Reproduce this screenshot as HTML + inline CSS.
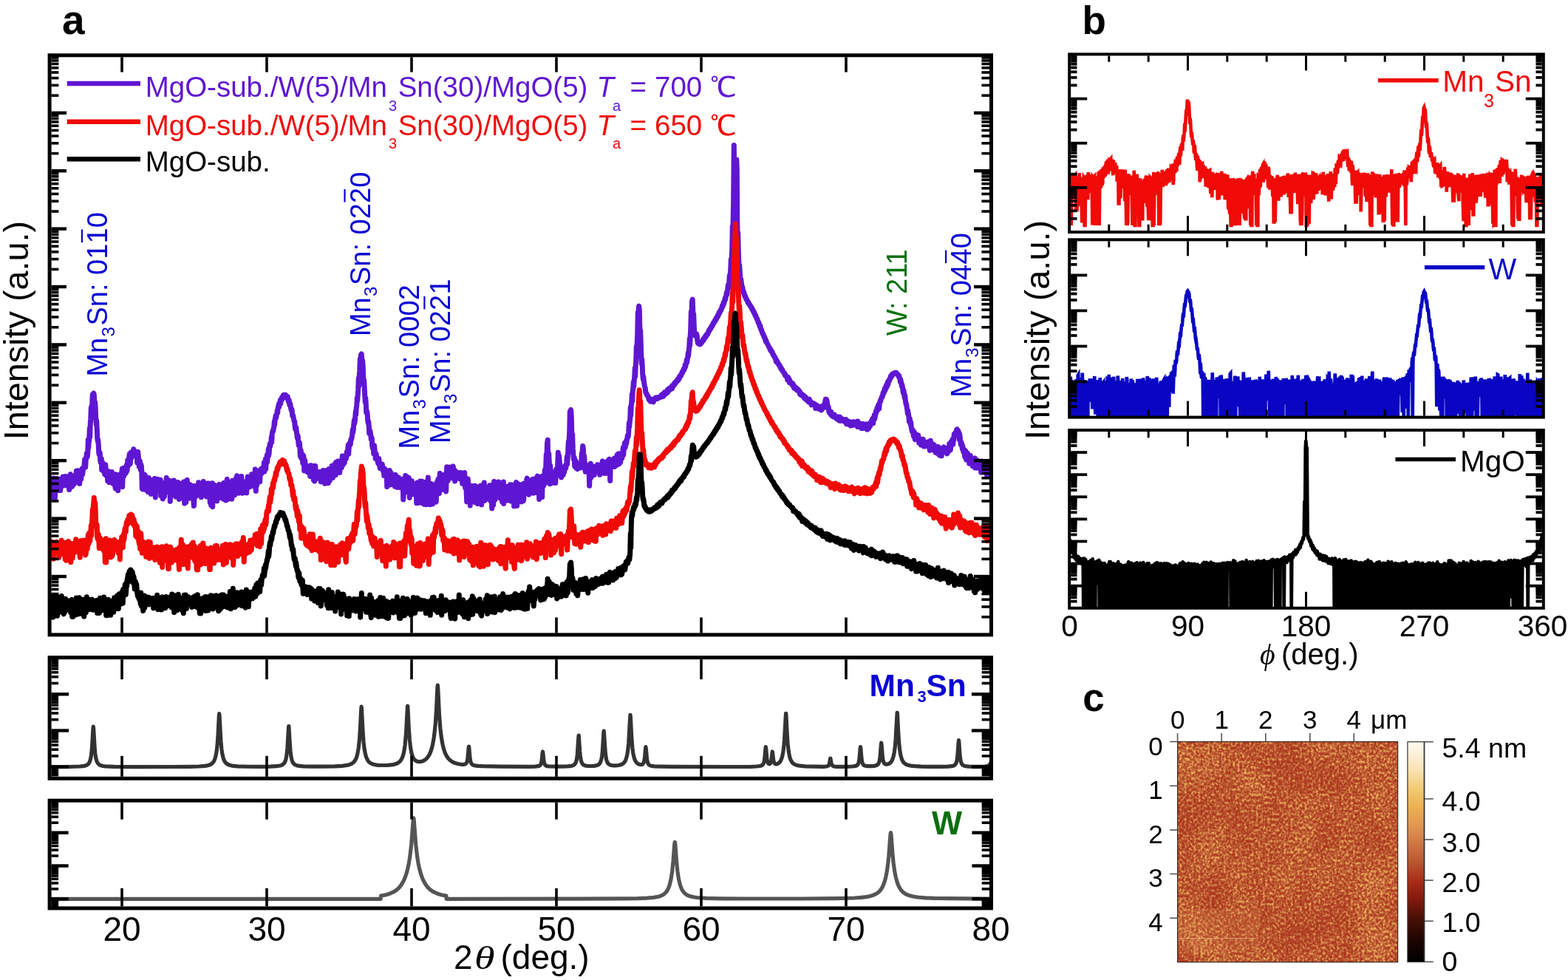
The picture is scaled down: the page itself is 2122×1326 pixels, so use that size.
<!DOCTYPE html><html><head><meta charset="utf-8"><title>XRD figure</title><style>html,body{margin:0;padding:0;background:#fff;overflow:hidden}svg{display:block}</style></head><body><svg xmlns="http://www.w3.org/2000/svg" width="2122" height="1326" viewBox="0 0 2122 1326"><defs><clipPath id="clipA"><rect x="67.1" y="74.8" width="1274.4" height="784.1"/></clipPath><clipPath id="clipMn"><rect x="67.1" y="889.7" width="1274.4" height="163.6"/></clipPath><clipPath id="clipW"><rect x="67.1" y="1083.2" width="1274.4" height="145.7"/></clipPath><clipPath id="clipB1"><rect x="1447.2" y="73.4" width="641.6" height="240.6"/></clipPath><clipPath id="clipB2"><rect x="1447.2" y="324.3" width="641.6" height="240.3"/></clipPath><clipPath id="clipB3"><rect x="1447.2" y="582" width="641.6" height="240.8"/></clipPath><filter id="afm" x="0" y="0" width="1" height="1" color-interpolation-filters="sRGB"><feTurbulence type="fractalNoise" baseFrequency="0.32 0.27" numOctaves="2" seed="11" result="hi0"/><feColorMatrix in="hi0" type="matrix" values="1 0 0 0 0 1 0 0 0 0 1 0 0 0 0 0 0 0 0 1" result="hi"/><feTurbulence type="fractalNoise" baseFrequency="0.018 0.014" numOctaves="2" seed="5" result="lo0"/><feColorMatrix in="lo0" type="matrix" values="1 0 0 0 0 1 0 0 0 0 1 0 0 0 0 0 0 0 0 1" result="lo"/><feComposite in="hi" in2="lo" operator="arithmetic" k1="0" k2="1" k3="0.3" k4="-0.150" result="mix"/><feColorMatrix in="mix" type="matrix" values="1.7 0 0 0 -0.350 1.7 0 0 0 -0.350 1.7 0 0 0 -0.350 0 0 0 0 1"/><feComponentTransfer><feFuncR type="gamma" amplitude="0.32" exponent="2.2" offset="0.39"/><feFuncG type="gamma" amplitude="0.32" exponent="2.2" offset="0.39"/><feFuncB type="gamma" amplitude="0.32" exponent="2.2" offset="0.39"/></feComponentTransfer><feComponentTransfer><feFuncR type="table" tableValues="0.000 0.037 0.074 0.110 0.161 0.215 0.269 0.337 0.416 0.494 0.564 0.620 0.670 0.692 0.713 0.740 0.772 0.802 0.830 0.857 0.878 0.898 0.918 0.931 0.940 0.949 0.957 0.964 0.971 0.979 0.986 0.993 1.000"/><feFuncG type="table" tableValues="0.000 0.006 0.012 0.018 0.030 0.044 0.057 0.072 0.086 0.101 0.121 0.149 0.183 0.245 0.308 0.362 0.409 0.457 0.506 0.555 0.596 0.635 0.675 0.712 0.749 0.786 0.820 0.854 0.889 0.913 0.935 0.958 0.980"/><feFuncB type="table" tableValues="0.000 0.000 0.000 0.000 0.006 0.013 0.021 0.029 0.039 0.049 0.062 0.079 0.100 0.137 0.174 0.205 0.233 0.260 0.284 0.309 0.314 0.314 0.314 0.343 0.392 0.443 0.531 0.619 0.707 0.771 0.831 0.890 0.949"/></feComponentTransfer></filter><linearGradient id="cbg" x1="0" y1="0" x2="0" y2="1"><stop offset="0.000" stop-color="#FFFAF2"/><stop offset="0.120" stop-color="#F8E4B8"/><stop offset="0.220" stop-color="#F2C870"/><stop offset="0.300" stop-color="#ECB050"/><stop offset="0.400" stop-color="#DC9050"/><stop offset="0.480" stop-color="#CA7040"/><stop offset="0.550" stop-color="#B85530"/><stop offset="0.630" stop-color="#AA2C18"/><stop offset="0.700" stop-color="#8A1C0E"/><stop offset="0.800" stop-color="#4A1006"/><stop offset="0.900" stop-color="#1E0500"/><stop offset="1.000" stop-color="#000000"/></linearGradient></defs><rect width="2122" height="1326" fill="#fff"/><polyline points="63.3,649 63.7,666 64.3,655.6 64.7,654.7 65.3,649 65.7,660.9 66.3,658.6 66.7,645.9 67.3,651.8 67.7,673.9 68.3,662.5 68.7,653.2 69.3,649.1 69.7,661.5 70.3,666 70.7,659.7 71.3,653.6 71.7,665.4 72.3,654.2 72.7,647 73.3,648.2 73.7,658.4 74.3,674.7 74.7,667.9 75.3,649.8 75.7,660.9 76.3,648.5 76.7,647.5 77.3,651 77.7,660 78.3,656 78.7,648.1 79.3,653.3 79.7,663.5 80.5,653.4 81.3,648.3 81.7,663.7 82.5,654 83.3,655.3 83.7,657.2 84.3,657.7 84.7,657.1 85.3,645.1 85.7,655.1 86.3,654.7 86.7,646.6 87.3,650.4 87.7,656 88.3,653 88.7,644.4 89.3,646.4 89.7,657 90.3,656.5 90.7,645.1 91.3,646.3 91.7,651.4 92.3,655.1 92.7,646.1 93.3,649.3 93.7,662.6 94.3,653.2 94.7,646.8 95.3,641.7 95.7,649.3 96.3,655.7 96.7,647.1 97.3,644.5 97.7,658.4 98.3,655.7 98.7,654.3 99.3,648.2 99.7,654.4 100.3,655.1 100.7,650 101.3,643.8 101.7,647.3 102.3,649 102.7,642.6 103.3,637.3 103.7,645.2 104.3,652.4 104.7,643.8 105.3,636.8 105.7,649 106.3,644.8 106.7,641.3 107.3,641.3 107.7,654.5 108.3,646.3 108.7,643.1 109.3,643.9 109.7,648.4 110.3,638.8 110.7,635.1 111.3,633.8 111.7,642 112.3,636.2 112.7,633.9 113.3,631.8 113.7,634.1 114.3,625.6 114.7,621.6 115.3,621.9 115.7,632.1 116.3,622.2 116.7,620.3 117.3,613.5 117.7,618.6 118.3,617.6 118.7,613.8 119.3,595.1 119.7,606.1 120.3,597.3 120.7,596 121.3,579.5 121.7,591.4 122.3,572.4 122.7,567.5 123.3,551.6 123.7,564.7 124.3,550.2 124.7,545.5 125.3,534.1 125.7,541.8 126.3,533.2 126.7,532.1 127.3,533.8 127.7,541 128.3,549.3 128.7,544.5 129.3,553.2 129.7,566.5 130.3,574.4 130.7,569.3 131.3,581.9 131.7,592.7 132.3,597.3 132.7,594.6 133.3,602.1 133.7,612.9 134.3,615.4 134.7,611.5 135.3,613 135.7,623.2 136.3,626 136.7,622.6 137.3,620.3 137.7,636 138.3,627.4 138.7,625.4 139.3,630.1 139.7,634.8 140.3,637.8 140.7,634.3 141.3,632.6 141.7,641.7 142.3,634.8 142.7,628.7 143.3,635.4 143.7,643.2 144.3,639.4 144.7,639 145.3,643 145.7,650.7 146.3,644.5 146.7,639.7 147.3,637.9 147.7,652.7 148.3,641.9 148.7,640.9 149.3,641.9 149.7,651.3 150.3,647.5 150.7,645.3 151.3,638.6 151.7,653 152.3,654 152.7,640.7 153.3,641.7 153.7,648.4 154.3,647.9 154.7,642.7 155.3,645.3 155.7,658.3 156.3,660.9 156.7,645 157.3,641.9 157.7,647.6 158.3,659.1 158.7,653 159.3,651.3 159.7,663.8 160.3,652.3 160.7,650.4 161.3,642.5 161.7,647.6 162.3,653.4 162.7,652.9 163.3,641.6 163.7,648.9 164.3,647.6 164.7,639.9 165.3,634.3 165.7,658.7 166.3,641.8 166.7,638.1 167.3,633.3 167.7,644.2 168.3,637.8 168.7,634.7 169.3,634.8 169.7,636.4 170.3,640.2 170.7,637 171.3,629.3 171.7,637.7 172.3,635.6 172.7,622.8 173.3,629.5 173.7,630.3 174.3,626.3 174.7,618.6 175.3,614.3 175.7,620.7 176.3,627.5 176.7,620.5 177.3,612.2 177.7,620.2 178.3,614.2 178.7,611.3 179.3,610.9 179.7,617 180.4,610.7 180.8,607.8 181.3,608.7 181.7,611.8 182.3,613.6 182.7,612.9 183.3,611.5 183.7,616.3 184.3,617 184.7,615.1 185.3,617.2 185.7,626.1 186.3,617.6 186.7,611.6 187.3,617.9 187.7,623.3 188.3,631.6 188.7,625.3 189.3,623.5 189.7,630.6 190.3,635.8 190.7,628.2 191.3,630.2 191.7,636.7 192.3,661.1 192.7,660.1 193.3,641.5 193.7,662.1 194.3,648.2 194.7,643.6 195.3,641.8 195.7,649.9 196.5,643.2 197.3,652.8 197.7,662.8 198.3,647 198.7,646.5 199.3,653.2 199.7,660.6 200.3,665.5 200.7,654.6 201.3,646.4 201.7,649 202.3,655.8 202.7,651.3 203.3,656.5 203.7,665.1 204.3,668.4 204.7,649.8 205.3,649.8 205.7,663.2 206.3,657.2 206.7,655.1 207.3,654 207.7,660.7 208.3,657.1 208.7,654.9 209.3,647.5 209.7,651.9 210.3,673 210.7,655.7 211.3,651.6 211.7,661.7 212.3,663.8 212.7,653.8 213.3,648.2 213.7,651.2 214.3,661.9 214.7,651.4 215.3,649.2 215.7,657.3 216.5,651.1 217.3,649.3 217.7,670.9 218.3,664.2 218.7,661.8 219.3,655.4 219.7,661.8 220.3,674.9 220.7,659.3 221.3,656.5 221.7,662.9 222.3,672 222.7,665.8 223.3,653.2 223.7,655.4 224.3,661.2 224.7,654.6 225.3,646.4 225.7,665 226.3,663.9 226.7,652.6 227.3,654.4 227.7,665.8 228.3,661.8 228.7,653.6 229.3,650.2 229.7,655.2 230.3,678.4 230.7,668.8 231.3,652.5 231.7,659.6 232.3,662.9 232.7,654.5 233.3,653.3 233.7,659.2 234.3,663.6 234.7,659 235.3,649.9 235.7,669.8 236.3,667.2 236.7,658.1 237.3,654.5 237.7,672.1 238.3,660.4 238.7,656.1 239.3,658 239.7,671.1 240.3,672 240.7,652.6 241.3,654.4 241.7,669.5 242.3,675.4 242.7,670.5 243.3,654.1 243.7,663.8 244.3,669.8 244.7,664.1 245.3,656.3 245.7,661.6 246.3,673.7 246.7,654.5 247.3,655.6 247.7,670.3 248.3,659.2 248.7,652.1 249.3,660.5 249.7,681.1 250.3,674.4 250.7,655.7 251.3,651.3 251.7,679.6 252.3,663.3 252.7,653.3 253.3,649.5 253.7,666.1 254.3,667.8 254.7,660.3 255.3,659.7 255.7,669.5 256.3,674.3 256.7,655.5 257.3,663.8 257.7,672.8 258.3,661.7 258.7,656.8 259.3,657.1 259.7,664.6 260.3,673.7 260.7,665.3 261.3,657.9 261.7,674.2 262.3,684.6 262.7,680.9 263.3,657.6 263.7,662 264.3,672.4 264.7,665.1 265.3,661.5 265.7,671 266.3,664.3 266.7,661.2 267.3,662.4 267.7,667.5 268.3,661.2 268.7,652.7 269.3,656.9 269.7,662.2 270.3,659.6 270.7,657.4 271.3,660.1 271.7,661.9 272.3,672.7 272.7,665.1 273.3,659.7 273.7,666.1 274.3,670.6 274.7,658.6 275.3,651.4 275.7,661.5 276.3,665.4 276.7,659.5 277.3,660.6 277.7,663.2 278.3,662.7 278.7,656.8 279.3,663.5 279.7,672 280.3,656.3 280.7,654.1 281.3,656.3 281.7,671 282.3,666.4 282.7,654 283.3,661.2 283.7,670.6 284.3,679.9 284.7,660.1 285.3,656.7 285.7,683.7 286.3,668.6 286.7,661.9 287.3,653.8 287.7,685.7 288.3,666.1 288.7,661.3 289.3,659 289.7,661.9 290.3,676.9 290.7,656.6 291.3,657.4 291.7,661.2 292.3,664.2 292.7,661.2 293.3,659.3 293.7,678 294.3,672.3 294.7,661.7 295.3,659 295.7,671 296.3,656.9 296.7,655.3 297.3,658.4 297.7,673.6 298.3,667.7 298.7,664.3 299.3,666 299.7,669.3 300.3,664.2 300.7,657.7 301.3,658.3 301.7,674.6 302.3,667.3 302.7,653.4 303.3,661.9 303.7,675.8 304.3,662.4 304.7,660.1 305.3,656.1 305.7,677.1 306.3,664.4 306.7,660.9 307.3,648.4 307.7,672.6 308.3,675.6 308.7,659.6 309.3,661.1 309.7,671.8 310.3,654.7 310.7,653.8 311.3,653.2 311.7,660.7 312.3,660.9 312.7,657.9 313.3,662.1 313.7,675.2 314.3,671.6 314.7,650.2 315.3,657.4 315.7,669.5 316.3,662.2 316.7,658.9 317.3,655.8 317.7,669.8 318.3,660.8 318.7,660.5 319.3,647.3 319.7,661.5 320.3,650.6 320.7,643.7 321.3,656 321.7,665 322.3,664.6 322.7,662.6 323.3,655.9 323.7,667.3 324.3,666.3 324.7,645.8 325.3,652.2 325.7,656.8 326.3,662.9 326.7,644.5 327.3,653.5 327.7,664.1 328.3,667.3 328.7,653 329.3,655.2 329.7,662.7 330.3,654.9 330.7,654.4 331.3,663.3 331.7,665.6 332.3,661.2 332.7,659.2 333.3,651.4 333.7,667 334.3,653.5 334.7,650.3 335.3,644.9 335.7,652.3 336.3,649.4 336.7,647.5 337.3,650.7 337.7,657 338.3,658.8 338.7,648.2 339.3,645.5 339.7,653.4 340.3,654.5 340.7,641.7 341.3,645.2 341.7,648.2 342.3,655.3 342.7,648 343.3,646.1 343.7,653.6 344.3,658.4 344.7,655.9 345.3,635 345.7,646.8 346.3,664.4 346.7,645.4 347.3,640.9 347.7,656.2 348.3,648.8 348.7,647.4 349.3,637.3 349.7,650.2 350.3,645.9 350.7,640.8 351.3,641.2 351.7,651.8 352.3,638.2 352.7,635.5 353.3,634.4 353.7,641.2 354.3,635.7 354.7,635.3 355.3,633.2 355.7,638.7 356.3,637.6 356.7,636.3 357.3,626 357.7,638.2 358.3,630.4 358.7,629.8 359.3,621.3 359.7,634.8 360.3,625.1 360.7,624.2 361.3,615.8 361.7,625.2 362.3,617.4 362.7,616.7 363.3,607.4 363.7,616.3 364.3,612 364.7,604.1 365.3,600.5 365.7,604.3 366.3,600.6 366.7,599.2 367.3,591.4 367.7,598.4 368.3,586.5 368.7,584.6 369.3,582.1 369.7,583.6 370.3,579.3 370.7,578.8 371.3,570.4 371.7,574.4 372.3,566.4 372.7,565.6 373.3,562.2 373.7,565.3 374.3,560.7 374.7,560.4 375.3,555.3 375.7,558.5 376.3,551.1 376.7,550.6 377.3,546.8 377.7,550.7 378.3,545.2 378.7,544.6 379.3,541.6 379.7,546.3 380.3,540.5 380.7,539.9 381.3,538.1 381.7,540.9 382.3,538.7 382.7,536.7 383.3,534.7 383.7,535.9 384.3,534.9 384.7,534.5 385.2,534.3 385.6,535.4 386.3,535 386.7,534.5 387.3,535.8 387.7,536.6 388.3,538.7 388.7,536.8 389.3,536.8 389.7,540.3 390.3,543.1 390.7,542.1 391.3,542.1 391.7,547.6 392.3,547.2 392.7,546.2 393.3,549.9 393.7,552.7 394.3,555.5 394.7,553.3 395.3,556 395.7,562.7 396.3,563 396.7,562.3 397.3,565.8 397.7,567.9 398.3,570.7 398.7,570.1 399.3,577.8 399.7,580.7 400.3,579.1 400.7,578.3 401.3,584 401.7,586.8 402.3,592.4 402.7,588.4 403.3,590.8 403.7,598.6 404.3,602.7 404.7,599.1 405.3,598.8 405.7,602.5 406.3,617 406.7,608.4 407.3,609.7 407.7,619.9 408.3,618.5 408.7,614.2 409.3,619.6 409.7,626.6 410.3,618.9 410.7,616.1 411.3,621.1 411.7,637 412.3,626.2 412.7,622.9 413.3,630.3 413.7,634.6 414.3,636.9 414.7,631.7 415.3,630 415.7,636.4 416.3,638.8 416.7,636 417.3,634.5 417.7,639.5 418.3,639.8 418.7,635.3 419.3,634.5 419.7,644.4 420.3,637.5 420.7,629.7 421.3,635.2 421.7,639.5 422.3,642.5 422.7,638.2 423.3,636.6 423.7,641.8 424.3,649.1 424.7,638.5 425.3,630.4 425.7,651.1 426.3,648.1 426.7,630.4 427.3,639.3 427.7,646.5 428.3,647.8 428.7,638 429.3,639.1 429.7,645 430.3,644.8 430.7,641.5 431.3,640.9 431.7,642.8 432.3,642.1 432.7,638.4 433.3,640.1 433.7,641.8 434.3,651.9 434.7,639.9 435.3,645.1 435.7,651.2 436.3,649 436.7,642.6 437.3,636.6 437.7,640.8 438.3,642 438.7,641.5 439.3,642.1 439.7,654.3 440.3,643.8 440.7,638.4 441.3,636.5 441.7,650.7 442.3,645.2 442.7,639.7 443.3,636.3 443.7,650.3 444.3,653.6 444.7,641.6 445.3,634.5 445.7,637.7 446.3,650.4 446.7,637.9 447.3,637.2 447.7,643.7 448.3,642.7 448.7,637.5 449.3,630.3 449.7,633.7 450.3,646.4 450.7,643.9 451.3,636.7 451.7,641.6 452.3,641.1 452.7,640.2 453.3,627.8 453.7,642 454.3,642.8 454.7,625.5 455.3,625.6 455.7,638.6 456.3,631.7 456.7,630.9 457.3,623.9 457.7,637.2 458.3,637.5 458.7,636.5 459.3,631.7 459.7,639.5 460.3,630.8 460.7,627 461.3,623.6 461.7,631.4 462.3,633 462.7,629.9 463.3,617 463.7,623.7 464.3,628.9 464.7,619.5 465.3,623.2 465.7,625.2 466.3,626.2 466.7,618.4 467.3,618.7 467.7,621.2 468.3,620.9 468.7,618.1 469.3,611.5 469.7,616.1 470.3,610.8 470.7,607.7 471.3,602 471.7,614.3 472.3,604.6 472.7,602.3 473.3,599.4 473.7,602.1 474.3,601.3 474.7,595.6 475.3,593.6 475.7,594.6 476.5,589.2 477.3,581.2 477.7,585.2 478.3,580.7 478.7,575.2 479.3,569.1 479.7,573.5 480.3,569.7 480.7,564.4 481.3,557.1 481.7,561.1 482.3,551 482.7,549.9 483.3,538.5 483.7,542.3 484.3,534.1 484.7,527.7 485.3,511.9 485.7,522.3 486.3,508 486.7,502 487.3,486.1 487.7,496.1 488.3,481.7 488.7,479.5 489.2,478.9 489.6,484 490.3,495.2 490.7,488.3 491.3,498.1 491.7,509.1 492.3,519.3 492.7,514.8 493.3,526.5 493.7,534.6 494.3,544.1 494.7,538.5 495.3,546 495.7,558.1 496.3,559.3 496.7,556.8 497.3,561.8 497.7,569 498.3,572.6 498.7,570.3 499.3,576.4 499.7,586.4 500.3,584.7 500.7,582.7 501.3,585.5 501.7,588 502.3,594.3 502.7,591.9 503.3,593.4 503.7,603.3 504.3,606.3 504.7,605.2 505.3,603 505.7,613.9 506.5,602.8 507.3,610.1 507.7,614.7 508.3,620.7 508.7,613.6 509.3,614.5 509.7,619.8 510.3,621.2 510.7,620 511.3,625.5 511.7,627 512.3,627.4 512.7,620.5 513.3,625.6 513.7,629.9 514.3,633.7 514.7,630.8 515.3,628.7 515.7,631.5 516.3,630.7 516.7,628.7 517.3,628.1 517.7,632 518.5,637.4 519.3,634.5 519.7,643.6 520.3,641.1 520.7,634.2 521.3,634.6 521.7,639.5 522.3,643 522.7,639.2 523.3,641.1 523.7,658.6 524.3,645.7 524.7,641.5 525.3,638.9 525.7,645.1 526.3,642.9 526.7,639.2 527.3,636.5 527.7,644.5 528.3,656 528.7,644.2 529.3,640 529.7,648.7 530.3,646.2 530.7,644.8 531.3,642.7 531.7,651 532.3,652.6 532.7,649.8 533.3,648.1 533.7,654.4 534.3,658.3 534.7,645.1 535.3,642.3 535.7,657.3 536.3,656.2 536.7,646.7 537.3,653.7 537.7,659.6 538.3,650 538.7,649.5 539.3,645.9 539.7,656.1 540.3,657.1 540.7,647.6 541.3,649.7 541.7,659.8 542.3,659.3 542.7,648.2 543.3,652.3 543.7,658.5 544.3,651.7 544.7,650 545.3,653.3 545.7,675.9 546.3,667.9 546.7,651.7 547.3,647.3 547.7,658 548.3,652.6 548.7,643.4 549.3,656.8 549.7,665.5 550.3,659.6 550.7,647.3 551.3,645.3 551.7,661.6 552.3,661.4 552.7,652.1 553.3,646.5 553.7,657.1 554.3,673.4 554.7,657.1 555.3,652.5 555.7,659.3 556.3,662.1 556.7,660.1 557.3,650.7 557.7,669.1 558.5,658.3 559.3,654.4 559.7,665.9 560.3,666.6 560.7,664.6 561.3,657.5 561.7,666.3 562.3,660.3 562.7,658.1 563.3,661.1 563.7,680.7 564.3,658 564.7,653.1 565.3,656.3 565.7,662.2 566.3,680.4 566.7,665.8 567.3,656 567.7,675 568.3,676.9 568.7,651 569.3,651.8 569.7,672.9 570.3,658.6 570.7,652.6 571.3,651.3 571.7,681 572.3,674.3 572.7,659.6 573.3,652.8 573.7,662.6 574.3,682.5 574.7,662.4 575.3,652.4 575.7,657 576.3,665.7 576.7,663.5 577.3,665.7 577.7,682.7 578.3,670.2 578.7,657.8 579.3,646.1 579.7,662.2 580.3,664.7 580.7,661 581.3,660 581.7,682.7 582.3,682.7 582.7,662.7 583.3,654.6 583.7,669.1 584.3,674.8 584.7,657.3 585.5,681.9 586.3,657 586.7,656 587.3,656.5 587.7,661.6 588.3,668.7 588.7,658.2 589.3,655.4 589.7,676.9 590.3,679.3 590.7,660.1 591.3,652.7 591.7,657.5 592.3,654.7 592.7,649 593.3,647.8 593.7,661 594.3,667.7 594.7,650.8 595.3,640.6 595.7,651.8 596.3,655.4 596.7,644.1 597.3,646.1 597.7,662.7 598.3,653.9 598.7,646.6 599.3,643.1 599.7,648.9 600.3,649.7 600.7,645 601.3,649.2 601.7,660 602.3,652.3 602.7,641.3 603.3,664.1 603.7,665 604.3,643.3 604.7,631.8 605.3,636.2 605.7,639.5 606.3,650.5 606.7,633.4 607.3,638.3 607.7,641.9 608.3,644.5 608.7,631.9 609.3,635 609.7,641.7 610.3,643 610.7,635.7 611.3,633.3 611.7,639.3 612.3,646.9 612.7,634.4 613.3,630.9 613.7,634.4 614.3,647.6 614.7,637.9 615.3,636.3 615.7,651.1 616.3,647.1 616.7,640.1 617.3,637.9 617.7,645.4 618.3,644.5 618.7,642.2 619.3,640.2 619.7,647.2 620.3,644.1 620.7,640.1 621.3,640.6 621.7,647.1 622.5,647.9 623.3,639.4 623.7,648.1 624.3,647.6 624.7,645.6 625.3,648.1 625.7,654.4 626.3,652.5 626.7,645.7 627.3,645.1 627.7,649.8 628.3,655.7 628.7,639.4 629.3,653.3 629.7,660.1 630.3,657.7 630.7,647.5 631.3,668.6 631.7,678.8 632.3,667.7 632.7,659 633.3,648.1 633.7,655.5 634.3,670.5 634.7,667.9 635.3,660.2 635.7,669.6 636.3,684 636.7,660.6 637.3,661.9 637.7,677.6 638.3,674.8 638.7,657.4 639.3,660.8 639.7,666.8 640.3,663.4 640.7,661.9 641.3,661.5 641.7,677.9 642.3,679.6 642.7,657.2 643.3,664.4 643.7,665.1 644.3,672.9 644.7,671.6 645.3,658.5 645.7,666.2 646.3,681.6 646.7,661.2 647.3,661 647.7,667.3 648.3,672.5 648.7,664.1 649.3,664.3 649.7,677.2 650.3,668.3 650.7,656.9 651.3,669.2 651.7,682.8 652.3,663.6 652.7,663 653.3,658.6 653.7,665.4 654.3,677.2 654.7,672.5 655.3,653.1 655.7,677.5 656.3,673.5 656.7,666.9 657.3,667 657.7,668.1 658.3,675.4 658.7,660.7 659.3,668.3 659.7,669.8 660.3,666 660.7,664.7 661.3,659 661.7,668.8 662.3,665 662.7,656.8 663.3,665.3 663.7,677.7 664.3,664.5 664.7,662.9 665.3,663.9 665.7,688 666.3,683.8 666.7,676.3 667.3,655.6 667.7,683.2 668.3,658.5 668.7,651.5 669.3,666.9 669.7,676.5 670.5,669.2 671.3,660.2 671.7,672.1 672.3,664.9 672.7,663.3 673.3,656.3 673.7,669.4 674.3,668.6 674.7,651.9 675.3,668.6 675.7,673.4 676.3,670.5 676.7,665 677.3,658.2 677.7,664.1 678.3,675.3 678.7,662.4 679.3,662.6 679.7,679.1 680.3,671.8 680.7,669 681.3,652 681.7,681.4 682.3,665.4 682.7,663 683.3,660.3 683.7,665.9 684.3,677.4 684.7,662.6 685.3,665.9 685.7,668 686.3,674.8 686.7,658.2 687.3,662.9 687.7,676.9 688.3,676.3 688.7,668.4 689.3,661.5 689.7,667 690.3,662 690.7,655.8 691.3,659.9 691.7,678.2 692.3,660.7 692.7,659.6 693.3,656.3 693.7,670.4 694.3,678.7 694.7,656.2 695.3,659.2 695.7,685 696.3,661.1 696.7,658.8 697.3,663 697.7,673 698.3,659.9 698.7,652.4 699.3,654.4 699.7,684.5 700.3,667 700.7,658.3 701.3,654.8 701.7,669.5 702.3,661.9 702.7,659 703.3,659.3 703.7,660.1 704.3,662 704.7,661.2 705.3,656.2 705.7,678.9 706.3,660.5 706.7,655.4 707.3,669.5 707.7,677.6 708.3,677.7 708.7,675.6 709.3,654 709.7,665.8 710.3,659.4 710.7,658.8 711.3,655.9 711.7,661.4 712.3,667.3 712.7,648.8 713.3,647.1 713.7,667.4 714.3,664.9 714.7,660.1 715.3,657.3 715.7,669.2 716.3,661.2 716.7,657.8 717.3,650.3 717.7,664.4 718.3,658.9 718.7,657.6 719.3,652.5 719.7,662.3 720.3,654.7 720.7,648.5 721.3,651.3 721.7,667.3 722.3,660.2 722.7,659.9 723.3,647.9 723.7,664.1 724.3,659.8 724.7,658.2 725.3,656.1 725.7,666.4 726.3,651.1 726.7,645.9 727.3,644 727.7,665.6 728.3,658.4 728.7,650.5 729.3,648.6 729.7,675.5 730.3,653.8 730.7,651.5 731.3,650.3 731.7,658.7 732.3,661.1 732.7,650.7 733.3,644.5 733.7,672.6 734.3,647.9 734.7,645.1 735.3,646.6 735.7,657.1 736.5,647.3 737.3,636.2 737.7,653.8 738.3,634.5 738.7,632.1 739.3,615 739.7,626.7 740.5,599.8 741.2,595.2 741.6,616 742.3,621.7 742.7,613.7 743.3,625.7 743.7,633.2 744.3,654.8 744.7,630.1 745.3,638.6 745.7,645.2 746.3,653.2 746.7,649.5 747.3,651.4 747.7,653.4 748.3,652.1 748.7,646.2 749.3,639 749.7,651.8 750.3,647.5 750.7,639.5 751.3,641.5 751.7,653.6 752.3,641.2 752.7,635.3 753.3,634.1 753.7,638 754.3,643.4 754.7,629.3 755.3,612.2 755.7,628.9 756.1,622.7 756.5,616.2 757.3,624.4 757.7,628.3 758.3,635.5 758.7,631.8 759.3,638.4 759.7,646 760.3,642.8 760.7,642.4 761.3,637.3 761.7,641.3 762.3,642.6 762.7,637.9 763.3,637.8 763.7,639.1 764.3,633.4 764.7,630.1 765.3,629.5 765.7,633.8 766.3,629.4 766.7,625.6 767.3,617.9 767.7,628.1 768.3,618.9 768.7,610.9 769.3,597.5 769.7,611.8 770.3,593 770.7,584.8 771.3,557.1 771.7,574.1 772.2,555.7 772.6,554.4 773.3,565.5 773.7,583 774.3,595.3 774.7,587.7 775.3,607.2 775.7,612.4 776.3,620.9 776.7,620.5 777.3,619.1 777.7,631 778.3,630 778.7,627 779.3,623.8 779.7,633.2 780.3,631.4 780.7,630.2 781.3,629.2 781.7,634.7 782.5,632.8 783.3,631 783.7,632.4 784.3,632.9 784.7,627.2 785.3,627.3 785.7,630 786.3,632.9 786.7,626.8 787.3,613.5 787.7,623.2 788.3,608.5 788.7,603.5 789.3,606.5 789.7,614.7 790.3,621.7 790.7,616.9 791.3,627.2 791.7,635.3 792.3,638.3 792.7,636.6 793.3,632.5 793.7,638.1 794.3,637.3 794.7,634.1 795.3,631.5 795.7,637.7 796.3,637.5 796.7,629.6 797.3,642.1 797.7,657.3 798.3,633.3 798.7,630.6 799.3,627.2 799.7,646.5 800.3,644.8 800.7,631.8 801.3,630.4 801.7,634.3 802.3,634.4 802.7,634 803.3,635.6 803.7,638.9 804.3,642.6 804.7,634.5 805.3,633.9 805.7,637 806.3,633.9 806.7,630.7 807.3,630.2 807.7,638.2 808.3,638.4 808.7,628.7 809.3,632.6 809.7,637 810.3,633.2 810.7,632.4 811.3,630.2 811.7,642.3 812.3,638.7 812.7,634.8 813.3,631.9 813.7,637.8 814.5,629.5 815.3,624 815.7,638.3 816.3,632.8 816.7,627.1 817.3,633.4 817.7,640.5 818.3,638.2 818.7,629.3 819.3,636.1 819.7,636.8 820.3,633.1 820.7,625.3 821.3,626.5 821.7,640.3 822.3,629.9 822.7,623.5 823.3,629.3 823.7,634.5 824.3,629.2 824.7,621.3 825.3,628.3 825.7,650.5 826.3,628.2 826.7,626.7 827.3,626 827.7,629.3 828.3,624.7 828.7,623.3 829.3,625.8 829.7,627.8 830.3,623.8 830.7,621.7 831.3,620.1 831.7,631.6 832.3,627.6 832.7,625 833.3,620.1 833.7,627.3 834.3,629.9 834.7,620.7 835.3,615.5 835.7,623.5 836.3,626 836.7,620.5 837.3,613.8 837.7,627.9 838.3,624.4 838.7,618.7 839.3,624.9 839.7,625.9 840.3,616.4 840.7,614.1 841.3,614.8 841.7,620.2 842.3,612.9 842.7,612 843.3,605.7 843.7,615.8 844.3,608.3 844.7,607.3 845.3,599.6 845.7,606 846.3,605.1 846.7,600.8 847.3,596.8 847.7,600.2 848.3,595.3 848.7,593.7 849.3,589.6 849.7,591.8 850.3,590.3 850.7,584.9 851.3,572.6 851.7,577.5 852.3,569.7 852.7,567.6 853.3,551 853.7,562.1 854.3,548.3 854.7,544.9 855.3,533.5 855.7,542.8 856.3,529 856.7,526.5 857.3,517.1 857.7,523.2 858.3,514.4 858.7,511 859.3,498 859.7,509 860.3,494.2 860.7,488.1 861.3,468.8 861.7,482.7 862.3,461.3 862.7,452.2 863.3,422.7 863.7,442.3 864.3,415.7 864.7,414.1 865.3,418.6 865.7,437.7 866.3,456.2 866.7,447.3 867.3,465.3 867.7,479.7 868.3,492.2 868.7,486.1 869.3,496.3 869.7,506.3 870.3,512.9 870.7,509.3 871.3,514.6 871.7,518.8 872.5,522.8 873.3,525.4 873.7,530.8 874.3,532 874.7,531.7 875.3,533.6 875.7,534.9 876.3,535.8 876.7,535.4 877.3,537.6 877.7,538.6 878.3,541 878.7,540.3 879.3,539.1 879.7,541 880.3,543.3 880.7,540.5 881.3,540.4 881.7,541.2 882.3,542.4 882.7,542.1 883.3,540.4 883.7,543.8 884.3,544 884.7,541.3 885.3,539.9 885.7,541.2 886.5,540.5 887.3,538.1 887.7,539.7 888.3,539.6 888.7,539.2 889.3,538 889.7,538.8 890.3,539.2 890.7,537.6 891.5,538.1 892.5,537.2 893.5,537.5 894.3,536.8 894.7,535.9 895.3,534 895.7,537 896.5,534.6 897.3,533.3 897.7,536.4 898.3,533.1 898.7,531.7 899.3,530.6 899.7,534 900.3,532.4 900.7,530.8 901.3,530.6 901.7,532.6 902.5,530.5 903.3,527.3 903.7,530.9 904.3,527.4 904.7,527 905.3,525.5 905.7,528.4 906.3,527.8 906.7,525.8 907.3,524.7 907.7,526.7 908.3,526.3 908.7,523.8 909.3,522 909.7,525.8 910.5,522.1 911.3,520.4 911.7,522 912.3,520.7 912.7,520.2 913.3,517.6 913.7,519.4 914.3,517.8 914.7,517.1 915.3,515.7 915.7,516.9 916.3,516 916.7,514.7 917.3,513.1 917.7,514.7 918.3,513.8 918.7,511.8 919.3,509.6 919.7,511.7 920.3,509.9 920.7,509.1 921.3,507.1 921.7,508.3 922.5,505.7 923.3,502.8 923.7,504.4 924.3,501.9 924.7,501.3 925.3,499 925.7,500.9 926.5,498.4 927.3,493.4 927.7,496.5 928.3,492.5 928.7,490.6 929.3,486.8 929.7,490.2 930.3,485.3 930.7,483.7 931.3,477.4 931.7,481.5 932.3,473.8 932.7,470.8 933.3,458.3 933.7,467 934.3,452.6 934.7,446.1 935.3,421.8 935.7,439 936.3,413 936.7,406.6 937.2,405 937.6,416.8 938.3,432.8 938.7,425.1 939.3,440.4 939.7,449.2 940.3,453.9 940.7,452.4 941.3,453 941.7,454.9 942.3,452.4 942.7,452 943.3,454.4 943.7,460.5 944.3,463.9 944.7,462.1 945.3,464.8 945.7,465.5 946.5,465.6 947.3,465.2 947.7,465.7 948.3,464.6 948.7,464.1 949.3,462.9 949.7,463.6 950.3,462.2 950.7,461.8 951.3,459.4 951.7,461.1 952.3,459.6 952.7,458.5 953.3,456.6 953.7,458.1 954.3,455.9 954.7,455.5 955.3,453.5 955.7,455.5 956.3,453.1 956.7,452.3 957.3,451.3 957.7,452.3 958.5,450 959.3,446.9 959.7,448.3 960.3,446.4 960.7,445.7 961.3,443.7 961.7,445.3 962.3,442.8 962.7,442.4 963.3,440.7 963.7,441.7 964.3,440.1 964.7,438.9 965.3,436.8 965.7,438.2 966.3,436.5 966.7,435.4 967.3,433.7 967.7,435.2 968.3,433 968.7,432.1 969.3,430.1 969.7,431.7 970.3,429.2 970.7,428.9 971.3,426.6 971.7,428.2 972.5,425.6 973.3,422.4 973.7,424.1 974.3,422.1 974.7,420.9 975.3,418.9 975.7,420.4 976.3,418.1 976.7,417.1 977.3,413.7 977.7,415.7 978.3,413.7 978.7,412 979.3,409 979.7,411 980.3,407.7 980.7,406.6 981.3,403.2 981.7,405.4 982.3,401.9 982.7,400.2 983.3,396 983.7,398.7 984.3,393.9 984.7,392.3 985.3,386 985.7,390.3 986.3,383.7 986.7,381.6 987.3,372.9 987.7,378.9 988.3,369.5 988.7,365.7 989.3,351.1 989.7,361.4 990.3,345 990.7,337.6 991.3,306.1 991.7,329.1 992.3,289.9 992.7,268 993.3,196.5 993.7,236.7 994.3,277 994.7,253.1 995.3,288.3 995.7,295.1 996.4,266.8 996.8,216 997.3,228.3 997.7,296.4 998.3,328.2 998.7,314.8 999.3,338.3 999.7,353 1000.3,363.5 1000.7,358.7 1001.3,367.6 1001.7,374.3 1002.3,380.1 1002.7,377.4 1003.3,382.2 1003.7,386.2 1004.3,389.8 1004.7,388.2 1005.3,391.4 1005.7,394.2 1006.3,396.4 1006.7,395.3 1007.3,397.6 1007.7,399.8 1008.3,401.6 1008.7,400.6 1009.3,402.6 1009.7,404.4 1010.3,405.6 1010.7,405.3 1011.3,406.6 1011.7,408.1 1012.3,409.6 1012.7,408.6 1013.3,410.5 1013.7,411.3 1014.3,412.7 1014.7,412.2 1015.3,413.3 1015.7,414.5 1016.3,415.7 1016.7,415.2 1017.3,416.2 1017.7,418 1018.3,419.7 1018.7,418.7 1019.3,420.2 1019.7,422 1020.3,423.2 1020.7,422.5 1021.3,424.3 1021.7,426.2 1022.3,427.7 1022.7,426.5 1023.3,428.7 1023.7,430.5 1024.3,431.9 1024.7,431.5 1025.3,433.2 1025.7,434.9 1026.3,437.1 1026.7,436.2 1027.3,437.9 1027.7,440.2 1028.3,442.1 1028.7,440.5 1029.3,442.8 1029.7,445.8 1030.3,447 1030.7,446.4 1031.3,448.6 1031.7,450.4 1032.3,452.1 1032.7,451.7 1033.3,453.2 1033.7,454.8 1034.3,456.5 1034.7,455.8 1035.3,457.6 1035.7,459.8 1036.3,462.1 1036.7,460.3 1037.3,462.7 1037.7,463.6 1038.5,465.5 1039.3,466.4 1039.7,467.5 1040.5,469.1 1041.3,470.3 1041.7,471.8 1042.3,473.4 1042.7,472.2 1043.3,474.1 1043.7,475.4 1044.3,476.1 1044.7,475.5 1045.3,477.2 1045.7,478.7 1046.3,480.5 1046.7,479.6 1047.3,481.4 1047.7,482.3 1048.3,483.6 1048.7,483.1 1049.3,485.1 1049.7,486 1050.3,489.2 1050.7,486.7 1051.3,488.1 1051.7,490.5 1052.5,490.1 1053.3,492.4 1053.7,493.1 1054.3,494.4 1054.7,493.2 1055.3,494.7 1055.7,495.9 1056.5,498.6 1057.3,497.9 1057.7,499.8 1058.3,501 1058.7,500.2 1059.3,502 1059.7,503.1 1060.5,503.8 1061.3,504.5 1061.7,505.4 1062.3,507.7 1062.7,506.8 1063.3,507.9 1063.7,509 1064.5,509.9 1065.3,511.4 1065.7,514 1066.3,512.2 1066.7,510.5 1067.3,513.4 1067.7,514.4 1068.3,517.5 1068.7,514 1069.3,516.3 1069.7,517 1070.3,518.6 1070.7,517.9 1071.3,519.2 1071.7,520.6 1072.3,519.8 1072.7,518.5 1073.3,519.8 1073.7,521.6 1074.3,524.5 1074.7,522.1 1075.3,522.9 1075.7,525.7 1076.3,525.4 1076.7,524 1077.3,524.6 1077.7,526.4 1078.3,527.8 1078.7,525.6 1079.3,526.1 1079.7,527.7 1080.5,529.2 1081.3,528.3 1081.7,529.8 1082.3,532.8 1082.7,530.3 1083.3,531.9 1083.7,534.4 1084.3,534.9 1084.7,532.9 1085.5,534.1 1086.5,534.2 1087.3,534.7 1087.7,536.8 1088.3,538.7 1088.7,535.9 1089.3,536.8 1089.7,537.4 1090.3,540 1090.7,537.7 1091.3,538.9 1091.7,541.6 1092.3,540.6 1092.7,540.1 1093.3,541.2 1093.7,542.4 1094.3,544 1094.7,540.8 1095.3,540.2 1095.7,542.2 1096.3,545 1096.7,542.9 1097.3,543.7 1097.7,544.6 1098.3,547.9 1098.7,547.3 1099.3,545.2 1099.7,545.8 1100.3,546.9 1100.7,546.4 1101.3,546 1101.7,546.8 1102.3,548.3 1102.7,546.6 1103.3,547.3 1103.7,552.6 1104.3,550.9 1104.7,550 1105.3,548.4 1105.7,549.7 1106.5,551.3 1107.3,552.7 1107.7,553.3 1108.3,553.1 1108.7,551.8 1109.3,551.3 1109.7,552.9 1110.3,553.5 1110.7,550.1 1111.3,551.4 1111.7,555.1 1112.3,553.1 1112.7,552 1113.3,550.4 1113.7,551.8 1114.3,551.9 1114.7,549.1 1115.3,546.9 1115.7,548.9 1116.5,544.9 1117.3,540.2 1117.7,541.7 1118.1,543 1118.5,540.4 1119.3,543.7 1119.7,546.6 1120.3,552.1 1120.7,549.6 1121.3,551.4 1121.7,556.9 1122.3,558.3 1122.7,556.7 1123.3,556.1 1123.7,558.3 1124.3,561 1124.7,557 1125.3,559.1 1125.7,559.7 1126.3,562.9 1126.7,560.5 1127.3,560.7 1127.7,562.1 1128.3,564.1 1128.7,560.9 1129.3,561.2 1129.7,563.8 1130.3,563.4 1130.7,563 1131.3,564 1131.7,565.2 1132.3,567 1132.7,566.3 1133.3,564.6 1133.7,566.7 1134.3,566.3 1134.7,564 1135.3,566.3 1135.7,569.1 1136.3,567.4 1136.7,564.2 1137.3,566.6 1137.7,569.5 1138.5,566.8 1139.3,566.6 1139.7,567.1 1140.3,568.6 1140.7,567.3 1141.5,567.9 1142.3,570.2 1142.7,568.4 1143.3,569.1 1143.7,571 1144.3,569.1 1144.7,567.5 1145.3,569.2 1145.7,573.8 1146.3,570.7 1146.7,570.2 1147.3,569.7 1147.7,573.7 1148.3,571.9 1148.7,571 1149.3,570.9 1149.7,574.8 1150.3,572.8 1150.7,570.8 1151.3,572.4 1151.7,576 1152.3,573.9 1152.7,572.7 1153.3,572.9 1153.7,575.5 1154.3,573 1154.7,571.7 1155.3,570.8 1155.7,575.1 1156.3,574.4 1156.7,571.1 1157.3,571.6 1157.7,573.3 1158.3,574.3 1158.7,573.9 1159.3,573 1159.7,575.2 1160.3,577.3 1160.7,570.1 1161.3,574.7 1161.7,576.3 1162.3,576 1162.7,573.5 1163.3,573 1163.7,577.6 1164.3,574.7 1164.7,573.1 1165.3,574.3 1165.7,579.6 1166.3,578.2 1166.7,575.8 1167.3,573.7 1167.7,576 1168.3,579.6 1168.7,573.8 1169.3,576.9 1169.7,577.9 1170.3,577.2 1170.7,575.8 1171.3,574.1 1171.7,577.9 1172.3,580.1 1172.7,574.5 1173.3,574 1173.7,581.3 1174.3,576.3 1174.7,574.1 1175.3,573.6 1175.7,579.6 1176.3,574.6 1176.7,573.8 1177.3,573.8 1177.7,576.7 1178.3,571.7 1178.7,571.1 1179.3,569.5 1179.7,572.2 1180.3,569.7 1180.7,566.6 1181.3,565.8 1181.7,572.8 1182.3,566.2 1182.7,564.7 1183.3,561.6 1183.7,567 1184.3,563.9 1184.7,561.7 1185.3,556.7 1185.7,559.1 1186.3,556.3 1186.7,553.6 1187.3,551.2 1187.7,555.1 1188.3,550 1188.7,547.7 1189.3,547.4 1189.7,553 1190.3,545.9 1190.7,544 1191.3,541.9 1191.7,543.1 1192.3,539.6 1192.7,539 1193.3,537.2 1193.7,537.8 1194.3,536.4 1194.7,533.6 1195.3,530.9 1195.7,532.9 1196.5,530 1197.3,525.6 1197.7,528.9 1198.3,526.8 1198.7,524.3 1199.2,521.5 1199.6,524.7 1200.3,522.9 1200.7,519.5 1201.3,516.8 1201.7,520.5 1202.5,517 1203.3,513.6 1203.7,515 1204.3,513.2 1204.7,512.6 1205.3,509.1 1205.7,511.3 1206.3,509.4 1206.7,509 1207.3,506.2 1207.7,507.7 1208.3,507 1208.7,505.9 1209.3,505.2 1209.7,505.8 1210.3,505.9 1210.7,505 1211.5,504.4 1212.3,505.7 1212.7,504.5 1213.2,504.4 1213.6,505.9 1214.5,506.2 1215.3,506.8 1215.7,507.4 1216.3,510.1 1216.7,508.2 1217.3,511.2 1217.7,512.1 1218.3,516.4 1218.7,513.3 1219.3,516 1219.7,518 1220.3,522.6 1220.7,520.3 1221.3,522.9 1221.7,527.3 1222.3,531.3 1222.7,527.4 1223.3,530.1 1223.7,534.9 1224.3,538.5 1224.7,534.9 1225.3,541.2 1225.7,545 1226.3,547.4 1226.7,546.6 1227.3,551.5 1227.7,554 1228.3,559.6 1228.7,555.5 1229.3,559.7 1229.7,561.6 1230.3,569.9 1230.7,565.6 1231.3,566.5 1231.7,572.6 1232.3,575 1232.7,571.6 1233.3,578.3 1233.7,580.5 1234.3,583.6 1234.7,581.3 1235.3,581.6 1235.7,585.1 1236.3,590 1236.7,589.4 1237.3,584.7 1237.7,589.5 1238.3,594.7 1238.7,587 1239.3,587.1 1239.7,589.3 1240.3,591.9 1240.7,590.1 1241.3,591 1241.7,592.8 1242.3,590.3 1242.7,588.8 1243.3,593.5 1243.7,599.2 1244.3,598.4 1244.7,597.5 1245.3,593.8 1245.7,599.4 1246.3,602.1 1246.7,597.1 1247.3,594.7 1247.7,597.4 1248.3,595.5 1248.7,595.2 1249.3,594.5 1249.7,597.7 1250.3,603.9 1250.7,601.1 1251.3,597.6 1251.7,600.2 1252.3,604 1252.7,599.1 1253.3,599.8 1253.7,602.2 1254.3,602.3 1254.7,598.2 1255.3,598 1255.7,601.7 1256.5,604.2 1257.3,600.7 1257.7,604.2 1258.3,609.4 1258.7,605.9 1259.3,596.3 1259.7,607 1260.3,603 1260.7,601.6 1261.3,601 1261.7,605.1 1262.3,604 1262.7,602 1263.3,601.2 1263.7,609.4 1264.3,607.4 1264.7,602.6 1265.3,604 1265.7,606.7 1266.3,612.4 1266.7,609.7 1267.3,608 1267.7,611.6 1268.3,611.5 1268.7,610.2 1269.3,604.6 1269.7,614.1 1270.3,606.5 1270.7,605.1 1271.3,606.4 1271.7,616.2 1272.3,610.4 1272.7,608.7 1273.3,608 1273.7,613.3 1274.3,616.9 1274.7,608 1275.3,609 1275.7,611.2 1276.3,611.5 1276.7,607.6 1277.3,604.9 1277.7,609.3 1278.3,610.4 1278.7,608.8 1279.3,608.7 1279.7,611.6 1280.3,609.5 1280.7,606.7 1281.3,608.5 1281.7,614 1282.3,612.8 1282.7,609.8 1283.3,606.1 1283.7,610.8 1284.3,609 1284.7,600.6 1285.3,604.6 1285.7,608.6 1286.3,608.7 1286.7,604.7 1287.3,597.6 1287.7,601.6 1288.3,598.8 1288.7,598.5 1289.3,594.4 1289.7,601.3 1290.3,596.4 1290.7,595.6 1291.3,587.4 1291.7,590.3 1292.3,587.2 1292.7,585.1 1293.3,585 1293.7,588.5 1294.3,585.2 1294.7,581 1295.2,580.8 1295.6,586.2 1296.3,586.2 1296.7,582.7 1297.3,584.1 1297.7,587.8 1298.3,594.8 1298.7,587.5 1299.3,591.9 1299.7,597.2 1300.3,601.4 1300.7,597.9 1301.3,600 1301.7,600.5 1302.3,607.3 1302.7,603.2 1303.3,608.2 1303.7,611.2 1304.3,609.7 1304.7,608.2 1305.3,614.4 1305.7,618 1306.3,610.4 1306.7,610 1307.3,618.8 1307.7,622.1 1308.3,618.7 1308.7,616.5 1309.3,613 1309.7,616.7 1310.3,622.7 1310.7,621.5 1311.3,615.8 1311.7,627.2 1312.3,624.7 1312.7,623.7 1313.3,616.4 1313.7,623.5 1314.3,625.4 1314.7,622.2 1315.3,622.5 1315.7,626.3 1316.3,630.7 1316.7,624.6 1317.3,620.8 1317.7,624.9 1318.3,628.5 1318.7,625.4 1319.3,620.1 1319.7,633.1 1320.5,630.5 1321.3,628.4 1321.7,633.2 1322.3,626.9 1322.7,622.8 1323.5,628.3 1324.3,633.2 1324.7,626.4 1325.3,627.2 1325.7,630.7 1326.3,633.3 1326.7,628 1327.3,629.6 1327.7,639.2 1328.3,631.8 1328.7,623.9 1329.3,628.3 1329.7,638.2 1330.3,635.5 1330.7,629.3 1331.3,630.7 1331.7,638.5 1332.3,631.6 1332.7,631 1333.3,630.6 1333.7,639 1334.5,629.5 1335.3,632.2 1335.7,644.2 1336.3,638 1336.7,632.9 1337.3,629.1 1337.7,639.6 1338.3,631.7 1338.7,629.9 1339.3,634.1 1339.7,636.8 1340.3,638.2 1340.7,636.4 1341.3,632.3 1341.7,643.9 1342.3,635.3 1342.7,633.6 1343.3,632.9 1343.7,646.1 1344.3,644.7 1344.7,643.3 1345.1,651.9" fill="none" stroke="#5F16D2" stroke-width="7.0" stroke-linejoin="round" stroke-linecap="butt" clip-path="url(#clipA)"/>
<polyline points="63.3,739.4 63.7,748.6 64.3,737.4 64.7,736.6 65.3,735 65.7,747.8 66.3,752.1 66.7,732.6 67.3,735.5 67.7,742.8 68.3,744.1 68.7,735.5 69.3,733.9 69.7,741.8 70.3,738.4 70.7,735.7 71.3,733.4 71.7,745.3 72.3,756.3 72.7,741 73.3,735.4 73.7,739.9 74.3,737.4 74.7,734.9 75.3,736.5 75.7,742.3 76.3,747.2 76.7,733.3 77.3,735.9 77.7,747.2 78.3,740.3 78.7,739.1 79.3,739.3 79.7,754.4 80.3,748.7 80.7,748.2 81.3,734.6 81.7,749.2 82.3,744.8 82.7,740.5 83.3,731.2 83.7,748.2 84.3,736.3 84.7,733.8 85.3,733.8 85.7,749 86.3,750.5 86.7,739 87.3,740.7 87.7,745.5 88.3,756.9 88.7,734.8 89.3,740.3 89.7,758.3 90.3,750.8 90.7,739.5 91.3,733.6 91.7,745.5 92.3,741.5 92.7,732.6 93.3,734.8 93.7,740 94.3,751.3 94.7,739.6 95.3,739.3 95.7,760.8 96.3,746.1 96.7,738.8 97.3,735.6 97.7,740.5 98.3,755.2 98.7,738 99.3,737.9 99.7,746.4 100.3,741.7 100.7,735.1 101.3,741.5 101.7,747.3 102.3,740.4 102.7,729.8 103.3,734.9 103.7,741.5 104.3,745.7 104.7,738.6 105.3,735 105.7,744.6 106.3,745.2 106.7,739.3 107.3,737.3 107.7,746.9 108.3,754.2 108.7,738.2 109.3,731.8 109.7,740.8 110.3,740 110.7,732.1 111.3,737.5 111.7,744.4 112.3,739 112.7,736.6 113.3,731.1 113.7,748.1 114.3,743.6 114.7,736.4 115.3,733.6 115.7,751.1 116.3,749.1 116.7,733.5 117.3,733 117.7,743.4 118.3,742.4 118.7,737 119.3,723.8 119.7,736.3 120.3,734 120.7,721.3 121.3,723.6 121.7,732.2 122.3,723 122.7,722 123.3,711.1 123.7,724.7 124.3,712 124.7,704.6 125.3,689.6 125.7,701 126.3,685.3 126.7,680.6 127.3,673.6 127.7,678.3 128.3,688.2 128.7,680.5 129.3,692.7 129.7,707.3 130.3,712.7 130.7,711.4 131.3,710 131.7,727.5 132.3,729.5 132.7,727.3 133.3,723.3 133.7,730 134.3,741.9 134.7,741.6 135.3,727.9 135.7,731.4 136.3,733 136.7,731.1 137.3,730.2 137.7,740.9 138.3,742.2 138.7,735.3 139.3,731.9 139.7,738.4 140.3,744.8 140.7,732.9 141.3,732.5 141.7,742.5 142.3,760.8 142.7,733.9 143.3,728.7 143.7,761.1 144.3,746.8 144.7,740.9 145.3,742.8 145.7,748.4 146.3,747.4 146.7,739.6 147.3,734 147.7,745.8 148.3,741.3 148.7,731.1 149.3,731.4 149.7,754 150.3,746.8 150.7,738.1 151.3,746.1 151.7,752.7 152.3,750.8 152.7,748.4 153.3,735.3 153.7,743.6 154.3,740.4 154.7,730.5 155.3,736.3 155.7,741.3 156.3,742.2 156.7,732.6 157.3,734.1 157.7,740.5 158.3,738.8 158.7,734.7 159.3,735.2 159.7,744.7 160.3,748.4 160.7,735.1 161.3,735.6 161.7,736.5 162.3,756.9 162.7,739.6 163.3,732.3 163.7,740.6 164.3,740.1 164.7,726.7 165.3,733.8 165.7,740.5 166.3,740.9 166.7,729.5 167.3,723 167.7,730.7 168.3,726.2 168.7,718 169.3,714.7 169.7,716 170.3,719.5 170.7,711 171.3,706.9 171.7,710.7 172.3,708.1 172.7,703.5 173.3,703.8 173.7,708.2 174.3,705.1 174.7,697.6 175.3,697.4 175.7,704.2 176.3,697.6 176.7,696.2 177.2,696 177.6,697.2 178.3,699 178.7,697 179.3,699.5 179.7,700.2 180.3,709 180.7,707.4 181.3,703.1 181.7,710 182.3,712.7 182.7,707.9 183.3,712.4 183.7,725.2 184.3,722.9 184.7,712.2 185.3,711.8 185.7,727.4 186.3,721 186.7,719.2 187.3,719.1 187.7,732.1 188.5,736.2 189.3,731.6 189.7,742.7 190.3,733.6 190.7,721.8 191.3,732.4 191.7,738.9 192.3,748.3 192.7,736.2 193.3,732.7 193.7,741.5 194.3,744.9 194.7,739.9 195.3,734.8 195.7,740.7 196.3,737.8 196.7,736.6 197.3,741 197.7,753.3 198.3,742 198.7,738.2 199.3,744.4 199.7,753.6 200.3,741.4 200.7,733.1 201.3,739.9 201.7,746.8 202.3,755.4 202.7,742.5 203.3,733.7 203.7,754.2 204.3,744.3 204.7,740.5 205.3,742.2 205.7,749.7 206.3,752 206.7,745.9 207.3,741 207.7,745.5 208.5,752.2 209.3,740.7 209.7,757.5 210.3,752.5 210.7,745.9 211.3,740.9 211.7,751.8 212.3,744.8 212.7,739.9 213.3,744.7 213.7,750.3 214.3,751.7 214.7,743.6 215.3,744.2 215.7,748.7 216.3,761.3 216.7,759 217.3,740.8 217.7,756.7 218.3,750.5 218.7,749.4 219.3,739.7 219.7,767.4 220.5,747.5 221.3,743.7 221.7,751.8 222.3,747.1 222.7,741.6 223.3,743.9 223.7,744.7 224.3,752.5 224.7,745.6 225.3,738.7 225.7,759.3 226.3,759.4 226.7,744.3 227.3,749.5 227.7,769.8 228.3,769.8 228.7,745.6 229.3,745.6 229.7,751.5 230.3,754.6 230.7,740.1 231.3,742 231.7,752.1 232.3,761.3 232.7,756.7 233.3,750.1 233.7,754.2 234.3,749.3 234.7,747.5 235.3,745.1 235.7,749 236.3,754.8 236.7,752.3 237.3,745.7 237.7,757.8 238.3,751.8 238.7,743.6 239.3,743.4 239.7,753.5 240.3,755.5 240.7,749 241.3,742.6 241.7,758.3 242.5,770.5 243.3,740.2 243.7,746.1 244.3,758.5 244.7,743.3 245.3,730.2 245.7,750.5 246.3,754.8 246.7,741.3 247.3,737 247.7,757.4 248.3,763.6 248.7,739 249.3,747.5 249.7,761.2 250.3,757.4 250.7,744.1 251.3,741.7 251.7,763 252.3,753.2 252.7,741.8 253.3,740.4 253.7,759.3 254.3,769 254.7,739.8 255.3,741.1 255.7,754.3 256.3,747.4 256.7,743.1 257.3,747.8 257.7,754.1 258.3,743.8 258.7,740 259.3,736.3 259.7,748.2 260.3,753.8 260.7,753.3 261.3,734.1 261.7,752.6 262.3,755.5 262.7,748.6 263.3,739.1 263.7,758.9 264.3,747.1 264.7,745.6 265.3,749 265.7,761.4 266.3,770.9 266.7,752.9 267.3,747.8 267.7,770.9 268.3,746.5 268.7,746 269.3,741.2 269.7,750 270.3,761 270.7,754.7 271.3,738.6 271.7,763.9 272.3,745.3 272.7,743.6 273.3,747 273.7,752.7 274.3,744.9 274.7,734.9 275.3,739.3 275.7,757.1 276.3,743.7 276.7,742.7 277.3,742.1 277.7,762.7 278.3,752.1 278.7,746.5 279.3,741.9 279.7,752.6 280.5,744.4 281.3,743.8 281.7,760 282.3,744.2 282.7,743.3 283.3,744.7 283.7,770.6 284.3,770.6 284.7,741.6 285.3,741.2 285.7,760.2 286.3,759.9 286.7,745.5 287.3,743.2 287.7,752.6 288.3,748.8 288.7,742 289.3,745.2 289.7,762.1 290.3,752.6 290.7,748.2 291.3,738.7 291.7,752.9 292.3,742.4 292.7,742 293.3,738.4 293.7,751.3 294.3,757.4 294.7,744.7 295.3,745.2 295.7,750.5 296.3,750.4 296.7,745.6 297.3,744.6 297.7,757.2 298.3,757.4 298.7,746 299.3,744.8 299.7,753.8 300.3,748.9 300.7,740.8 301.3,738.2 301.7,746.6 302.3,763.9 302.7,740.7 303.3,742.7 303.7,750.4 304.3,750.6 304.7,744.4 305.3,736.4 305.7,747.8 306.3,761.5 306.7,755.3 307.3,740.4 307.7,754.4 308.3,752.9 308.7,748.1 309.3,744.3 309.7,753.2 310.3,750.6 310.7,743.3 311.3,736.8 311.7,745.1 312.3,749.8 312.7,743.1 313.3,740.9 313.7,755.2 314.3,743.5 314.7,740.9 315.3,743.8 315.7,764.5 316.3,746.7 316.7,737.4 317.3,743.7 317.7,750.5 318.3,742.2 318.7,740.7 319.3,735.9 319.7,742.4 320.3,742.4 320.7,739.5 321.3,735.9 321.7,752.5 322.3,749.3 322.7,737.7 323.3,736.6 323.7,747.5 324.3,746.3 324.7,742.9 325.3,747.6 325.7,749.6 326.3,743.1 326.7,735.2 327.3,733 327.7,749.3 328.3,748.9 328.7,742 329.3,727.6 329.7,741.7 330.3,760.3 330.7,740.3 331.3,739.7 331.7,750.3 332.3,743.4 332.7,737.5 333.3,737.4 333.7,742.1 334.3,748.2 334.7,742.6 335.3,738 335.7,745 336.3,743.6 336.7,735.9 337.3,735.2 337.7,746.9 338.3,743.1 338.7,731.3 339.3,736.1 339.7,744.5 340.3,744.1 340.7,735.5 341.3,731.2 341.7,736.7 342.3,733.9 342.7,730.1 343.3,732.2 343.7,735.8 344.3,733.3 344.7,729.6 345.3,723.5 345.7,736 346.3,736.4 346.7,728.8 347.3,722.6 347.7,733.6 348.3,738.3 348.7,734.5 349.3,727.8 349.7,733.3 350.3,726.6 350.7,722.6 351.3,721.2 351.7,739.7 352.3,726.9 352.7,715.7 353.3,719.9 353.7,735.3 354.3,718.6 354.7,715.8 355.3,710.7 355.7,718.5 356.3,719.7 356.7,712.3 357.3,708.8 357.7,715.3 358.3,706.4 358.7,704.8 359.3,702.4 359.7,709.9 360.3,705.8 360.7,695.4 361.3,691.8 361.7,693 362.3,692.8 362.7,691.4 363.3,684.3 363.7,691.1 364.3,679.6 364.7,677.7 365.3,672.5 365.7,679.8 366.3,675.8 366.7,671.7 367.3,661.8 367.7,668.4 368.3,661.7 368.7,661.3 369.3,654.1 369.7,659.8 370.3,653 370.7,650.8 371.3,648.1 371.7,650.1 372.3,645 372.7,644.5 373.3,639.5 373.7,643.7 374.3,638.2 374.7,637.8 375.3,633 375.7,635.5 376.3,633.1 376.7,631.3 377.3,629.1 377.7,630.1 378.5,626.7 379.3,624.8 379.7,626.4 380.3,628.1 380.7,624.9 381.3,625 381.7,626.1 382.1,624.6 382.5,622.4 383.3,624.2 383.7,624.8 384.3,626.5 384.7,623.8 385.3,626.8 385.7,628.8 386.3,629.6 386.7,628.3 387.3,630.1 387.7,632.9 388.3,636.4 388.7,634.1 389.3,636.2 389.7,639.5 390.5,640.1 391.3,642.8 391.7,647.2 392.3,649.4 392.7,647 393.3,650 393.7,656.3 394.3,656.3 394.7,656 395.3,659.9 395.7,663.8 396.3,670.5 396.7,664.3 397.3,673 397.7,676.1 398.3,675 398.7,673.1 399.3,678.1 399.7,684 400.3,688.6 400.7,684.2 401.3,688.2 401.7,693.5 402.3,698.6 402.7,690.7 403.3,693.3 403.7,699.4 404.3,705.5 404.7,701 405.3,697.9 405.7,716.1 406.3,715.2 406.7,710.5 407.3,717.2 407.7,728.1 408.3,728.2 408.7,712.8 409.3,714.6 409.7,720.2 410.3,720.5 410.7,714.9 411.3,719 411.7,723.4 412.3,726.5 412.7,726 413.3,725.7 413.7,735.1 414.3,736.6 414.7,731.5 415.3,728.5 415.7,734 416.3,738.6 416.7,729 417.3,728.2 417.7,731 418.3,732.4 418.7,730.6 419.3,722.8 419.7,741 420.3,738.8 420.7,731.6 421.3,729 421.7,738.4 422.3,744.8 422.7,734.5 423.3,722.9 423.7,733.4 424.3,733.8 424.7,733.3 425.3,733.6 425.7,743.5 426.5,735.3 427.3,732.6 427.7,740.3 428.3,736.3 428.7,735.9 429.3,738.8 429.7,744.2 430.3,744.1 430.7,732.9 431.3,735.4 431.7,746.2 432.3,744.1 432.7,735.5 433.3,728.3 433.7,736.8 434.3,757.6 434.7,738.1 435.3,745.8 435.7,747.6 436.3,741.5 436.7,733.2 437.3,737.9 437.7,755.9 438.3,742.2 438.7,734.4 439.3,740.7 439.7,743.7 440.3,743.2 440.7,738.9 441.3,739.2 441.7,759.7 442.3,746.3 442.7,737.5 443.3,734.1 443.7,749.6 444.3,753 444.7,751.1 445.3,739.4 445.7,758.1 446.3,760 446.7,744.1 447.3,749.2 447.7,764.7 448.3,764.7 448.7,742.7 449.3,736.4 449.7,762.2 450.3,746.8 450.7,740.7 451.3,743.2 451.7,753.5 452.5,764.8 453.3,740.8 453.7,749.8 454.3,743 454.7,739.8 455.3,746.7 455.7,753.6 456.3,750.7 456.7,742.7 457.3,740.3 457.7,760.6 458.3,745.8 458.7,742.9 459.3,739.7 459.7,746.2 460.3,740.4 460.7,736.7 461.3,743.4 461.7,750.9 462.3,740.4 462.7,739.1 463.3,734.9 463.7,747.6 464.3,747.5 464.7,746.6 465.3,739.6 465.7,745.8 466.3,737.5 466.7,736 467.3,737.8 467.7,756.7 468.3,760.4 468.7,741.5 469.3,737 469.7,739.9 470.3,736.7 470.7,728.7 471.3,728.6 471.7,743 472.3,738.3 472.7,733.7 473.3,729.6 473.7,733.5 474.3,734.3 474.7,730.5 475.3,724.9 475.7,728.2 476.3,729.7 476.7,721.7 477.3,726.4 477.7,731.5 478.3,721.1 478.7,718.8 479.3,709.2 479.7,720.7 480.3,722.6 480.7,715.9 481.3,708.5 481.7,713.6 482.3,710.9 482.7,705.8 483.3,692.6 483.7,704.3 484.3,690.2 484.7,687.7 485.3,677.1 485.7,685.5 486.3,669.4 486.7,665.7 487.3,650.3 487.7,664.8 488.3,641.5 488.7,637.7 489.4,631 489.8,634 490.5,634.3 491.3,640.9 491.7,652.5 492.3,663.2 492.7,660.3 493.3,668 493.7,681.1 494.3,685.9 494.7,680.2 495.3,690.4 495.7,696.4 496.3,705.3 496.7,697.7 497.3,702.2 497.7,705.7 498.3,714.5 498.7,712.8 499.3,709.9 499.7,721.7 500.3,718 500.7,715.6 501.3,718.1 501.7,727.5 502.3,731.2 502.7,727 503.3,724.9 503.7,735.5 504.3,736.2 504.7,732.5 505.3,732.4 505.7,739 506.3,732 506.7,730 507.3,728.1 507.7,735.8 508.3,735.9 508.7,735.5 509.3,735.2 509.7,739.4 510.3,753.6 510.7,743.5 511.3,734.9 511.7,743.4 512.3,747.4 512.7,736.4 513.3,734.9 513.7,737.1 514.3,748.8 514.7,731.6 515.3,731.3 515.7,747.3 516.3,747.2 516.7,745 517.3,742.4 517.7,758.7 518.3,751.4 518.7,747.7 519.3,739.8 519.7,752.4 520.3,755.6 520.7,751.7 521.3,745.1 521.7,749.4 522.3,766.1 522.7,746.9 523.3,738.3 523.7,740.9 524.3,745.4 524.7,744.1 525.3,748 525.7,753.7 526.3,747.4 526.7,741.1 527.3,745.6 527.7,757.2 528.3,752.2 528.7,742.9 529.3,746.5 529.7,753.5 530.3,747.3 530.7,738.8 531.3,749.5 531.7,753.9 532.3,741.8 532.7,733.5 533.3,734.1 533.7,744.1 534.3,754.9 534.7,748.4 535.3,736.1 535.7,746.5 536.3,753.8 536.7,751.4 537.3,740.6 537.7,747.7 538.3,753.6 538.7,743.3 539.3,742.2 539.7,750.2 540.5,766.8 541.3,734.9 541.7,766.6 542.3,740.9 542.7,736.8 543.3,742.5 543.7,747.6 544.3,750.6 544.7,739.6 545.3,733.8 545.7,749.2 546.3,746.8 546.7,738.3 547.3,731.2 547.7,752.2 548.3,738.6 548.7,735.7 549.3,721.6 549.7,733 550.3,729.3 550.7,722.9 551.3,711.5 551.7,724.9 552.3,711.6 552.7,706.4 553.2,703.3 553.6,710.7 554.3,728.5 554.7,718.1 555.3,724.8 555.7,729.6 556.3,737.1 556.7,727 557.3,730.1 557.7,748.3 558.3,742 558.7,737.9 559.3,740.5 559.7,762.5 560.3,748.2 560.7,740.7 561.3,746.2 561.7,753.3 562.3,746.9 562.7,742.1 563.3,751.7 563.7,765.3 564.3,749 564.7,743.8 565.3,736 565.7,739.4 566.3,740 566.7,738.9 567.3,748.2 567.7,766.1 568.3,765.6 568.7,734.5 569.3,741.6 569.7,758.8 570.3,745.6 570.7,743.6 571.3,741.8 571.7,749.2 572.3,758.6 572.7,753.7 573.3,743.6 573.7,754.2 574.3,743.4 574.7,741.4 575.3,735.9 575.7,747.9 576.3,747.4 576.7,737.9 577.3,737.6 577.7,746.2 578.3,745.6 578.7,742.5 579.3,729.1 579.7,738.8 580.3,763.4 580.7,734.2 581.3,732.7 581.7,751.1 582.3,746 582.7,745.6 583.3,733.5 583.7,745.9 584.3,745.8 584.7,735.5 585.3,724.5 585.7,733.2 586.3,747.2 586.7,724.1 587.3,721.3 587.7,726.8 588.3,720.7 588.7,720 589.3,714.1 589.7,720.9 590.3,713.2 590.7,708.2 591.3,708 591.7,711.1 592.3,708.1 592.7,706.3 593.3,700.9 593.7,708.1 594.5,703.2 595.3,704.9 595.7,711.2 596.3,710.2 596.7,709 597.3,712.7 597.7,723.9 598.3,719.4 598.7,716.8 599.3,718.9 599.7,731.7 600.3,729.7 600.7,728.1 601.3,727.7 601.7,743.8 602.3,739 602.7,737.3 603.3,738.6 603.7,742.7 604.3,732.5 604.7,731.3 605.3,731.2 605.7,745.3 606.3,736.8 606.7,732.1 607.3,737.1 607.7,742.8 608.3,739.9 608.7,733.7 609.3,735.6 609.7,737 610.3,745.9 610.7,741.5 611.3,733.4 611.7,742.4 612.3,735.7 612.7,730 613.3,738.6 613.7,741.4 614.3,748.9 614.7,729.2 615.3,731.2 615.7,744.7 616.3,742 616.7,736.4 617.3,731.2 617.7,738.9 618.3,746.7 618.7,746.2 619.3,730.9 619.7,749.1 620.5,737.6 621.3,733.2 621.7,758 622.3,743.6 622.7,734.3 623.3,740.1 623.7,740.8 624.3,745 624.7,737.1 625.3,738.3 625.7,752.7 626.3,740.7 626.7,732.3 627.3,743.4 627.7,745.8 628.3,753.4 628.7,732 629.3,734.1 629.7,748.7 630.3,748.9 630.7,732.6 631.3,740.8 631.7,743.4 632.3,740.5 632.7,732.8 633.3,741 633.7,745.1 634.3,745.7 634.7,736.3 635.3,743.2 635.7,757.5 636.3,745.8 636.7,742.4 637.3,740.1 637.7,759.2 638.5,746.6 639.3,740.2 639.7,750.5 640.3,764.8 640.7,746 641.3,748.1 641.7,762.6 642.3,756.6 642.7,748.8 643.3,743.3 643.7,761.2 644.5,752.3 645.3,739.3 645.7,746.5 646.3,751.3 646.7,745 647.3,742.5 647.7,765.3 648.3,752.8 648.7,743.4 649.3,751.9 649.7,766.9 650.3,761.7 650.7,734.3 651.3,750.5 651.7,763.9 652.3,765.3 652.7,742.4 653.3,737 653.7,756.5 654.3,766.3 654.7,752.3 655.3,743.1 655.7,754.9 656.3,762.4 656.7,754.5 657.3,737.7 657.7,746.3 658.3,751.8 658.7,744.1 659.3,748.7 659.7,760.3 660.3,763.9 660.7,749.9 661.3,740.8 661.7,749.4 662.3,749 662.7,748.6 663.3,737.2 663.7,753.7 664.3,753.3 664.7,751.8 665.3,739.8 665.7,756.4 666.3,753.6 666.7,748.4 667.3,746.5 667.7,757.1 668.3,747.9 668.7,744 669.3,743.1 669.7,751.5 670.3,748.8 670.7,746.5 671.3,749 671.7,754.6 672.3,750.1 672.7,749 673.3,744.4 673.7,754.8 674.3,758.5 674.7,742.3 675.3,741.6 675.7,749.1 676.3,754.4 676.7,750.5 677.3,739.5 677.7,762.7 678.3,751.2 678.7,746.7 679.3,740.3 679.7,749.4 680.3,748.2 680.7,746.9 681.3,742.8 681.7,754.3 682.3,757.2 682.7,746 683.3,740.8 683.7,765.5 684.3,769.1 684.7,751.6 685.3,739.6 685.7,751.6 686.3,748.3 686.7,745.8 687.3,730.7 687.7,753.9 688.3,748 688.7,746.4 689.3,741.3 689.7,753.6 690.3,754.4 690.7,746.1 691.3,743.9 691.7,749.5 692.3,760.3 692.7,742.4 693.3,737.6 693.7,755.2 694.3,749.4 694.7,745.9 695.3,749.1 695.7,765.6 696.3,769.4 696.7,744.3 697.3,741.9 697.7,752.6 698.3,754 698.7,746.6 699.3,745.9 699.7,755.7 700.3,741.9 700.7,740.6 701.3,737.1 701.7,757.2 702.3,745.7 702.7,744.6 703.3,739.3 703.7,749.8 704.3,745.2 704.7,737.3 705.3,746 705.7,758.7 706.3,756.6 706.7,745.7 707.3,737.4 707.7,751.6 708.3,752.7 708.7,742.5 709.3,739.9 709.7,750.7 710.3,751.7 710.7,741.6 711.3,745.4 711.7,749.6 712.3,743.5 712.7,733.8 713.3,740.1 713.7,756.2 714.3,750.6 714.7,743.2 715.3,738.6 715.7,743.8 716.3,742.8 716.7,739.4 717.3,735.7 717.7,742.9 718.3,742.4 718.7,737.8 719.3,740.2 719.7,751.4 720.3,747.6 720.7,743.3 721.3,748.1 721.7,754.1 722.3,749 722.7,739.8 723.3,741.8 723.7,751.5 724.3,744.7 724.7,744.4 725.3,733.1 725.7,753.9 726.3,756.8 726.7,742.3 727.3,737.7 727.7,747.8 728.3,748.1 728.7,739.2 729.3,737.7 729.7,739 730.3,744.1 730.7,734.7 731.3,735.9 731.7,748.6 732.3,739.2 732.7,736.5 733.3,738.2 733.7,744.8 734.3,746 734.7,736.3 735.3,733.4 735.7,744.1 736.3,734.1 736.7,729.3 737.3,729.1 737.7,738.3 738.3,754.6 738.7,731.4 739.3,725.3 739.7,735.4 740.3,728.2 740.7,724.9 741.3,720.6 741.7,731.4 742.3,723.6 742.7,722.6 743.3,726.8 743.7,738.7 744.3,739.4 744.7,733.4 745.3,735.6 745.7,751.1 746.3,740.5 746.7,733.6 747.3,735.5 747.7,744.5 748.3,740.4 748.7,730.3 749.3,731.4 749.7,748 750.3,742.4 750.7,732.9 751.3,728.6 751.7,744.3 752.3,733.9 752.7,729.7 753.3,732.3 753.7,737.2 754.3,736.3 754.7,730.3 755.3,725.9 755.7,738.4 756.3,728.5 756.7,722.9 757.3,726.4 757.7,727.8 758.3,726 758.7,722.4 759.3,727.6 759.7,749.7 760.3,730.7 760.7,728.5 761.3,727.1 761.7,731.5 762.3,736.8 762.7,726.3 763.3,730.3 763.7,735.2 764.3,726.6 764.7,726.1 765.3,729.4 765.7,733.9 766.3,730.5 766.7,726.3 767.3,724 767.7,744.1 768.3,729.8 768.7,723 769.3,718.4 769.7,720.2 770.3,719.1 770.7,708.6 771.3,690.7 771.7,708.5 772.2,690.9 772.6,689 773.3,701.5 773.7,712.7 774.3,726.8 774.7,714.7 775.3,718.1 775.7,725.9 776.3,727.2 776.7,711.7 777.3,722.4 777.7,735.4 778.3,734.9 778.7,726.2 779.3,723 779.7,731.6 780.3,736.4 780.7,732.3 781.3,723.9 781.7,735.2 782.3,728.2 782.7,725.5 783.3,728.5 783.7,733.1 784.3,726.2 784.7,724.9 785.3,722.7 785.7,740.3 786.3,735.5 786.7,733.8 787.3,725.3 787.7,729.9 788.3,726.2 788.7,720.3 789.3,724.9 789.7,731.7 790.3,731.9 790.7,731.6 791.3,727.2 791.7,730.9 792.3,731.8 792.7,724.6 793.3,720.6 793.7,730.9 794.3,732.1 794.7,722.8 795.3,718.8 795.7,724.4 796.3,733.8 796.7,721.1 797.3,718.1 797.7,726.3 798.3,727.5 798.7,723.6 799.3,725.5 799.7,730.5 800.3,726.2 800.7,716.1 801.3,720.9 801.7,730.6 802.3,719.1 802.7,716.9 803.3,717.6 803.7,729.2 804.3,731.6 804.7,720.4 805.3,721.2 805.7,728.8 806.3,732.4 806.7,714.9 807.3,718.7 807.7,721 808.3,724.2 808.7,714.6 809.3,713.5 809.7,718.5 810.3,716.4 810.7,711.3 811.3,715.4 811.7,718.4 812.3,721 812.7,717.1 813.3,714.8 813.7,718 814.3,714 814.7,713.3 815.3,715.1 815.7,724.3 816.3,720.7 816.7,711.6 817.3,713.4 817.7,722.3 818.3,721.7 818.7,712.7 819.3,713.8 819.7,723.1 820.3,713.7 820.7,708.8 821.3,710.6 821.7,715.6 822.3,715.6 822.7,711.5 823.3,713.2 823.7,716.7 824.3,717.3 824.7,714.6 825.3,708.6 825.7,714.4 826.3,718.7 826.7,710.1 827.3,704.9 827.7,716 828.3,711.8 828.7,711.3 829.3,705.1 829.7,713.5 830.3,708.8 830.7,707.2 831.3,706.3 831.7,712 832.3,706.9 832.7,706.3 833.3,710.7 833.7,714.5 834.3,707.8 834.7,701.3 835.3,701.5 835.7,703.2 836.3,709.1 836.7,701.8 837.3,702 837.7,709.1 838.3,701.4 838.7,697.7 839.3,700.1 839.7,704.4 840.3,702.3 840.7,700.6 841.3,699.7 841.7,707.7 842.3,698.1 842.7,692.6 843.3,691.1 843.7,696.2 844.3,698.5 844.7,694 845.3,689.7 845.7,695 846.3,691.7 846.7,691.1 847.3,686.9 847.7,689.7 848.3,690.6 848.7,686.1 849.3,679.8 849.7,682 850.3,682.5 850.7,678.7 851.3,677 851.7,678.6 852.3,671.6 852.7,667.1 853.3,658.5 853.7,664.9 854.3,655.4 854.7,650.7 855.3,637.9 855.7,646.8 856.3,635.7 856.7,634 857.3,627.1 857.7,631 858.5,621.8 859.3,610.5 859.7,616.2 860.3,609.6 860.7,605.2 861.3,591.5 861.7,601.8 862.3,585.5 862.7,578.7 863.3,552.4 863.7,570.8 864.3,542.8 864.7,534 865.2,527.8 865.6,534.2 866.3,552.9 866.7,543.1 867.3,562.3 867.7,579 868.3,592.7 868.7,585.5 869.3,597 869.7,604.2 870.3,612.4 870.7,608.7 871.3,616.4 871.7,619.9 872.3,624.5 872.7,621.5 873.3,624.7 873.7,625.3 874.3,629.3 874.7,627.9 875.5,627.7 876.5,630.3 877.3,630.4 877.7,632.6 878.3,631.5 878.7,630.6 879.3,629 879.7,630.3 880.3,632.6 880.7,630.4 881.3,630.8 881.7,633.4 882.3,632.4 882.7,629.4 883.3,629.3 883.7,631.2 884.3,630.3 884.7,629.1 885.3,628.2 885.7,632 886.3,627.9 886.7,625.8 887.3,626.7 887.7,628.3 888.3,626 888.7,624.6 889.3,623.3 889.7,625.3 890.3,624.1 890.7,622.4 891.3,621 891.7,621.5 892.3,622.3 892.7,620.7 893.3,619.5 893.7,620.6 894.3,619.7 894.7,618.9 895.3,618.4 895.7,619.9 896.3,617 896.7,616.2 897.3,616.7 897.7,617.5 898.3,614.8 898.7,613.8 899.3,613 899.7,613.4 900.3,612.9 900.7,612.5 901.3,610.3 901.7,612.3 902.3,611.1 902.7,610.5 903.3,608 903.7,610.1 904.3,609.4 904.7,608.1 905.3,607.2 905.7,607.9 906.3,607.1 906.7,606.7 907.3,604.6 907.7,605.7 908.3,606.1 908.7,603.9 909.3,602.5 909.7,603.2 910.3,602.3 910.7,601.1 911.3,599.9 911.7,602.6 912.3,599.8 912.7,598.4 913.3,597.3 913.7,599.1 914.5,597.7 915.3,595.8 915.7,596.1 916.3,595.5 916.7,594.2 917.3,594 917.7,595 918.3,593.6 918.7,591.7 919.3,589.6 919.7,591.6 920.3,589.6 920.7,588.8 921.3,587.8 921.7,589.2 922.3,587.2 922.7,586.5 923.3,584.7 923.7,586.5 924.3,583.9 924.7,583.2 925.5,582.5 926.3,581.9 926.7,581.1 927.3,578.8 927.7,580.8 928.3,578 928.7,576.5 929.3,574.3 929.7,577.1 930.3,574.8 930.7,573.1 931.3,570.3 931.7,572.3 932.3,569.4 932.7,567.6 933.3,562.6 933.7,566.3 934.3,559.8 934.7,556.7 935.3,542.6 935.7,553.2 936.3,537.1 936.7,532.9 937.2,530.7 937.6,538.6 938.3,547.5 938.7,543.9 939.3,550.2 939.7,554.4 940.3,555.3 940.7,554.7 941.3,555.7 941.7,556.2 942.3,555.5 942.7,555.1 943.3,554.1 943.7,555.6 944.3,555 944.7,553.4 945.3,551.4 945.7,553.1 946.3,551.6 946.7,550.6 947.3,548.6 947.7,550.2 948.3,549.1 948.7,547.7 949.3,545.3 949.7,546.8 950.3,545.5 950.7,545.1 951.3,542.1 951.7,543.5 952.5,541.8 953.3,539.7 953.7,540.3 954.3,538.7 954.7,538.3 955.3,535.7 955.7,537.6 956.5,535 957.3,532.6 957.7,533.8 958.3,532 958.7,531.4 959.3,529 959.7,530.4 960.3,528.5 960.7,527.8 961.3,525.7 961.7,526.8 962.3,525.2 962.7,524.7 963.3,522 963.7,524 964.3,521 964.7,520 965.3,518 965.7,519.7 966.3,517.2 966.7,516.6 967.3,514.4 967.7,515.7 968.3,513.3 968.7,512.7 969.3,510.3 969.7,512.2 970.3,509.4 970.7,508.7 971.3,506.4 971.7,507.8 972.3,505.6 972.7,504.4 973.3,502 973.7,503.9 974.3,501.2 974.7,500.6 975.3,497.6 975.7,499.4 976.3,496.5 976.7,495.6 977.3,492.1 977.7,494.5 978.3,491 978.7,490 979.3,486.1 979.7,488.8 980.3,484.6 980.7,483 981.3,478.5 981.7,481.4 982.3,476.4 982.7,475 983.3,469.1 983.7,473 984.3,467.2 984.7,464.9 985.3,457.7 985.7,462.6 986.3,455.2 986.7,452.2 987.3,443.1 987.7,449.4 988.3,439.8 988.7,436.1 989.3,423.8 989.7,432.3 990.3,419 990.7,413.9 991.3,395.6 991.7,408.3 992.3,388.2 992.7,380 993.3,348.7 993.7,370.9 994.3,335.4 994.7,321.2 995.3,303 995.7,308.6 996.3,335.4 996.7,321.2 997.3,348.7 997.7,370.9 998.3,388.3 998.7,380.1 999.3,395.6 999.7,408.3 1000.3,419.2 1000.7,414 1001.3,423.9 1001.7,432.5 1002.3,440.1 1002.7,436.7 1003.3,443.7 1003.7,450.5 1004.3,456.1 1004.7,453.2 1005.3,458.9 1005.7,464.1 1006.3,469 1006.7,466.5 1007.3,471.3 1007.7,475.5 1008.3,479.2 1008.7,477.3 1009.3,481.2 1009.7,484.9 1010.3,488.6 1010.7,486.8 1011.3,490.4 1011.7,493.3 1012.3,496.4 1012.7,495 1013.3,498 1013.7,500.6 1014.3,503.8 1014.7,502.3 1015.3,505.1 1015.7,507.3 1016.3,509.9 1016.7,509 1017.3,511.3 1017.7,513.9 1018.3,515.8 1018.7,514.8 1019.3,517 1019.7,519.3 1020.3,521 1020.7,520 1021.3,522.7 1021.7,524.6 1022.3,526.7 1022.7,525.4 1023.3,527.4 1023.7,530.1 1024.3,531.5 1024.7,530.6 1025.3,533.1 1025.7,534.8 1026.3,536.3 1026.7,535.3 1027.3,537.4 1027.7,539.4 1028.3,540.8 1028.7,540.1 1029.3,541.6 1029.7,543.4 1030.3,545.3 1030.7,544.5 1031.3,546 1031.7,547.9 1032.5,549.2 1033.3,550 1033.7,551.5 1034.3,553.7 1034.7,553.2 1035.3,554.9 1035.7,555.9 1036.5,556.8 1037.3,557.8 1037.7,559.4 1038.3,561.3 1038.7,560 1039.3,562.5 1039.7,563.2 1040.3,564.9 1040.7,564 1041.3,564.8 1041.7,567 1042.3,568.8 1042.7,568.1 1043.3,569.3 1043.7,570.8 1044.3,572.7 1044.7,570.9 1045.3,572.4 1045.7,573.4 1046.5,574.5 1047.3,576.4 1047.7,577.9 1048.3,578.2 1048.7,577.2 1049.3,578.7 1049.7,580.6 1050.3,582.1 1050.7,581.5 1051.3,581.7 1051.7,583.6 1052.3,585.2 1052.7,584.2 1053.3,584.5 1053.7,586.5 1054.3,587.3 1054.7,586.9 1055.3,589.3 1055.7,591.1 1056.5,589.9 1057.5,592 1058.5,593.9 1059.3,593.6 1059.7,595.2 1060.3,596.7 1060.7,596.1 1061.3,596.5 1061.7,599.4 1062.5,599 1063.3,600.8 1063.7,601.5 1064.5,601.6 1065.3,602.7 1065.7,604.9 1066.3,605.1 1066.7,604.5 1067.5,606.4 1068.3,609.1 1068.7,607.8 1069.3,608.1 1069.7,608.5 1070.5,610.1 1071.3,609.5 1071.7,613.4 1072.3,613.4 1072.7,612.1 1073.3,612.3 1073.7,614.2 1074.5,615.8 1075.3,613.9 1075.7,616.5 1076.3,617.6 1076.7,616.6 1077.3,617.8 1077.7,619.4 1078.3,619.7 1078.7,618.5 1079.3,619.8 1079.7,621 1080.3,621.9 1080.7,620.4 1081.3,622.2 1081.7,625 1082.3,624.7 1082.7,623 1083.3,623.2 1083.7,627.8 1084.3,625.9 1084.7,624.5 1085.3,623.9 1085.7,630.6 1086.3,628.9 1086.7,627.2 1087.3,628.6 1087.7,630.8 1088.3,630.1 1088.7,629.4 1089.3,631 1089.7,632.6 1090.5,632.4 1091.3,634.1 1091.7,634.6 1092.3,634.3 1092.7,632.3 1093.3,633.8 1093.7,638 1094.3,638.3 1094.7,635.5 1095.3,635.1 1095.7,638.4 1096.3,639.3 1096.7,637 1097.3,638.4 1097.7,640.8 1098.3,638.4 1098.7,637.1 1099.3,639.1 1099.7,640 1100.3,643.1 1100.7,640.6 1101.3,641.2 1101.7,643.1 1102.3,645 1102.7,643.9 1103.3,641.9 1103.7,645.1 1104.5,644.9 1105.3,645.5 1105.7,649.6 1106.5,646 1107.3,645.8 1107.7,647.5 1108.3,647.1 1108.7,645.1 1109.3,648.9 1109.7,651.5 1110.3,652.3 1110.7,647.9 1111.3,647.9 1111.7,649.6 1112.3,652.8 1112.7,650.1 1113.3,647.1 1113.7,648.7 1114.3,651.6 1114.7,649 1115.3,649.5 1115.7,649.9 1116.3,652.8 1116.7,650.4 1117.3,650.9 1117.7,652 1118.5,653.8 1119.3,651.1 1119.7,652.9 1120.3,654.6 1120.7,652.5 1121.3,652.3 1121.7,655.4 1122.3,655.7 1122.7,654.3 1123.3,653.7 1123.7,656 1124.3,659.7 1124.7,656.3 1125.3,655.5 1125.7,656.8 1126.3,658.9 1126.7,654.8 1127.3,655 1127.7,659.3 1128.3,657.6 1128.7,654.7 1129.3,658.9 1129.7,661.8 1130.3,657 1130.7,654 1131.3,656.5 1131.7,658.4 1132.3,658.6 1132.7,657.9 1133.3,657 1133.7,658.9 1134.5,657.3 1135.3,656 1135.7,660.6 1136.3,662.3 1136.7,658.9 1137.3,658.6 1137.7,660.1 1138.3,663.2 1138.7,659.4 1139.3,658.7 1139.7,661.6 1140.3,662 1140.7,659 1141.3,659 1141.7,663.5 1142.3,663.5 1142.7,660.9 1143.3,658 1143.7,659.7 1144.3,660.7 1144.7,658.1 1145.3,660.3 1145.7,661.6 1146.3,661.4 1146.7,661 1147.3,659.6 1147.7,661.1 1148.3,664.7 1148.7,661 1149.3,660.8 1149.7,661.9 1150.3,662.5 1150.7,661.8 1151.3,660.5 1151.7,664.7 1152.3,659.4 1152.7,658.9 1153.3,659.9 1153.7,660.6 1154.3,663.3 1154.7,661 1155.3,663.2 1155.7,665.5 1156.3,668 1156.7,665.5 1157.3,662.7 1157.7,665.6 1158.3,664 1158.7,661.4 1159.3,662.3 1159.7,665.9 1160.3,664.6 1160.7,663.1 1161.3,660.2 1161.7,664.6 1162.3,666.2 1162.7,662.4 1163.3,662.5 1163.7,663.7 1164.3,667.8 1164.7,666.9 1165.3,661.8 1165.7,667.1 1166.3,665.3 1166.7,662.9 1167.3,663.1 1167.7,665.3 1168.3,663.2 1168.7,661.1 1169.3,660.4 1169.7,667.3 1170.3,661.9 1170.7,659.8 1171.3,663.3 1171.7,667.1 1172.3,665 1172.7,661.1 1173.3,661.1 1173.7,667.9 1174.3,665.7 1174.7,664.5 1175.3,662.7 1175.7,667.3 1176.3,663.4 1176.7,662.5 1177.3,663.2 1177.7,667.5 1178.3,664.3 1178.7,662.8 1179.3,663.9 1179.7,666.4 1180.3,660.9 1180.7,659.6 1181.3,660.4 1181.7,660.8 1182.3,661.7 1182.7,658.2 1183.3,657.5 1183.7,659.1 1184.3,657.6 1184.7,655.3 1185.3,652.9 1185.7,658.3 1186.3,652.3 1186.7,649.9 1187.3,646.1 1187.7,652.8 1188.3,646.3 1188.7,643.1 1189.3,639.8 1189.7,643.1 1190.3,641.2 1190.7,637.3 1191.3,632.9 1191.7,636 1192.3,630.4 1192.7,629.5 1193.3,624.1 1193.7,626.6 1194.3,623.4 1194.7,622.4 1195.3,620.9 1195.7,621.5 1196.3,617.5 1196.7,615.1 1197.3,612.2 1197.7,615.6 1198.5,609.6 1199.3,606.1 1199.7,610.3 1200.3,605.7 1200.7,605.3 1201.3,602.5 1201.7,603.7 1202.3,602.8 1202.7,600.8 1203.3,598.1 1203.7,601 1204.3,597.6 1204.7,597 1205.3,595.5 1205.7,597 1206.3,596.1 1206.7,595.7 1207.3,594.9 1207.7,596.4 1208.4,595.4 1208.8,594.6 1209.3,594.3 1209.7,595.6 1210.3,595.6 1210.7,594.7 1211.3,596 1211.7,596.5 1212.3,597.5 1212.7,596.5 1213.3,597.2 1213.7,600 1214.3,599.9 1214.7,598.5 1215.3,601.2 1215.7,602.1 1216.3,605.4 1216.7,602.8 1217.3,604 1217.7,607.4 1218.3,609.2 1218.7,608.6 1219.3,611 1219.7,612.7 1220.3,617.6 1220.7,617.1 1221.3,616.4 1221.7,620.6 1222.3,623.4 1222.7,622.8 1223.3,625.4 1223.7,629.2 1224.3,629.9 1224.7,628.6 1225.3,632.7 1225.7,635.5 1226.3,639.8 1226.7,639.1 1227.3,640.5 1227.7,644.7 1228.3,646.7 1228.7,645.9 1229.3,648.2 1229.7,651.6 1230.3,652.5 1230.7,651.9 1231.3,655.7 1231.7,658 1232.5,662.1 1233.3,663 1233.7,667.9 1234.3,668.5 1234.7,664.4 1235.3,665.2 1235.7,669.2 1236.3,673 1236.7,667.9 1237.3,672.5 1237.7,674.1 1238.5,674.9 1239.3,675.1 1239.7,683.3 1240.3,675.3 1240.7,674.8 1241.3,676.4 1241.7,680.8 1242.3,683.6 1242.7,683 1243.3,680 1243.7,687.1 1244.3,686.2 1244.7,683.7 1245.3,680.4 1245.7,685.7 1246.3,683.9 1246.7,680.9 1247.3,682.5 1247.7,687.6 1248.3,688.1 1248.7,686.2 1249.3,685.2 1249.7,687.2 1250.3,689.9 1250.7,683.4 1251.3,685.1 1251.7,687.7 1252.3,686.9 1252.7,684.3 1253.3,683.8 1253.7,688.5 1254.3,688.3 1254.7,685.6 1255.3,686.6 1255.7,692.9 1256.3,687.3 1256.7,683.4 1257.3,687.2 1257.7,690.4 1258.3,695.4 1258.7,690 1259.3,687.3 1259.7,693.3 1260.3,693.8 1260.7,689 1261.3,687.1 1261.7,694.6 1262.3,692.6 1262.7,690.8 1263.3,693.1 1263.7,700.9 1264.3,699.4 1264.7,690.5 1265.3,689.3 1265.7,695.6 1266.3,693.7 1266.7,692.7 1267.3,695 1267.7,697.7 1268.3,699.1 1268.7,695.2 1269.3,697.5 1269.7,697.9 1270.3,701.6 1270.7,697.4 1271.3,699.5 1271.7,701.9 1272.3,704.9 1272.7,702.6 1273.3,697.9 1273.7,707.4 1274.3,708 1274.7,706.7 1275.3,698.9 1275.7,707.4 1276.3,707.8 1276.7,704.2 1277.3,701.9 1277.7,707.1 1278.3,705 1278.7,699.5 1279.3,702.5 1279.7,711.9 1280.3,715.2 1280.7,708.9 1281.3,703.3 1281.7,705.3 1282.3,710.3 1282.7,703.8 1283.3,704 1283.7,709.9 1284.3,707 1284.7,703.3 1285.3,705.3 1285.7,712.2 1286.3,712.6 1286.7,706.9 1287.3,703.5 1287.7,706.8 1288.3,714.1 1288.7,703.7 1289.3,704.5 1289.7,707.1 1290.3,710.2 1290.7,696.1 1291.3,698 1291.7,703.8 1292.3,707.5 1292.7,702.6 1293.3,702.4 1293.7,703.2 1294.3,698.6 1294.7,698.3 1295.3,696.6 1295.7,700.4 1296.1,702.9 1296.5,693.9 1297.3,699.8 1297.7,708.6 1298.3,710.4 1298.7,697.9 1299.3,702.8 1299.7,713.9 1300.3,706.1 1300.7,704.7 1301.3,703.7 1301.7,708 1302.3,710.9 1302.7,706.9 1303.3,704.4 1303.7,707.8 1304.3,713.8 1304.7,710.9 1305.3,705.5 1305.7,709.5 1306.3,717.8 1306.7,707.6 1307.3,713.9 1307.7,719.3 1308.3,708.6 1308.7,708 1309.3,710.8 1309.7,719.1 1310.3,720.1 1310.7,713.5 1311.3,709.3 1311.7,720.9 1312.3,716.5 1312.7,707.6 1313.3,711.5 1313.7,714.2 1314.3,716.2 1314.7,712.5 1315.3,707.3 1315.7,710 1316.3,717.5 1316.7,710.1 1317.3,716.2 1317.7,721.8 1318.3,713.9 1318.7,711.6 1319.3,716.4 1319.7,724.6 1320.3,718.1 1320.7,715.9 1321.3,710.2 1321.7,719.5 1322.3,719.7 1322.7,715.8 1323.3,713.5 1323.7,721.8 1324.3,723.1 1324.7,719 1325.3,715.9 1325.7,722.1 1326.3,723.3 1326.7,718.5 1327.3,718.3 1327.7,720.2 1328.3,721.2 1328.7,718.6 1329.3,714.2 1329.7,718.8 1330.3,719 1330.7,718 1331.3,718.1 1331.7,719.7 1332.3,726.4 1332.7,714.1 1333.3,712.3 1333.7,720.7 1334.3,722 1334.7,718.7 1335.3,715.1 1335.7,729 1336.3,731.6 1336.7,713.1 1337.3,713.6 1337.7,718.3 1338.3,721.7 1338.7,717.6 1339.3,713.7 1339.7,718 1340.3,725.6 1340.7,718.3 1341.3,716.7 1341.7,724.2 1342.3,721.3 1342.7,717 1343.3,720.2 1343.7,721.7 1344.3,723.2 1344.7,718.5 1345.1,715.7" fill="none" stroke="#F00A08" stroke-width="7.0" stroke-linejoin="round" stroke-linecap="butt" clip-path="url(#clipA)"/>
<polyline points="63.3,810.9 63.7,823.1 64.3,818.6 64.7,815.4 65.3,817.6 65.7,821.3 66.3,822.5 66.7,820.2 67.3,819.4 67.7,823.6 68.3,814.2 68.7,811.3 69.3,807 69.7,826.1 70.5,826.5 71.3,809.4 71.7,835.2 72.3,815.4 72.7,812.4 73.3,806 73.7,825.3 74.3,826 74.7,819 75.3,806.2 75.7,820.6 76.3,823.8 76.7,815.7 77.3,826.2 77.7,832.9 78.3,814.9 78.7,808.1 79.3,815.9 79.7,826.7 80.3,822.2 80.7,815.5 81.3,820.1 81.7,828.1 82.3,821.3 82.7,817.6 83.3,806.4 83.7,822.5 84.3,821.5 84.7,814.1 85.3,826.3 85.7,829.6 86.3,830.9 86.7,823.3 87.3,820.3 87.7,828 88.3,814.1 88.7,810.3 89.3,812.4 89.7,821.8 90.3,823.8 90.7,815 91.3,814.1 91.7,825.1 92.3,823.8 92.7,822.8 93.3,812.9 93.7,822.3 94.3,820.8 94.7,819.5 95.3,813.4 95.7,829 96.3,815.4 96.7,812.9 97.3,811.3 97.7,834.5 98.5,834.5 99.3,813.7 99.7,821 100.3,825.4 100.7,821.3 101.3,815.3 101.7,823.6 102.3,832.1 102.7,825.1 103.3,809 103.7,815.3 104.3,820.3 104.7,813.5 105.3,822.9 105.7,831.1 106.3,822.1 106.7,819.4 107.3,808.8 107.7,821.6 108.3,817.3 108.7,815.9 109.3,819 109.7,830.3 110.3,816.4 110.7,811.3 111.3,817.2 111.7,825 112.3,822.5 112.7,813.7 113.3,811.3 113.7,834.1 114.3,819 114.7,813.2 115.3,819.2 115.7,825.5 116.3,829 116.7,812.8 117.3,807.8 117.7,824 118.3,825 118.7,816.1 119.3,810.7 119.7,820.7 120.3,824.8 120.7,814.7 121.3,813.1 121.7,814.6 122.3,822.5 122.7,819 123.3,818.3 123.7,820.2 124.3,812.2 124.7,811 125.3,820 125.7,825.2 126.3,817.2 126.7,813.1 127.3,816.3 127.7,821.3 128.3,821.2 128.7,816.7 129.3,821.4 129.7,821.8 130.3,825.8 130.7,812.6 131.3,823.7 131.7,829.5 132.3,821.1 132.7,815.2 133.3,817.3 133.7,822 134.3,829.5 134.7,813.5 135.3,809.3 135.7,826.2 136.3,823.4 136.7,819.1 137.3,819.9 137.7,826 138.3,821 138.7,816.8 139.3,815.4 139.7,821.7 140.3,821.3 140.7,808 141.3,817.7 141.7,823.4 142.3,817 142.7,812.6 143.3,819.6 143.7,832.7 144.3,822.5 144.7,815.2 145.3,816.5 145.7,832.6 146.3,819.1 146.7,811.2 147.3,812.6 147.7,815.7 148.3,824.4 148.7,814.8 149.3,813.4 149.7,832.2 150.3,821.9 150.7,818.4 151.3,815.5 151.7,820 152.3,816.1 152.7,812.8 153.3,814.3 153.7,828.3 154.3,812.8 154.7,808.7 155.3,814.1 155.7,823.5 156.3,822.2 156.7,813.2 157.3,814.8 157.7,819.7 158.3,813.4 158.7,806.1 159.3,814.7 159.7,823.7 160.3,823.6 160.7,810.7 161.3,803.8 161.7,814.6 162.3,812.1 162.7,810.6 163.3,810.1 163.7,815.9 164.3,816.9 164.7,809.3 165.3,800.5 165.7,808.5 166.3,816.3 166.7,797.4 167.3,797.6 167.7,805.6 168.3,805.6 168.7,798.5 169.3,791 169.7,798.4 170.3,804.5 170.7,799.3 171.3,788.3 171.7,793.1 172.3,783 172.7,782.3 173.3,777.6 173.7,787.4 174.3,777.3 174.7,774.5 175.3,772.7 175.7,777.5 176.4,779 176.8,770.9 177.3,775.3 177.7,776.5 178.3,776.4 178.7,773.2 179.3,774.4 179.7,785.4 180.3,788.5 180.7,779.2 181.3,781.8 181.7,788.8 182.3,797.1 182.7,788.1 183.3,786.8 183.7,794.2 184.3,792.5 184.7,790.3 185.3,797.9 185.7,801.9 186.3,806.4 186.7,805.8 187.3,804.7 187.7,809.1 188.3,810.7 188.7,805.4 189.3,803.7 189.7,812.4 190.3,817.4 190.7,802.1 191.3,809.3 191.7,820.4 192.3,813.1 192.7,808 193.3,814.7 193.7,826.6 194.3,823.6 194.7,817 195.3,806.1 195.7,822.5 196.3,819.6 196.7,814.6 197.3,807.5 197.7,811.7 198.3,811.2 198.7,808.2 199.3,811 199.7,813.2 200.3,814.2 200.7,811.8 201.3,808.1 201.7,817.9 202.3,817.7 202.7,812.3 203.3,812.9 203.7,814.9 204.5,812.4 205.3,810.6 205.7,812.2 206.3,810.3 206.7,809.5 207.3,810.9 207.7,822.8 208.3,815.1 208.7,809.5 209.3,810.7 209.7,821.9 210.3,819.7 210.7,813.8 211.3,813 211.7,813.7 212.3,820.5 212.7,805.3 213.3,810.3 213.7,824.7 214.3,823.5 214.7,814.4 215.3,811.8 215.7,822.8 216.3,818 216.7,815.9 217.3,811.6 217.7,815.5 218.3,825.1 218.7,810 219.3,807.7 219.7,818.3 220.3,823.2 220.7,821.5 221.3,817.7 221.7,820.5 222.3,814.8 222.7,813.4 223.3,812.1 223.7,822.8 224.3,815.8 224.7,807.6 225.3,814.5 225.7,816.1 226.3,810.8 226.7,809.4 227.3,812.9 227.7,818.1 228.3,819.5 228.7,816.2 229.3,810.2 229.7,814.1 230.3,811.3 230.7,807.6 231.3,809.9 231.7,818.3 232.3,822 232.7,804 233.3,813.7 233.7,818 234.3,817.2 234.7,812.5 235.3,812.3 235.7,828.6 236.3,816.6 236.7,805.7 237.3,808.1 237.7,823 238.3,813.8 238.7,812.1 239.3,806.5 239.7,825.8 240.3,811 240.7,807.8 241.3,804.2 241.7,812.3 242.5,821.3 243.3,809 243.7,818.5 244.3,821.7 244.7,810.4 245.3,813 245.7,815.2 246.3,825.5 246.7,813 247.3,813.2 247.7,821.8 248.3,829.7 248.7,823.7 249.3,805.2 249.7,818.6 250.3,823 250.7,813 251.3,804.9 251.7,812.7 252.3,823.5 252.7,815.1 253.3,811.3 253.7,817.5 254.3,812.3 254.7,807.5 255.3,810.3 255.7,813.7 256.3,813 256.7,811.9 257.3,811 257.7,815.5 258.3,810.6 258.7,809.8 259.3,809.1 259.7,821.5 260.3,820.1 260.7,815.9 261.3,808.2 261.7,818.4 262.3,815.1 262.7,811.6 263.3,807.1 263.7,819 264.3,820.7 264.7,813.5 265.3,806.1 265.7,816.6 266.3,813.9 266.7,812.5 267.3,804.7 267.7,822.3 268.3,818.8 268.7,812.2 269.3,810.8 269.7,817.6 270.3,829.9 270.7,816.7 271.3,812.8 271.7,829.9 272.3,813.7 272.7,810.6 273.3,809.9 273.7,818.4 274.3,818.1 274.7,810.2 275.3,809.6 275.7,812.8 276.3,818.1 276.7,812.1 277.3,807.7 277.7,816.1 278.3,826.5 278.7,816.7 279.3,807.4 279.7,814.4 280.3,814.3 280.7,812.7 281.3,808.8 281.7,826 282.3,813.6 282.7,813.2 283.3,813.3 283.7,818.5 284.3,820 284.7,814.5 285.3,805.7 285.7,815.7 286.3,817.3 286.7,811.6 287.3,809 287.7,810.4 288.3,824 288.7,806.6 289.3,813.5 289.7,822.2 290.3,817.5 290.7,811.8 291.3,811.6 291.7,821.3 292.3,807.8 292.7,805.7 293.3,808.6 293.7,813.9 294.3,820.2 294.7,814.3 295.3,807.6 295.7,826.7 296.3,819.1 296.7,814.2 297.3,806.8 297.7,823.2 298.3,824.2 298.7,814.2 299.3,805.3 299.7,816.3 300.3,806.1 300.7,804.9 301.3,814.4 301.7,821.1 302.3,808.7 302.7,804.9 303.3,805.5 303.7,817.7 304.3,818.6 304.7,817 305.3,808.7 305.7,815.4 306.3,808.3 306.7,807.8 307.3,807.5 307.7,822 308.3,816.8 308.7,815.4 309.3,808 309.7,812.9 310.3,815.8 310.7,811 311.3,800.5 311.7,813.5 312.3,823.8 312.7,810.7 313.3,802 313.7,813.3 314.3,817.1 314.7,806 315.3,796.3 315.7,814.3 316.3,813.2 316.7,809.1 317.3,802.3 317.7,821.7 318.5,810.5 319.3,809.1 319.7,813.1 320.3,808.2 320.7,801.8 321.3,814.1 321.7,818.9 322.3,817 322.7,812.4 323.3,803.1 323.7,814.5 324.3,816.4 324.7,809.1 325.3,804.6 325.7,808.4 326.3,806.8 326.7,801 327.3,805.8 327.7,819.8 328.3,817.5 328.7,809.4 329.3,801.8 329.7,806 330.3,817.4 330.7,804.8 331.3,803.5 331.7,807.2 332.3,822.2 332.7,813.8 333.3,798 333.7,819.3 334.3,805.6 334.7,801.5 335.3,806.7 335.7,815.4 336.3,820.8 336.7,803.4 337.3,801.4 337.7,812.1 338.3,804.3 338.7,802.1 339.3,801.5 339.7,809.6 340.3,804.6 340.7,801.1 341.3,800.8 341.7,809.8 342.3,807 342.7,803.1 343.3,801.7 343.7,808.3 344.3,807.8 344.7,796 345.3,796.4 345.7,807 346.3,797 346.7,791.6 347.3,795.9 347.7,799.5 348.3,803 348.7,788.9 349.3,791.2 349.7,795.5 350.3,799 350.7,794 351.3,789.5 351.7,800.6 352.3,790 352.7,785.1 353.3,786.3 353.7,791.4 354.3,782.9 354.7,782.1 355.3,778.3 355.7,780.9 356.3,779.9 356.7,779.6 357.3,769.1 357.7,779.3 358.3,772.7 358.7,772 359.3,764.6 359.7,768.4 360.3,762.5 360.7,762 361.3,757.4 361.7,758.2 362.3,753.6 362.7,751.6 363.3,745.3 363.7,752.9 364.3,746.6 364.7,738.9 365.3,734.5 365.7,738.2 366.3,732.9 366.7,730.9 367.3,725.7 367.7,730.1 368.3,725.1 368.7,722.8 369.3,719.4 369.7,721.7 370.3,716.7 370.7,714.9 371.3,711.3 371.7,713.4 372.5,709.9 373.3,705.5 373.7,707.6 374.3,703.4 374.7,702.6 375.3,699.2 375.7,702.2 376.3,699.9 376.7,698.8 377.3,696.8 377.7,697.6 378.3,697.2 378.7,694.8 379.3,693.4 379.7,694.3 380.2,695.4 380.6,695 381.3,694.2 381.7,696.7 382.3,696.7 382.7,694.3 383.3,695.4 383.7,698.9 384.3,699 384.7,698.7 385.3,700.1 385.7,702.9 386.3,704.5 386.7,703.2 387.3,706.5 387.7,707.4 388.3,711.6 388.7,710.9 389.3,713.3 389.7,715.9 390.3,718.3 390.7,717.6 391.3,720.2 391.7,723.2 392.3,727.4 392.7,723.5 393.3,728.4 393.7,731.1 394.3,737.8 394.7,737.1 395.3,740.8 395.7,744 396.3,743.5 396.7,743.2 397.3,750.3 397.7,753.7 398.3,757 398.7,755.1 399.3,755.5 399.7,760.4 400.3,766 400.7,761.2 401.3,766 401.7,770 402.3,772.6 402.7,771.4 403.3,774.7 403.7,780.2 404.3,782.1 404.7,775.2 405.3,782.8 405.7,786 406.3,787.2 406.7,782.8 407.3,788.8 407.7,790.5 408.3,792.1 408.7,791.5 409.3,785.3 409.7,792.2 410.3,803.2 410.7,798.8 411.3,793.7 411.7,794.2 412.3,798.5 412.7,795.1 413.3,793.9 413.7,796.8 414.3,795.2 414.7,794.2 415.3,797.1 415.7,804.6 416.3,804.6 416.7,797.8 417.3,797.9 417.7,801.2 418.3,800 418.7,794.8 419.3,796.8 419.7,804 420.3,799.3 420.7,796 421.3,797.6 421.7,810.1 422.3,801.4 422.7,797.9 423.3,802.5 423.7,803.9 424.3,807.2 424.7,801 425.3,805.2 425.7,813.2 426.3,811.7 426.7,805.1 427.3,800.1 427.7,803 428.3,808.2 428.7,807 429.3,810.5 429.7,814.1 430.3,815.7 430.7,806.4 431.3,796.5 431.7,805.8 432.3,809.6 432.7,808.9 433.3,796.4 433.7,811.1 434.3,819.9 434.7,810.2 435.3,799.5 435.7,812.1 436.3,803.4 436.7,799.5 437.3,807.5 437.7,811.1 438.3,810.6 438.7,804.4 439.3,808.7 439.7,811 440.3,811.3 440.7,802.4 441.3,803.6 441.7,811.7 442.3,818.9 442.7,807.1 443.3,810.6 443.7,814.3 444.3,822.7 444.7,797.8 445.3,810.5 445.7,817.2 446.5,810.7 447.3,807.3 447.7,814.4 448.3,822.7 448.7,811.4 449.3,801.5 449.7,815.1 450.3,817.7 450.7,807.6 451.3,807.1 451.7,815.4 452.3,817.6 452.7,809.8 453.3,809.9 453.7,827 454.3,813.3 454.7,809.3 455.3,812.5 455.7,816.6 456.3,817.9 456.7,808 457.3,801 457.7,814.8 458.3,821.4 458.7,815.1 459.3,811.8 459.7,821.5 460.3,818 460.7,803.9 461.3,817.2 461.7,830.9 462.3,808.2 462.7,807.5 463.3,808.8 463.7,822.9 464.3,822 464.7,804 465.3,806.1 465.7,815.8 466.3,816.2 466.7,813 467.3,814.3 467.7,824.5 468.5,813.5 469.3,825.1 469.7,833 470.3,821.2 470.7,819.2 471.3,810.2 471.7,827.4 472.3,833.7 472.7,809.8 473.3,812.7 473.7,817.2 474.3,825.5 474.7,812.6 475.3,811.9 475.7,820.9 476.3,826 476.7,818.8 477.3,819.1 477.7,822 478.3,818.2 478.7,816.4 479.3,810.5 479.7,824.5 480.3,824.3 480.7,812.7 481.3,814.6 481.7,827.1 482.3,823 482.7,810.8 483.3,820 483.7,821.7 484.3,815 484.7,813.6 485.3,810.7 485.7,818.3 486.3,817.8 486.7,812.5 487.3,820.4 487.7,835.2 488.3,820.7 488.7,817.2 489.3,802.6 489.7,819.2 490.3,820 490.7,815.8 491.3,814 491.7,818.6 492.3,819.9 492.7,812.3 493.3,815.5 493.7,824.5 494.3,824.8 494.7,810.3 495.3,822.2 495.7,828.3 496.3,822.1 496.7,820.3 497.3,817.1 497.7,828.5 498.3,823.2 498.7,812.3 499.3,814.6 499.7,825.8 500.3,823.9 500.7,805.1 501.3,810.6 501.7,831.4 502.3,835.8 502.7,809.2 503.3,816 503.7,821.9 504.5,818.7 505.3,814.4 505.7,821.8 506.3,821.7 506.7,821.1 507.3,814.8 507.7,826.4 508.3,832.3 508.7,814.7 509.3,816.2 509.7,829.5 510.3,820.8 510.7,817.5 511.3,812.8 511.7,818.9 512.3,834.3 512.7,823.6 513.3,819.8 513.7,832.2 514.3,834 514.7,808.4 515.3,817.3 515.7,819.8 516.3,826.1 516.7,814.3 517.3,821.6 517.7,833.8 518.3,816.3 518.7,809.2 519.3,816.7 519.7,822.8 520.3,822.6 520.7,818.1 521.3,813.2 521.7,830.2 522.3,835.1 522.7,825.1 523.3,813.8 523.7,826.4 524.3,836.4 524.7,827 525.3,814.7 525.7,836.4 526.3,822.6 526.7,819.2 527.3,815.4 527.7,827.4 528.3,818.7 528.7,815.3 529.3,816.7 529.7,818.1 530.3,822.9 530.7,815.2 531.3,813.1 531.7,820.8 532.3,829 532.7,813.9 533.3,817.6 533.7,827.5 534.3,817.6 534.7,816.3 535.3,816.3 535.7,825.1 536.5,818.4 537.3,807.7 537.7,826.8 538.3,828.7 538.7,812 539.3,813.7 539.7,826 540.5,836.6 541.3,814.9 541.7,836.6 542.3,821.4 542.7,820.6 543.3,818.1 543.7,827.8 544.3,827.9 544.7,817.1 545.3,809.2 545.7,828.1 546.3,833.1 546.7,810.5 547.3,811 547.7,832.6 548.3,827.1 548.7,818.3 549.3,818.5 549.7,826.9 550.3,830.1 550.7,817.1 551.3,810.5 551.7,823.1 552.3,826.8 552.7,822.4 553.3,814.1 553.7,816.3 554.3,817.7 554.7,816.9 555.3,815.6 555.7,818.4 556.3,832.3 556.7,816.9 557.3,813.7 557.7,821.7 558.3,820.8 558.7,818.7 559.3,808.4 559.7,824.8 560.3,825.6 560.7,816.8 561.3,815.2 561.7,829.4 562.3,819.6 562.7,811.6 563.3,812.5 563.7,817.9 564.3,822.3 564.7,808.9 565.3,809.9 565.7,824.1 566.3,820.8 566.7,813.9 567.3,814.5 567.7,823.8 568.3,822.7 568.7,820.5 569.3,812 569.7,824.2 570.3,820.2 570.7,818.9 571.3,812.4 571.7,819.2 572.3,816 572.7,815.2 573.3,815 573.7,821 574.3,817.7 574.7,812.7 575.3,814.2 575.7,821.7 576.3,829.8 576.7,816.6 577.3,815 577.7,819.8 578.3,818.3 578.7,814 579.3,820.5 579.7,827.2 580.3,821.3 580.7,815.9 581.3,813.8 581.7,826.3 582.3,832.3 582.7,816.1 583.3,812.5 583.7,820.5 584.3,822.6 584.7,814.2 585.3,808.5 585.7,822.9 586.3,821.7 586.7,810.3 587.3,808.1 587.7,816.7 588.3,824.3 588.7,817.7 589.3,816.4 589.7,826 590.5,818.6 591.3,815.3 591.7,825.3 592.3,828.5 592.7,825.5 593.3,812.6 593.7,821.5 594.3,826.8 594.7,819 595.3,816.5 595.7,825 596.3,822.2 596.7,819.7 597.3,806.2 597.7,832.3 598.3,825.2 598.7,816.1 599.3,818.5 599.7,821.7 600.3,819.7 600.7,818.2 601.3,815.8 601.7,824.9 602.3,826.7 602.7,823.5 603.3,811.7 603.7,818.6 604.3,819.1 604.7,815.5 605.3,816.8 605.7,820.8 606.3,821.4 606.7,820.6 607.3,815 607.7,825.3 608.3,823.6 608.7,820.1 609.3,821.2 609.7,832.3 610.3,836.6 610.7,819.3 611.3,815 611.7,826.8 612.3,824.7 612.7,819.6 613.3,814.1 613.7,831.5 614.3,831.9 614.7,822.6 615.3,818.1 615.7,837.2 616.3,816.7 616.7,816 617.3,814 617.7,827 618.5,822.3 619.3,818 619.7,824 620.3,828.4 620.7,820.3 621.3,804.9 621.7,822.9 622.3,821.5 622.7,818.3 623.3,816.7 623.7,826.9 624.3,819.5 624.7,816.2 625.3,820.8 625.7,830.5 626.3,814.8 626.7,811.7 627.3,819.4 627.7,823.5 628.3,834.8 628.7,819.3 629.3,819.7 629.7,826.6 630.3,822.8 630.7,819.1 631.3,818.6 631.7,821.3 632.3,825.6 632.7,822.2 633.3,815.1 633.7,836.8 634.3,818.3 634.7,814.6 635.3,817.5 635.7,831.9 636.3,823.9 636.7,817.5 637.3,811.8 637.7,825.7 638.3,823.5 638.7,821 639.3,806.8 639.7,831.2 640.3,815.7 640.7,809 641.3,811.6 641.7,821.7 642.3,825.3 642.7,821.4 643.3,815 643.7,818.4 644.3,818.7 644.7,813.3 645.3,818.6 645.7,826.7 646.3,820.2 646.7,813 647.3,814.7 647.7,820.5 648.3,824.4 648.7,819.8 649.3,810.8 649.7,818.9 650.3,830 650.7,820.9 651.3,820.3 651.7,833.2 652.3,825.7 652.7,822.6 653.3,820.1 653.7,822.1 654.3,826.3 654.7,816.3 655.3,818 655.7,820.8 656.3,824.1 656.7,815.5 657.3,810.7 657.7,823.3 658.3,823.6 658.7,811.2 659.3,805.8 659.7,830.6 660.3,826.1 660.7,817 661.3,814.2 661.7,816.5 662.3,826.7 662.7,824.5 663.3,817.6 663.7,827.6 664.3,813.8 664.7,807.8 665.3,809.5 665.7,827.9 666.3,820.3 666.7,809 667.3,815.1 667.7,819.5 668.3,816.4 668.7,815.8 669.3,807 669.7,828.7 670.3,815.2 670.7,812.4 671.3,812.7 671.7,814.9 672.3,820.1 672.7,816.2 673.3,813.2 673.7,819.5 674.3,819.6 674.7,811.6 675.3,819.7 675.7,824.9 676.3,820.8 676.7,807.8 677.3,813 677.7,825 678.3,825.5 678.7,813.4 679.3,811.7 679.7,823.3 680.3,813.1 680.7,803.6 681.3,806 681.7,813 682.3,815.5 682.7,810 683.3,810.2 683.7,813.4 684.3,819.9 684.7,817.9 685.3,812.6 685.7,817.9 686.3,822.3 686.7,818 687.3,807.9 687.7,815.9 688.3,818 688.7,811.5 689.3,811.3 689.7,821.5 690.3,823.9 690.7,815.9 691.3,807.8 691.7,818.3 692.3,819.7 692.7,812.5 693.3,806.9 693.7,809.8 694.3,809.4 694.7,807.5 695.3,805.6 695.7,815.8 696.3,822.4 696.7,813.8 697.3,803.5 697.7,812.3 698.3,820.5 698.7,810.2 699.3,816.1 699.7,822 700.3,809.8 700.7,805.3 701.3,808.2 701.7,819.6 702.3,808.9 702.7,806.4 703.3,807.9 703.7,817.8 704.3,822.3 704.7,811.8 705.3,805.1 705.7,812.6 706.3,814.4 706.7,811.6 707.3,802.6 707.7,811 708.3,823.6 708.7,804.8 709.3,805.4 709.7,814.3 710.3,824.3 710.7,807.8 711.3,806.9 711.7,812.6 712.3,814.9 712.7,808.1 713.3,804.4 713.7,823.5 714.3,811.7 714.7,802.2 715.3,799.4 715.7,804.7 716.3,808.4 716.7,794.1 717.3,800.6 717.7,807.5 718.3,811.8 718.7,805.1 719.3,801.1 719.7,812.6 720.3,809.3 720.7,801.9 721.3,803.4 721.7,813.3 722.3,820 722.7,811.6 723.3,802.3 723.7,811.5 724.3,804.8 724.7,800.4 725.3,801 725.7,804.2 726.3,804.4 726.7,800.2 727.3,798.1 727.7,803.5 728.3,803.8 728.7,800.9 729.3,796.6 729.7,804.8 730.5,807.9 731.3,800.3 731.7,811.9 732.3,808.4 732.7,798.6 733.3,797.5 733.7,811.4 734.3,806.8 734.7,805.2 735.3,797.9 735.7,805.6 736.3,810.7 736.7,798.2 737.3,795.9 737.7,808.5 738.3,806.1 738.7,802.2 739.3,794.6 739.7,804.3 740.3,794.6 740.7,791.5 741.2,783.3 741.6,797.5 742.3,799 742.7,796 743.3,786.9 743.7,804.4 744.3,799.8 744.7,794.9 745.3,802.3 745.7,805 746.3,805.4 746.7,795.1 747.3,790.6 747.7,800.8 748.3,804.6 748.7,792.6 749.3,796.2 749.7,799.9 750.3,799.6 750.7,796.3 751.3,793.1 751.7,800.6 752.3,800.8 752.7,794.7 753.3,793.6 753.7,809.9 754.3,804.4 754.7,796.9 755.3,797.7 755.7,808 756.3,801.1 756.7,798.1 757.3,797.3 757.7,802.8 758.5,797.6 759.3,801.2 759.7,804.2 760.3,807.1 760.7,796.5 761.3,790.7 761.7,796.2 762.3,801.3 762.7,797.6 763.3,790.9 763.7,795 764.3,794.5 764.7,790.3 765.3,793.7 765.7,798.4 766.3,805.9 766.7,797.5 767.3,787.4 767.7,792.2 768.3,802 768.7,789.8 769.3,785 769.7,791.3 770.3,781.4 770.7,779.9 771.3,763.5 771.7,779.7 772.2,766.3 772.6,761.1 773.3,769.7 773.7,781.5 774.3,788.1 774.7,781.4 775.3,784.8 775.7,798.3 776.3,793.6 776.7,789.6 777.3,788.2 777.7,790.7 778.3,798.6 778.7,788.4 779.3,795.7 779.7,803.4 780.3,792.7 780.7,791 781.3,796.5 781.7,805.8 782.3,798.5 782.7,795 783.3,789.8 783.7,793.7 784.3,791.9 784.7,791.4 785.3,784.5 785.7,796.6 786.3,797.3 786.7,796.5 787.3,790.1 787.7,792.2 788.3,793.8 788.7,790.5 789.3,783.8 789.7,797.4 790.3,796.2 790.7,795.2 791.3,791.1 791.7,797.3 792.3,793.4 792.7,782.6 793.3,787.2 793.7,794.5 794.3,795.1 794.7,790 795.3,788.8 795.7,802.2 796.3,792.6 796.7,786.9 797.3,789.4 797.7,796.2 798.3,790.7 798.7,788.9 799.3,787.3 799.7,791.9 800.3,787.9 800.7,785.9 801.3,784.6 801.7,790.3 802.3,795.6 802.7,786.4 803.3,789 803.7,793.2 804.3,792.4 804.7,786.3 805.3,784.6 805.7,793.6 806.3,790.8 806.7,782.6 807.3,783.4 807.7,790.4 808.3,790.7 808.7,788.9 809.3,785.1 809.7,790.6 810.3,789.3 810.7,783.6 811.3,787.5 811.7,789.1 812.3,785.6 812.7,785.1 813.3,786 813.7,787.9 814.3,789.2 814.7,781 815.3,780.1 815.7,789.3 816.3,785.4 816.7,782.5 817.3,781 817.7,785.9 818.3,787.9 818.7,786.3 819.3,779.4 819.7,781.1 820.3,782.4 820.7,777.3 821.3,779.3 821.7,785.1 822.3,788.1 822.7,779.4 823.3,781.2 823.7,788.3 824.3,780.6 824.7,779.6 825.3,774.3 825.7,780 826.3,782.5 826.7,777.8 827.3,775.1 827.7,783.6 828.3,784.5 828.7,780 829.3,776.5 829.7,785 830.3,783.7 830.7,775.7 831.3,774.8 831.7,782.7 832.3,782.9 832.7,773.6 833.3,775.1 833.7,778.3 834.3,781.5 834.7,778.6 835.3,776.2 835.7,776.7 836.3,775.6 836.7,769.5 837.3,770 837.7,775.1 838.3,773.5 838.7,772.3 839.3,772 839.7,773.7 840.3,777.9 840.7,768.1 841.3,768.7 841.7,776.8 842.5,768.7 843.3,766.4 843.7,770.2 844.5,767.1 845.3,764.5 845.7,770.9 846.3,767.1 846.7,764.6 847.3,760.3 847.7,763.8 848.3,762.3 848.7,761.2 849.3,758.3 849.7,762.2 850.3,757.1 850.7,755.5 851.3,753.3 851.7,757.9 852.3,753.4 852.7,748.6 853.3,721.9 853.7,741.3 854.3,709.8 854.7,699 855.3,693.8 855.7,698 856.3,692.1 856.7,690 857.3,686.7 857.7,689.7 858.3,686.7 858.7,685.9 859.3,681.8 859.7,685.1 860.3,683.1 860.7,680.6 861.3,673.4 861.7,677.3 862.3,670.2 862.7,665.5 863.3,649.1 863.7,660.2 864.3,641.6 864.7,633.5 865.3,614.8 865.7,626.4 866.1,621.5 866.5,615 867.3,629.7 867.7,645.1 868.3,659 868.7,652.8 869.3,662.3 869.7,671.3 870.3,676.4 870.7,674.6 871.3,679 871.7,683.9 872.3,685.8 872.7,684.4 873.3,686.1 873.7,687.6 874.3,689.1 874.7,688.5 875.3,690 875.7,691 876.5,691.1 877.3,689.9 877.7,692.2 878.3,691.1 878.7,690.8 879.3,690.2 879.7,692.3 880.3,690.1 880.7,689.7 881.3,689.7 881.7,691.5 882.3,690.9 882.7,689.3 883.5,688.7 884.3,689.1 884.7,688 885.3,687.3 885.7,688.2 886.3,687.5 886.7,686.6 887.3,687.1 887.7,687.7 888.3,686.5 888.7,685.3 889.3,683.5 889.7,684.6 890.3,685.8 890.7,682.9 891.3,681.9 891.7,684.9 892.3,682.6 892.7,681.5 893.3,679.9 893.7,681.7 894.5,680.9 895.3,679.1 895.7,681.1 896.3,680.1 896.7,678 897.5,677.8 898.3,676.1 898.7,675.8 899.3,674.9 899.7,675.8 900.3,676 900.7,673.8 901.3,673.4 901.7,674.2 902.3,672.2 902.7,671.9 903.3,670.8 903.7,673.4 904.5,669.9 905.3,669.1 905.7,670.6 906.3,668.9 906.7,667.5 907.3,666.6 907.7,668.1 908.3,667.2 908.7,666.8 909.3,663.5 909.7,665.3 910.3,664.5 910.7,663.5 911.3,662.1 911.7,662.9 912.3,660.8 912.7,660.5 913.3,659.2 913.7,661.1 914.5,658.7 915.3,657 915.7,657.8 916.5,656.7 917.3,654.4 917.7,655.3 918.3,654 918.7,653.3 919.3,651 919.7,652.7 920.3,651.2 920.7,650.3 921.3,648.7 921.7,651 922.3,649.2 922.7,647.4 923.3,646.5 923.7,647.3 924.3,645.8 924.7,644.8 925.3,643.4 925.7,645.1 926.3,642.7 926.7,642.2 927.3,640.3 927.7,641.1 928.3,640.1 928.7,639.1 929.3,637.7 929.7,638.4 930.3,636.9 930.7,635.8 931.3,633.5 931.7,635 932.3,632.3 932.7,631.8 933.3,628.5 933.7,630.1 934.3,626.7 934.7,625 935.3,617.2 935.7,623.3 936.3,613.5 936.7,609.4 937.3,602.2 937.7,605.1 938.3,607.4 938.7,604.2 939.3,611 939.7,615.6 940.3,617.2 940.7,616.3 941.3,617.7 941.7,618.3 942.3,618 942.7,617.6 943.3,616.4 943.7,617.5 944.5,616.1 945.3,613.8 945.7,615.3 946.3,614.5 946.7,613.1 947.3,611.4 947.7,612.5 948.3,610.6 948.7,610.2 949.3,608.9 949.7,609.7 950.3,608.1 950.7,607.5 951.3,605.5 951.7,606.7 952.5,604.9 953.3,603 953.7,604 954.3,602.5 954.7,602.2 955.3,600.8 955.7,601.3 956.3,599.7 956.7,599 957.3,598.1 957.7,598.9 958.3,597.3 958.7,596.4 959.3,595.4 959.7,596.2 960.3,594.5 960.7,593.7 961.3,592.1 961.7,593.2 962.3,591.6 962.7,591.1 963.3,589.4 963.7,590.2 964.3,588.4 964.7,587.8 965.3,586.4 965.7,587.6 966.3,586 966.7,585 967.3,583 967.7,584.2 968.3,582.6 968.7,582 969.3,579.9 969.7,581.2 970.3,579.3 970.7,578.4 971.3,576.5 971.7,578.3 972.3,575.8 972.7,575.1 973.3,573.3 973.7,574.4 974.3,572.3 974.7,571.4 975.3,569.1 975.7,570.6 976.3,568.1 976.7,567.3 977.3,564.2 977.7,565.9 978.3,563.1 978.7,562 979.3,558.7 979.7,561 980.3,557.3 980.7,556.2 981.3,551.7 981.7,554.5 982.3,550 982.7,548.6 983.3,542.9 983.7,546.9 984.3,541.1 984.7,538.9 985.3,531.8 985.7,536.6 986.3,529.3 986.7,526.6 987.3,517.3 987.7,523.6 988.3,513.8 988.7,510.3 989.3,497.9 989.7,506.3 990.3,493.1 990.7,488 991.3,470.4 991.7,482.6 992.3,463.9 992.7,456.7 993.3,434.7 993.7,449.3 994.3,428.8 994.7,424.9 995.2,424 995.6,431.6 996.3,445.6 996.7,438.3 997.3,453.1 997.7,467.3 998.3,479.9 998.7,473.8 999.3,485.5 999.7,495.9 1000.3,504.8 1000.7,500.5 1001.3,508.9 1001.7,516.6 1002.3,523.3 1002.7,519.9 1003.3,526.4 1003.7,532.4 1004.3,537.7 1004.7,535.1 1005.3,540.3 1005.7,545.1 1006.3,549.6 1006.7,547.6 1007.3,551.8 1007.7,555.8 1008.3,559.5 1008.7,558 1009.3,561.6 1009.7,565.1 1010.3,568.2 1010.7,566.9 1011.3,570.5 1011.7,573.7 1012.3,576.3 1012.7,574.9 1013.3,577.5 1013.7,580.6 1014.3,582.9 1014.7,582.1 1015.3,584.2 1015.7,587.2 1016.3,589.8 1016.7,588.5 1017.3,590.6 1017.7,593.3 1018.3,595.4 1018.7,594 1019.3,597 1019.7,598.8 1020.3,600.8 1020.7,599.8 1021.3,602 1021.7,604 1022.3,606.3 1022.7,605.5 1023.3,606.8 1023.7,609 1024.3,610.7 1024.7,609.9 1025.3,612.1 1025.7,613.5 1026.3,616 1026.7,614.4 1027.3,616.4 1027.7,619.2 1028.3,620.2 1028.7,619.2 1029.3,620.9 1029.7,622.3 1030.3,624.4 1030.7,623.7 1031.3,624.8 1031.7,627.5 1032.3,628.4 1032.7,627.7 1033.3,628.9 1033.7,631 1034.3,632.4 1034.7,631.9 1035.3,633.5 1035.7,634.4 1036.3,636.6 1036.7,635.5 1037.3,636.6 1037.7,638 1038.3,640.3 1038.7,639.5 1039.3,640.3 1039.7,642.1 1040.3,643 1040.7,642.2 1041.3,643.6 1041.7,645.7 1042.3,646.2 1042.7,645.5 1043.3,647.5 1043.7,648.4 1044.5,649.8 1045.3,651.1 1045.7,651.7 1046.5,652.1 1047.3,653.5 1047.7,655.4 1048.3,656.5 1048.7,656.1 1049.3,657.2 1049.7,658.8 1050.3,659.8 1050.7,658.6 1051.3,659.8 1051.7,661.9 1052.3,662.1 1052.7,661.6 1053.3,663.1 1053.7,664.2 1054.3,665.1 1054.7,664.4 1055.3,666.9 1055.7,667.3 1056.5,668.2 1057.3,668.6 1057.7,669.8 1058.3,671.7 1058.7,669.7 1059.3,670.9 1059.7,672.5 1060.3,673.8 1060.7,672.6 1061.3,674.3 1061.7,675.5 1062.3,676.4 1062.7,676 1063.3,677.2 1063.7,677.8 1064.3,679.7 1064.7,679 1065.3,679.1 1065.7,680.6 1066.3,682 1066.7,681.2 1067.3,682 1067.7,683.3 1068.3,683.5 1068.7,682.9 1069.3,684.3 1069.7,685.2 1070.5,685.9 1071.3,686.1 1071.7,687.2 1072.3,687.5 1072.7,687 1073.3,689.3 1073.7,691.6 1074.3,691.3 1074.7,690.4 1075.3,691.1 1075.7,692.5 1076.3,692.6 1076.7,691.8 1077.3,693.5 1077.7,694.2 1078.5,695.1 1079.3,695.3 1079.7,697.1 1080.3,696.7 1080.7,694.9 1081.3,695.5 1081.7,699.6 1082.3,700.4 1082.7,698 1083.3,698.7 1083.7,700.5 1084.3,702.2 1084.7,700.4 1085.3,702 1085.7,705.4 1086.5,702 1087.5,704.8 1088.3,704.9 1088.7,703.6 1089.3,704.6 1089.7,707.5 1090.5,705.7 1091.3,705.5 1091.7,707.6 1092.3,709.8 1092.7,708.5 1093.3,707.3 1093.7,710.7 1094.3,710.9 1094.7,709.5 1095.3,709.8 1095.7,712.1 1096.3,711.9 1096.7,710.7 1097.3,710.9 1097.7,714.1 1098.3,712.6 1098.7,711.5 1099.3,713.8 1099.7,714.7 1100.3,715.3 1100.7,714.8 1101.3,714.9 1101.7,716.7 1102.3,716.9 1102.7,716 1103.3,714.1 1103.7,716.3 1104.3,718.8 1104.7,718.1 1105.3,718.5 1105.7,720.3 1106.3,720.5 1106.7,717.9 1107.3,717.2 1107.7,719.6 1108.3,721.3 1108.7,718.8 1109.3,720 1109.7,721.1 1110.3,719.2 1110.7,718.9 1111.3,718 1111.7,722.1 1112.3,724.1 1112.7,720.6 1113.3,724.3 1113.7,725.6 1114.3,725.7 1114.7,723 1115.3,722.6 1115.7,725.3 1116.5,724.7 1117.3,723.3 1117.7,726 1118.3,727.5 1118.7,722.2 1119.3,724.3 1119.7,729.6 1120.3,724.9 1120.7,724.5 1121.3,723.2 1121.7,727.9 1122.5,726.5 1123.3,724.5 1123.7,731 1124.3,729.1 1124.7,727.7 1125.3,726.1 1125.7,729.9 1126.3,729.1 1126.7,728.5 1127.3,728.1 1127.7,730 1128.3,728.4 1128.7,727.6 1129.3,727.7 1129.7,731.7 1130.5,729.6 1131.3,729.2 1131.7,733.1 1132.3,731 1132.7,729.8 1133.3,728.5 1133.7,732.9 1134.3,733.8 1134.7,730.5 1135.3,731.6 1135.7,732.7 1136.5,730.4 1137.3,732 1137.7,735.8 1138.3,733.5 1138.7,732.5 1139.3,732.2 1139.7,736.1 1140.3,734.1 1140.7,733.5 1141.3,732.2 1141.7,735.3 1142.3,734.1 1142.7,732.1 1143.3,731.9 1143.7,737.8 1144.3,736.2 1144.7,733.9 1145.3,735.4 1145.7,736.5 1146.3,735.4 1146.7,733.5 1147.3,733.4 1147.7,735.6 1148.3,738.3 1148.7,734.9 1149.3,735.3 1149.7,738.4 1150.3,738.1 1150.7,733.8 1151.3,736 1151.7,737.5 1152.3,742 1152.7,737.2 1153.3,737.4 1153.7,740.1 1154.3,741 1154.7,736.4 1155.3,738.5 1155.7,744.4 1156.5,740.5 1157.3,738.8 1157.7,741.4 1158.5,737.7 1159.3,739.3 1159.7,741.4 1160.5,741.1 1161.3,740.4 1161.7,744.4 1162.3,745 1162.7,740.8 1163.3,739.3 1163.7,741.9 1164.3,741.9 1164.7,739.4 1165.3,741.4 1165.7,744.1 1166.3,744.1 1166.7,742.5 1167.3,740.3 1167.7,745.3 1168.3,747.9 1168.7,739.4 1169.3,743.5 1169.7,745.5 1170.3,742.7 1170.7,742.1 1171.3,741.1 1171.7,744.8 1172.3,745.4 1172.7,744.4 1173.3,744.7 1173.7,748.7 1174.5,746 1175.3,745.3 1175.7,749.2 1176.3,747.1 1176.7,745 1177.3,745 1177.7,746 1178.3,751.2 1178.7,748.3 1179.3,743.3 1179.7,751.8 1180.5,747.8 1181.3,747.1 1181.7,750.3 1182.3,749.3 1182.7,745.7 1183.3,746.6 1183.7,751.5 1184.3,751.7 1184.7,750 1185.3,747.9 1185.7,753.4 1186.5,748.5 1187.3,749 1187.7,752.1 1188.3,753 1188.7,751.7 1189.3,749.9 1189.7,753 1190.3,750.1 1190.7,748.9 1191.3,751 1191.7,755.8 1192.5,752 1193.3,750.3 1193.7,753.9 1194.3,754.6 1194.7,746.9 1195.3,748.6 1195.7,754 1196.3,754.9 1196.7,751.1 1197.3,754.1 1197.7,755.3 1198.3,756.9 1198.7,751.6 1199.3,752.7 1199.7,753.8 1200.3,756.8 1200.7,756.4 1201.3,754.5 1201.7,759.1 1202.3,758.1 1202.7,752.1 1203.3,751.9 1203.7,753.8 1204.3,754.6 1204.7,753.8 1205.3,753.3 1205.7,754.9 1206.3,756.9 1206.7,755.9 1207.3,753.6 1207.7,755.3 1208.3,753.3 1208.7,752.8 1209.3,754.9 1209.7,758.3 1210.3,760.1 1210.7,755.5 1211.3,756.2 1211.7,757.6 1212.3,760.4 1212.7,756.4 1213.3,752.4 1213.7,758.7 1214.3,754.3 1214.7,751.9 1215.3,754.4 1215.7,760.2 1216.3,758.6 1216.7,756 1217.3,757.8 1217.7,760.9 1218.3,757.2 1218.7,754.2 1219.3,758 1219.7,760.6 1220.3,757.2 1220.7,755 1221.3,754.7 1221.7,758.8 1222.3,762.8 1222.7,758.9 1223.3,756 1223.7,761.1 1224.3,759.9 1224.7,758.2 1225.3,758.1 1225.7,763.3 1226.3,760 1226.7,759.6 1227.3,756.8 1227.7,766.2 1228.5,760.8 1229.3,760.1 1229.7,761.7 1230.3,762.7 1230.7,759.6 1231.3,761.5 1231.7,767 1232.3,764.7 1232.7,760 1233.3,761.8 1233.7,769.7 1234.3,766.3 1234.7,762.3 1235.3,761.1 1235.7,767.6 1236.3,764.2 1236.7,758.6 1237.3,762.7 1237.7,765.3 1238.5,765.1 1239.3,762.8 1239.7,773 1240.3,767.9 1240.7,766.9 1241.3,764.8 1241.7,768.9 1242.3,773 1242.7,767.8 1243.3,765.3 1243.7,766.8 1244.3,766.7 1244.7,762.6 1245.3,768 1245.7,771.9 1246.5,769.2 1247.3,764.5 1247.7,769.1 1248.3,775.7 1248.7,771.3 1249.3,764.2 1249.7,775.4 1250.3,773.5 1250.7,769.9 1251.3,768.7 1251.7,773.5 1252.3,773 1252.7,764.6 1253.3,770.6 1253.7,771.1 1254.3,777.1 1254.7,773.1 1255.3,772.6 1255.7,775.5 1256.3,779 1256.7,770.4 1257.3,767.6 1257.7,772.5 1258.3,774.3 1258.7,773.6 1259.3,772.3 1259.7,780.6 1260.3,771.4 1260.7,768.9 1261.3,770.5 1261.7,779.6 1262.3,773.9 1262.7,770.4 1263.3,771.3 1263.7,777.8 1264.3,776.4 1264.7,772.2 1265.3,773.8 1265.7,777.8 1266.3,778.8 1266.7,774.2 1267.3,775.2 1267.7,782.1 1268.3,780.6 1268.7,776 1269.3,768.3 1269.7,778.3 1270.3,779 1270.7,777.6 1271.3,776.7 1271.7,783.4 1272.3,783.9 1272.7,783.3 1273.3,775 1273.7,779.2 1274.3,782.9 1274.7,773 1275.3,775.6 1275.7,782.9 1276.3,780.7 1276.7,774.2 1277.3,772 1277.7,777.2 1278.3,778.2 1278.7,775.7 1279.3,777.1 1279.7,783 1280.3,779.7 1280.7,775.6 1281.3,776.6 1281.7,778.9 1282.3,784.8 1282.7,781.5 1283.3,774.3 1283.7,788.6 1284.3,781.3 1284.7,778.5 1285.3,782.8 1285.7,786.2 1286.3,782.2 1286.7,781.1 1287.3,776 1287.7,786.6 1288.3,781.5 1288.7,777.5 1289.3,779.7 1289.7,785.3 1290.3,784.6 1290.7,781.1 1291.3,778.4 1291.7,791.9 1292.3,783.8 1292.7,781.3 1293.3,781.4 1293.7,786.7 1294.3,784.2 1294.7,782.3 1295.3,782.7 1295.7,789.8 1296.3,784.9 1296.7,783.6 1297.3,783.5 1297.7,789.6 1298.3,790.7 1298.7,783.8 1299.3,783.1 1299.7,789.6 1300.3,787.8 1300.7,778.4 1301.3,783.9 1301.7,790.6 1302.3,784.8 1302.7,783.9 1303.3,785.1 1303.7,789.5 1304.3,786.6 1304.7,784.6 1305.3,780.1 1305.7,791.7 1306.3,793.2 1306.7,783.5 1307.3,786.7 1307.7,789.1 1308.3,795.7 1308.7,787.9 1309.3,785.5 1309.7,789.1 1310.3,785.7 1310.7,785.1 1311.3,786 1311.7,795.6 1312.3,790.4 1312.7,784.2 1313.3,779.4 1313.7,791.2 1314.3,791.1 1314.7,790.1 1315.3,786.5 1315.7,789.7 1316.3,788 1316.7,784 1317.3,785.8 1317.7,792.2 1318.3,799.9 1318.7,799.4 1319.3,788.1 1319.7,801.8 1320.3,792.8 1320.7,786.6 1321.3,787.9 1321.7,792.8 1322.3,797.5 1322.7,788.5 1323.3,785.9 1323.7,795.6 1324.3,796 1324.7,788.8 1325.3,785.7 1325.7,795.4 1326.3,794.3 1326.7,785.3 1327.3,789.6 1327.7,793 1328.3,789.4 1328.7,788.3 1329.3,782.3 1329.7,795.9 1330.3,796.7 1330.7,786.3 1331.3,785 1331.7,797.5 1332.3,799.6 1332.7,791.8 1333.3,789.9 1333.7,796.1 1334.3,794.2 1334.7,790.4 1335.3,787.4 1335.7,799.4 1336.3,792.8 1336.7,790.6 1337.3,791.6 1337.7,799.6 1338.3,793.4 1338.7,790.4 1339.3,787.5 1339.7,791.9 1340.3,796.9 1340.7,788.1 1341.3,792.1 1341.7,797.5 1342.3,791.6 1342.7,790.4 1343.3,788.3 1343.7,802.7 1344.3,798.5 1344.7,793.8 1345.1,787.2" fill="none" stroke="#000" stroke-width="7.0" stroke-linejoin="round" stroke-linecap="butt" clip-path="url(#clipA)"/>
<polyline points="65.1,1037.6 94.7,1037.5 108.1,1037 112.1,1036.7 115.1,1036.1 117.3,1035.3 119.1,1034.1 120.5,1032.4 121.7,1029.9 122.7,1026.3 123.5,1021.6 124.5,1011.6 125.9,986.5 126.3,983 126.7,986.5 128.3,1014.1 128.9,1020.1 129.7,1025.3 130.9,1029.9 132.3,1032.7 134.1,1034.5 136.7,1035.8 139.3,1036.5 142.9,1036.9 154.7,1037.4 182.3,1037.6 233.7,1037.5 256.1,1037.3 269.1,1037 277.3,1036.4 280.3,1035.9 282.7,1035.3 284.7,1034.5 286.3,1033.5 287.7,1032.3 288.9,1030.9 289.9,1029.1 290.9,1026.7 292.3,1021.4 293.3,1015.2 294.3,1005.6 295.1,993.8 296.3,969.2 296.7,965.5 297.1,969.2 298.9,1003 299.9,1013.6 300.9,1020.4 302.3,1026.1 303.1,1028.3 304.1,1030.2 305.1,1031.7 306.3,1032.9 307.7,1033.9 309.5,1034.8 311.7,1035.5 314.3,1036.1 321.5,1036.8 333.3,1037.2 351.5,1037.3 365.7,1037.1 374.1,1036.7 379.1,1036 380.9,1035.4 382.5,1034.6 384.3,1033.1 385.7,1030.8 386.9,1027.3 387.7,1023.3 388.9,1012.5 390.5,984.6 390.7,982.7 390.9,982.7 392.5,1009.8 393.1,1017 393.9,1023.3 394.7,1027.3 395.9,1030.8 397.3,1033.1 398.9,1034.5 401.5,1035.7 405.3,1036.4 410.7,1036.9 419.1,1037.1 437.1,1037.1 453.1,1036.8 462.9,1036.3 469.7,1035.4 472.7,1034.7 475.1,1033.7 477.1,1032.6 478.9,1031 480.5,1028.9 481.7,1026.7 482.7,1024.1 483.7,1020.5 485.3,1011.6 486.5,1000.1 487.5,985 488.7,959.8 489.1,956 489.5,959.8 491.3,994.8 492.1,1004.5 493.1,1013 494.3,1019.6 495.7,1024.6 497.5,1028.5 498.5,1029.9 499.7,1031.2 501.3,1032.5 503.3,1033.5 505.5,1034.3 508.3,1034.9 511.7,1035.3 515.9,1035.5 525.1,1035.4 531.7,1034.6 534.3,1034 536.5,1033.3 538.5,1032.3 540.1,1031.2 541.5,1029.9 542.7,1028.4 544.5,1024.9 545.9,1020.7 547.1,1015.1 548.1,1008.1 549.5,992.3 551.5,955.3 551.7,955.3 551.9,957.2 553.3,985.8 554.3,1000.2 555.5,1011 556.9,1018.7 557.9,1022.2 558.9,1024.7 560.1,1026.8 561.7,1028.6 563.5,1029.8 565.5,1030.5 567.7,1030.7 570.1,1030.4 572.9,1029.5 575.3,1028.1 577.5,1026.2 579.5,1023.7 581.3,1020.6 582.9,1016.9 584.3,1012.5 585.5,1007.6 586.7,1001.3 587.7,994.5 589.3,979 590.5,960.9 591.9,930.8 592.3,927 592.7,930.8 594.5,967.8 595.9,985.7 596.9,994.5 598.1,1002.6 599.3,1008.6 600.7,1014 602.3,1018.6 604.3,1022.8 606.5,1026 608.9,1028.5 611.9,1030.7 615.3,1032.3 619.5,1033.5 623.9,1034.3 627.1,1034.4 629.3,1034 630.7,1033.1 631.7,1031.4 632.3,1029.5 632.9,1026.2 634.1,1012.6 634.5,1010 634.9,1012.6 635.9,1024.7 636.5,1028.8 637.1,1031.2 637.9,1033 639.1,1034.4 640.5,1035.2 642.7,1035.8 646.7,1036.3 653.1,1036.6 676.5,1037.1 716.7,1037.3 724.3,1037.1 728.1,1036.7 729.7,1036.3 730.7,1035.7 731.7,1034.4 732.3,1033 733.1,1029.2 734.1,1019.3 734.5,1017 734.9,1019.3 735.7,1027.7 736.3,1031.5 737.3,1034.4 738.1,1035.5 739.1,1036.2 740.7,1036.7 743.1,1037 752.5,1037.2 766.7,1037 770.9,1036.7 773.7,1036.2 776.1,1035.4 777.9,1033.9 779.1,1032 780.1,1028.9 780.7,1025.8 781.3,1021 782.9,996.9 783.1,995.2 783.3,995.2 784.7,1016.5 785.3,1022.8 786.3,1028.9 786.9,1030.9 787.7,1032.7 788.7,1034.1 789.9,1035 791.3,1035.7 793.3,1036.2 796.3,1036.5 800.1,1036.5 803.7,1036.3 806.7,1035.9 809.3,1035 810.3,1034.3 811.3,1033.4 812.7,1031.1 813.9,1027.3 814.7,1022.6 815.3,1017.1 816.9,991 817.1,989.2 817.3,989.2 819.3,1019.1 820.5,1027.2 821.1,1029.4 821.9,1031.4 822.9,1033 824.1,1034.2 825.7,1035 827.5,1035.5 830.3,1035.9 833.5,1035.9 836.7,1035.5 839.5,1034.9 841.3,1034.3 842.9,1033.3 844.1,1032.4 845.3,1030.9 846.3,1029.3 847.3,1026.9 848.7,1021.6 849.7,1015.4 850.7,1005.5 852.9,967.3 853.1,967.3 853.3,969.2 854.7,996.8 855.9,1012 856.7,1018.2 857.5,1022.6 858.5,1026.3 859.5,1028.8 860.5,1030.6 861.7,1032.1 863.1,1033.2 864.5,1034 866.3,1034.5 867.9,1034.6 869.3,1034.2 870.3,1033.3 871.3,1031.5 872.1,1028.1 872.7,1023.2 873.5,1013.1 873.9,1010.5 874.3,1013.2 875.5,1027 876.1,1030.4 876.9,1032.9 878.1,1034.7 879.7,1035.8 882.1,1036.4 885.7,1036.9 894.7,1037.2 910.9,1037.4 984.3,1037.5 1016.5,1037.3 1023.7,1037 1028.1,1036.5 1030.3,1035.9 1031.7,1035.2 1032.9,1033.8 1033.7,1032 1034.3,1029.5 1034.9,1025.4 1035.9,1013.2 1036.3,1010.5 1036.7,1013.1 1037.9,1026.8 1038.5,1030.1 1039.5,1032.7 1040.5,1033.6 1041.5,1033.7 1042.3,1033.1 1043.1,1031.7 1043.9,1028.4 1044.9,1019.2 1045.3,1017 1045.7,1019.2 1046.7,1028.3 1047.5,1031.6 1048.3,1033 1049.3,1033.7 1050.5,1033.9 1052.1,1033.5 1053.5,1032.8 1054.7,1031.8 1055.9,1030.3 1056.9,1028.6 1058.5,1024.1 1059.7,1018.3 1060.7,1010.6 1061.5,1001.2 1063.5,965.3 1063.7,965.3 1063.9,967.2 1065.1,991.5 1066.1,1006.3 1067.3,1017 1068.7,1024.2 1069.7,1027.3 1070.7,1029.5 1071.9,1031.4 1073.3,1032.9 1074.9,1034 1076.9,1034.9 1079.3,1035.6 1082.5,1036.2 1089.7,1036.9 1100.9,1037.2 1114.1,1037.3 1117.3,1037.1 1119.3,1036.8 1120.9,1036.1 1121.9,1034.8 1122.7,1032.1 1123.5,1026.9 1123.7,1026.1 1123.9,1026.1 1124.9,1032.1 1125.5,1034.3 1126.5,1036 1127.9,1036.7 1129.7,1037.1 1132.7,1037.3 1145.5,1037.3 1153.9,1037 1158.1,1036.4 1159.5,1035.7 1160.7,1034.7 1161.5,1033.3 1162.1,1031.6 1163.1,1025.6 1164.1,1013.2 1164.5,1010.5 1164.9,1013.2 1165.7,1023.6 1166.3,1028.6 1167.1,1032.2 1167.7,1033.7 1168.3,1034.6 1169.1,1035.4 1170.3,1036 1173.5,1036.6 1180.1,1036.6 1182.9,1036.4 1185.1,1035.9 1186.9,1035.2 1188.3,1034 1189.3,1032.4 1190.1,1030.1 1191.1,1023.9 1192.3,1007.9 1192.7,1005 1193.1,1007.9 1194.3,1023.7 1194.9,1027.9 1195.7,1031 1196.7,1032.8 1197.5,1033.6 1198.3,1034 1199.3,1034.2 1200.5,1034.1 1201.9,1033.8 1203.1,1033.3 1204.3,1032.5 1205.5,1031.4 1206.5,1030.1 1207.5,1028.2 1209.1,1023.6 1210.3,1017.7 1211.3,1009.8 1212.1,1000.4 1214.1,964.3 1214.3,964.3 1214.5,966.2 1215.7,990.6 1216.5,1003.1 1217.5,1013.4 1218.7,1021.1 1220.3,1026.9 1221.3,1029.2 1222.3,1030.8 1223.5,1032.3 1224.9,1033.4 1226.7,1034.5 1228.7,1035.2 1232.7,1036.1 1238.3,1036.7 1246.3,1037.1 1257.7,1037.3 1273.1,1037.4 1282.7,1037.2 1287.9,1036.7 1290.9,1035.9 1292.3,1035 1293.5,1033.4 1294.3,1031.6 1295.1,1028.3 1295.9,1022.1 1297.1,1004.6 1297.5,1001.5 1297.9,1004.6 1298.9,1019.9 1299.7,1027.1 1300.3,1030.2 1300.9,1032.1 1301.7,1033.8 1302.7,1035 1304.1,1035.9 1305.9,1036.5 1308.5,1036.9 1312.1,1037.2 1328.1,1037.3 1332.9,1037 1336.1,1036.5 1338.1,1035.7 1339.5,1034.5 1340.5,1032.8 1341.3,1030.3 1341.9,1027.2 1342.5,1022 1343.7,1004.8 1343.9,1003.2 1344.1,1003.2 1344.3,1004.8" fill="none" stroke="#333" stroke-width="5.2" stroke-linejoin="round" stroke-linecap="butt" clip-path="url(#clipMn)"/>
<polyline points="65.1,1216.3 515.3,1216.3 515.5,1212.1 522.5,1210.7 528.5,1208.7 533.5,1206.3 537.7,1203.3 540.7,1200.3 543.3,1196.9 545.7,1192.8 547.7,1188.5 549.9,1182.3 551.7,1175.7 553.3,1168.2 554.7,1159.7 556.7,1142.5 559.1,1110.7 559.5,1107.5 559.7,1107 559.9,1107.5 560.3,1110.7 562.7,1142.5 564.7,1159.7 566.1,1168.2 567.7,1175.7 569.5,1182.3 571.7,1188.5 573.7,1192.8 576.1,1196.9 578.7,1200.3 581.7,1203.3 585.9,1206.3 590.9,1208.7 596.9,1210.7 603.9,1212.1 604.1,1216.3 779.7,1216.2 845.3,1215.9 863.3,1215.6 875.5,1215.1 884.3,1214.4 890.7,1213.3 893.7,1212.4 896.3,1211.2 898.5,1209.9 900.5,1208.1 902.3,1206 903.7,1203.6 904.9,1201 906.1,1197.7 908.1,1189.4 909.7,1178.8 911.1,1164.7 912.7,1143.2 913.1,1139.9 913.3,1139.5 913.5,1139.9 913.9,1143.2 915.5,1164.7 916.9,1178.8 918.5,1189.4 920.3,1197 921.5,1200.5 922.7,1203.3 924.1,1205.7 925.7,1207.7 927.5,1209.4 929.5,1210.8 931.9,1212 934.7,1212.9 938.5,1213.8 943.1,1214.5 955.7,1215.3 975.9,1215.8 1009.9,1216 1084.1,1216 1131.3,1215.7 1156.5,1215 1165.1,1214.4 1171.9,1213.6 1176.9,1212.7 1180.9,1211.5 1184.3,1210.1 1187.3,1208.4 1189.9,1206.2 1192.1,1203.6 1194.1,1200.3 1195.9,1196.4 1197.3,1192.3 1198.7,1187.1 1199.9,1181.2 1201.1,1173.7 1202.7,1159.5 1204.9,1130.4 1205.3,1127.2 1205.5,1126.7 1205.7,1127.2 1206.1,1130.4 1207.9,1154.9 1209.1,1167.3 1210.5,1177.7 1212.3,1187.1 1214.5,1194.8 1215.9,1198.3 1217.3,1201.1 1218.9,1203.6 1220.5,1205.5 1222.3,1207.3 1224.5,1208.9 1226.7,1210.2 1229.1,1211.2 1234.7,1212.8 1242.1,1214 1251.9,1214.8 1264.7,1215.4 1282.3,1215.7 1344.3,1216.1" fill="none" stroke="#555" stroke-width="5.2" stroke-linejoin="round" stroke-linecap="butt" clip-path="url(#clipW)"/>
<polyline points="1447.5,245.7 1447.9,256.4 1448.3,305 1448.7,239 1449.3,236.4 1449.7,305 1450.3,254.2 1450.7,238.3 1451.3,238.4 1451.7,249.5 1452.3,258.4 1452.7,239.1 1453.3,239.5 1453.7,258.4 1454.3,252.1 1454.7,237.8 1455.3,237 1455.7,252.3 1456.3,286.2 1456.7,240.7 1457.5,286.2 1458.3,269.1 1458.7,238.5 1459.3,240.9 1459.7,259.7 1460.3,263.5 1460.7,234 1461.3,256.8 1461.7,276.7 1462.5,276.7 1463.3,243 1463.7,276.7 1464.3,301.4 1464.7,243.9 1465.3,239.8 1465.7,286.3 1466.3,248.6 1466.7,239.7 1467.3,240.6 1467.7,305 1468.5,305 1469.3,239.3 1469.7,254.1 1470.3,258 1470.7,236.5 1471.3,240.1 1471.7,268 1472.3,268 1472.7,233.1 1473.3,239.9 1473.7,260.6 1474.3,257.7 1474.7,241.4 1475.3,242.9 1475.7,261.2 1476.3,256.3 1476.7,240.5 1477.3,235.7 1477.7,250.7 1478.3,304.4 1478.7,239.8 1479.3,240.7 1479.7,304.4 1480.3,249.1 1480.7,239.1 1481.3,238.4 1481.7,256.2 1482.3,305 1482.7,240.1 1483.3,240.6 1483.7,305 1484.5,286.8 1485.5,286.8 1486.3,305 1486.7,232.2 1487.3,235.8 1487.7,305 1488.3,248.9 1488.7,230.6 1489.3,234.2 1489.7,254.3 1490.3,251.6 1490.7,229 1491.3,230.4 1491.7,250.5 1492.3,247.8 1492.7,226.2 1493.3,230.3 1493.7,240.5 1494.3,236.9 1494.7,226 1495.3,225.1 1495.7,238.4 1496.3,235.9 1496.7,222.3 1497.3,218.1 1497.7,229.2 1498.3,231.3 1498.7,219.4 1499.3,215.8 1499.7,235.6 1500.3,226.3 1500.7,219.2 1501.3,213.4 1501.7,227.1 1502.3,223.1 1502.7,215.2 1503.3,214.5 1503.7,231.4 1504.3,223.5 1504.7,216.1 1505.3,217.8 1505.7,230 1506.3,237.2 1506.7,216.6 1507.3,220.3 1507.7,231.1 1508.3,227.4 1508.7,224.8 1509.3,220 1509.7,234.3 1510.3,233.1 1510.7,225.5 1511.3,225.9 1511.7,245.8 1512.3,238.6 1512.7,231.8 1513.3,232.1 1513.7,275.5 1514.5,275.5 1515.3,229 1515.7,242.7 1516.3,268.5 1516.7,241.9 1517.3,233.8 1517.7,251.4 1518.3,254.8 1518.7,236.3 1519.3,229.2 1519.7,243.5 1520.3,254.6 1520.7,231 1521.3,235.2 1521.7,251.1 1522.3,272.3 1522.7,229.6 1523.3,242.1 1523.7,272.3 1524.3,305 1524.7,242.6 1525.3,249.7 1525.7,305 1526.3,300.6 1526.7,246 1527.3,235 1527.7,255.3 1528.3,263.6 1528.7,238.9 1529.3,237.2 1529.7,263.8 1530.3,256.1 1530.7,241.3 1531.3,238.4 1531.7,264.9 1532.5,305 1533.3,243.4 1533.7,305 1534.3,261.5 1534.7,230.7 1535.3,241.4 1535.7,305 1536.5,305 1537.3,241.8 1537.7,260.3 1538.3,252.2 1538.7,235.7 1539.3,243.5 1539.7,280.9 1540.3,267.8 1540.7,247.4 1541.5,305 1542.3,305 1542.7,248.5 1543.3,241.3 1543.7,249 1544.3,286.9 1544.7,250.7 1545.3,247.5 1545.7,296.3 1546.3,296.3 1546.7,246.5 1547.3,244.7 1547.7,265.9 1548.3,260.7 1548.7,241.9 1549.3,246 1549.7,274.6 1550.3,262.4 1550.7,239.3 1551.3,237.8 1551.7,254.8 1552.3,279.9 1552.7,244.2 1553.3,237.8 1553.7,279.9 1554.3,298.1 1554.7,246.7 1555.3,284 1555.7,298.1 1556.3,284 1556.7,240.2 1557.3,240.9 1557.7,272 1558.3,255.4 1558.7,238.5 1559.3,244.6 1559.7,305 1560.5,305 1561.3,232.8 1561.7,305 1562.3,255 1562.7,238.7 1563.3,233.9 1563.7,263.6 1564.3,252.3 1564.7,240.7 1565.3,239.6 1565.7,253.9 1566.3,261.8 1566.7,237.2 1567.3,232.4 1567.7,243.4 1568.3,305 1568.7,238.3 1569.3,301 1569.7,305 1570.3,301 1570.7,264 1571.3,234.7 1571.7,249.2 1572.3,252.1 1572.7,229.7 1573.3,236.7 1573.7,252.9 1574.3,242.3 1574.7,233.8 1575.3,233.9 1575.7,243.4 1576.3,245.4 1576.7,234.4 1577.3,234.5 1577.7,251 1578.3,247.4 1578.7,232.4 1579.3,229.5 1579.7,248.2 1580.3,234.6 1580.7,230.9 1581.3,227.8 1581.7,240.9 1582.3,246.9 1582.7,228.1 1583.3,230.3 1583.7,244.2 1584.3,239.1 1584.7,227.6 1585.3,228.5 1585.7,238.2 1586.3,232.8 1586.7,224.5 1587.3,221.7 1587.7,249.9 1588.3,244.2 1588.7,223.8 1589.3,222.8 1589.7,231.3 1590.3,234.3 1590.7,215.8 1591.3,217.4 1591.7,224.9 1592.3,232.1 1592.7,215.6 1593.3,211.9 1593.7,224.9 1594.3,219.1 1594.7,212.3 1595.3,207 1595.7,215.8 1596.3,222.8 1596.7,207.2 1597.3,198.5 1597.7,211.5 1598.3,205.8 1598.7,197.5 1599.3,194 1599.7,200.3 1600.3,203.6 1600.7,189.5 1601.3,182.8 1601.7,191.6 1602.3,184 1602.7,179.4 1603.3,166.8 1603.7,178.2 1604.3,167.2 1604.7,159 1605.3,148.4 1605.7,156.5 1606.3,147.6 1606.7,136.9 1607.3,135 1607.7,137.8 1608.3,145.4 1608.7,137.7 1609.3,145.6 1609.7,156.4 1610.3,168.2 1610.7,160 1611.3,167.5 1611.7,175.8 1612.3,186.1 1612.7,179.1 1613.3,183.9 1613.7,190.9 1614.3,196.2 1614.7,189.2 1615.3,194.5 1615.7,205.2 1616.3,207.6 1616.7,196 1617.3,202.2 1617.7,210.6 1618.3,216.7 1618.7,207.8 1619.3,209.4 1619.7,221.7 1620.3,230.9 1620.7,211 1621.3,214.4 1621.7,224.5 1622.3,226.3 1622.7,217.1 1623.3,218.7 1623.7,246.1 1624.3,226.8 1624.7,219.5 1625.3,220.2 1625.7,239.6 1626.3,238.5 1626.7,222.7 1627.3,222.2 1627.7,232 1628.3,240.8 1628.7,223.7 1629.3,228.4 1629.7,238.8 1630.3,239.8 1630.7,225.2 1631.3,230.5 1631.7,252.6 1632.3,246.9 1632.7,229.8 1633.3,230.3 1633.7,245 1634.3,251.3 1634.7,229.7 1635.3,232.1 1635.7,254 1636.3,251 1636.7,230.6 1637.3,230.3 1637.7,249.2 1638.3,262 1638.7,237.8 1639.3,233 1639.7,245.3 1640.3,267.2 1640.7,236.8 1641.3,232.9 1641.7,256 1642.3,247.8 1642.7,235.2 1643.3,239.3 1643.7,256.6 1644.3,254.3 1644.7,240.1 1645.3,238.1 1645.7,251 1646.3,252.5 1646.7,237.7 1647.3,233.8 1647.7,268.3 1648.3,270.2 1648.7,237.3 1649.3,239.9 1649.7,270.2 1650.3,254.1 1650.7,236.8 1651.3,234.6 1651.7,247 1652.3,262.2 1652.7,241.9 1653.3,231.7 1653.7,255.9 1654.3,264.3 1654.7,239.7 1655.3,239.2 1655.7,258.2 1656.3,252.4 1656.7,241.4 1657.3,234.7 1657.7,270.3 1658.3,264.3 1658.7,239.8 1659.3,246.7 1659.7,260.2 1660.3,254.3 1660.7,238.1 1661.3,236.5 1661.7,263.8 1662.3,283.5 1662.7,241.4 1663.3,247.5 1663.7,283.5 1664.3,289.4 1664.7,242.2 1665.3,289.4 1665.7,305 1666.5,305 1667.3,241.2 1667.7,305 1668.3,276 1668.7,241.5 1669.3,242.7 1669.7,271 1670.3,272.4 1670.7,244.2 1671.5,303 1672.3,303 1672.7,300.7 1673.3,242.3 1673.7,300.7 1674.3,261.6 1674.7,248.5 1675.3,241.5 1675.7,256.6 1676.3,304.9 1676.7,241.5 1677.3,242.8 1677.7,304.9 1678.3,261.1 1678.7,243.6 1679.3,241.5 1679.7,254.7 1680.3,261.9 1680.7,247.2 1681.3,245.1 1681.7,258.6 1682.3,288.6 1682.7,242.9 1683.3,249.2 1683.7,288.6 1684.3,296.1 1684.7,244.5 1685.5,296.1 1686.3,296.1 1686.7,243.2 1687.3,242.3 1687.7,259 1688.3,256.2 1688.7,243.2 1689.3,241.8 1689.7,280 1690.3,280 1690.7,240.6 1691.3,237.4 1691.7,264.5 1692.3,305 1692.7,239.7 1693.5,305 1694.3,305 1694.7,239.5 1695.3,231.8 1695.7,260.2 1696.3,253.9 1696.7,240.7 1697.3,235.4 1697.7,257.4 1698.3,263.9 1698.7,241.4 1699.3,245.3 1699.7,260.4 1700.3,305 1700.7,243.3 1701.5,305 1702.3,305 1702.7,233.8 1703.3,236.5 1703.7,264.2 1704.3,250.3 1704.7,236 1705.3,228.9 1705.7,253.5 1706.3,242 1706.7,228.7 1707.3,226.2 1707.7,240.7 1708.3,231 1708.7,223.4 1709.3,222.4 1709.7,246.6 1710.3,231.7 1710.7,223.8 1711.3,218.3 1711.7,235.4 1712.3,234.4 1712.7,222.8 1713.3,223.6 1713.7,235.8 1714.3,242.6 1714.7,225.8 1715.3,230.8 1715.7,244 1716.3,254.1 1716.7,225.7 1717.3,230.2 1717.7,251.1 1718.3,256.4 1718.7,236.7 1719.3,241 1719.7,255.7 1720.3,253.5 1720.7,240.1 1721.3,238.4 1721.7,243.7 1722.3,266 1722.7,249.4 1723.3,243.4 1723.7,300.5 1724.5,300.5 1725.3,240.8 1725.7,300.5 1726.3,268.3 1726.7,246.8 1727.3,241.5 1727.7,260.9 1728.3,251.4 1728.7,236.7 1729.3,241.1 1729.7,246.5 1730.3,271.7 1730.7,247.4 1731.3,242.5 1731.7,253.6 1732.3,262.2 1732.7,239.3 1733.3,241.9 1733.7,266.5 1734.3,254.7 1734.7,240.1 1735.3,241.9 1735.7,256.5 1736.3,259.4 1736.7,238.2 1737.3,241.2 1737.7,263.4 1738.3,255.7 1738.7,239.8 1739.3,238.1 1739.7,261 1740.3,255.9 1740.7,243.1 1741.3,238.3 1741.7,260.9 1742.3,250.2 1742.7,234.5 1743.3,242 1743.7,267 1744.3,262.9 1744.7,237.1 1745.3,243.4 1745.7,261.1 1746.5,289.5 1747.3,236.2 1747.7,289.5 1748.3,251.9 1748.7,242 1749.3,235.9 1749.7,260.8 1750.3,247.2 1750.7,238.4 1751.3,247.7 1751.7,256.2 1752.3,254.3 1752.7,233.8 1753.3,236.7 1753.7,257.4 1754.3,257 1754.7,240.9 1755.3,240.7 1755.7,257.2 1756.3,276.1 1756.7,236.1 1757.3,240.3 1757.7,261 1758.3,256.2 1758.7,235.5 1759.3,253.2 1759.7,297 1760.3,305 1760.7,297 1761.5,305 1762.3,286.2 1762.7,235.4 1763.3,233.8 1763.7,259.2 1764.3,245.2 1764.7,237 1765.3,237.5 1765.7,261.8 1766.3,266 1766.7,233.6 1767.3,238.4 1767.7,305 1768.5,305 1769.3,244.4 1769.7,305 1770.3,250.6 1770.7,240.7 1771.3,236.5 1771.7,302.7 1772.3,251.9 1772.7,236.9 1773.5,272.7 1774.3,272.7 1774.7,244 1775.3,239.2 1775.7,267.2 1776.3,250.9 1776.7,233.9 1777.3,234.1 1777.7,270 1778.3,247.8 1778.7,236.2 1779.3,234.1 1779.7,250.5 1780.3,261.7 1780.7,237.4 1781.3,237.2 1781.7,260.6 1782.3,262.1 1782.7,243.8 1783.3,237.6 1783.7,248.3 1784.3,258 1784.7,240.8 1785.3,239.9 1785.7,249.8 1786.3,246.2 1786.7,241.8 1787.3,236.2 1787.7,250.9 1788.3,249.9 1788.7,238.1 1789.3,237.6 1789.7,263.3 1790.3,250.3 1790.7,232.7 1791.3,242.2 1791.7,257.2 1792.3,261.6 1792.7,240 1793.3,240.4 1793.7,264.4 1794.3,246.5 1794.7,240.1 1795.3,237.2 1795.7,263 1796.3,249.9 1796.7,235.4 1797.3,237.2 1797.7,262.2 1798.3,272.7 1798.7,243 1799.3,238.6 1799.7,261.1 1800.3,256 1800.7,232.2 1801.3,236.3 1801.7,269.3 1802.3,251.2 1802.7,238.9 1803.3,243.7 1803.7,257 1804.3,255.7 1804.7,242 1805.3,235.2 1805.7,251 1806.3,251 1806.7,227.3 1807.3,234.9 1807.7,249 1808.3,234.2 1808.7,221 1809.3,225.4 1809.7,235.3 1810.3,230 1810.7,219.1 1811.3,217.2 1811.7,226.6 1812.3,225.3 1812.7,212 1813.3,212.5 1813.7,220.6 1814.3,221.5 1814.7,210.3 1815.3,209.6 1815.7,217.5 1816.3,217 1816.7,207.2 1817.3,204.6 1817.7,209.2 1818.3,218 1818.7,202.4 1819.3,204.7 1819.7,212.2 1820.3,215.1 1820.7,204.4 1821.3,204.2 1821.7,212.4 1822.3,215.2 1822.7,209 1823.3,208 1823.7,218.5 1824.3,225.8 1824.7,213.6 1825.3,215.5 1825.7,231.2 1826.3,228.8 1826.7,217.9 1827.3,218.8 1827.7,229.5 1828.3,233.3 1828.7,217.7 1829.3,223.5 1829.7,241.9 1830.3,250.9 1830.7,223.3 1831.3,231.1 1831.7,242.8 1832.3,247.1 1832.7,231.2 1833.3,233.1 1833.7,244.8 1834.3,275.6 1834.7,230.4 1835.3,237.6 1835.7,275.6 1836.3,246.1 1836.7,233.9 1837.3,233.2 1837.7,252.6 1838.3,260.7 1838.7,236.7 1839.3,236.4 1839.7,263.8 1840.3,253.5 1840.7,239.5 1841.3,249.4 1841.7,286.4 1842.3,261.4 1842.7,242.2 1843.3,234.8 1843.7,253.8 1844.3,241.6 1844.7,234.1 1845.3,235.8 1845.7,247.9 1846.3,253.1 1846.7,233.9 1847.3,240.1 1847.7,262.6 1848.3,265.7 1848.7,236.2 1849.5,270.7 1850.3,270.7 1850.7,267.7 1851.3,234.2 1851.7,270.1 1852.3,256.6 1852.7,241 1853.3,238.4 1853.7,267.8 1854.3,305 1854.7,236.2 1855.5,305 1856.3,305 1856.7,247.4 1857.3,232.4 1857.7,255.2 1858.3,255 1858.7,234.4 1859.3,239 1859.7,264.1 1860.3,258.6 1860.7,238.8 1861.3,241.4 1861.7,267.4 1862.3,255.7 1862.7,235.5 1863.3,241 1863.7,255.4 1864.3,261.1 1864.7,236.5 1865.3,245.3 1865.7,288.1 1866.5,288.1 1867.3,235.8 1867.7,288.1 1868.3,250.8 1868.7,242.6 1869.3,242.5 1869.7,264.5 1870.3,264.4 1870.7,241.5 1871.3,239.1 1871.7,298.8 1872.5,298.8 1873.3,236.5 1873.7,298.8 1874.3,250 1874.7,241.4 1875.3,237.4 1875.7,266.5 1876.3,244.6 1876.7,236 1877.3,243.1 1877.7,248.5 1878.3,247.6 1878.7,236.8 1879.3,239.9 1879.7,250.5 1880.3,260.5 1880.7,241 1881.3,237.1 1881.7,249.4 1882.3,254 1882.7,242.4 1883.3,229.2 1883.7,265 1884.3,304.5 1884.7,259.3 1885.5,304.5 1886.3,304.5 1886.7,238.1 1887.3,237.8 1887.7,255.2 1888.3,260.8 1888.7,238 1889.3,236 1889.7,249.3 1890.3,300.5 1890.7,247 1891.3,238.5 1891.7,300.5 1892.3,245.1 1892.7,234.4 1893.3,236.9 1893.7,253.4 1894.3,251.5 1894.7,238 1895.3,236.6 1895.7,249.4 1896.3,247 1896.7,237.1 1897.3,237 1897.7,247 1898.3,244.9 1898.7,238.1 1899.3,234 1899.7,247 1900.3,251.9 1900.7,230.3 1901.3,235.3 1901.7,250.4 1902.3,305 1902.7,235.3 1903.3,230.6 1903.7,250.5 1904.3,245.5 1904.7,231.8 1905.3,226.5 1905.7,241.2 1906.3,235.1 1906.7,226.5 1907.3,227 1907.7,236.3 1908.3,236.4 1908.7,224.2 1909.3,225.4 1909.7,246.1 1910.3,235.9 1910.7,220.8 1911.3,220.2 1911.7,233.4 1912.3,231.8 1912.7,222.4 1913.3,218 1913.7,229.4 1914.3,235.2 1914.7,219.4 1915.3,214.5 1915.7,229.1 1916.3,229.9 1916.7,213.4 1917.3,205.7 1917.7,215.5 1918.3,215.9 1918.7,207.1 1919.3,197.6 1919.7,212.6 1920.3,204.5 1920.7,197.6 1921.3,194 1921.7,203.6 1922.3,192.6 1922.7,184.6 1923.3,175.2 1923.7,183.8 1924.3,178.4 1924.7,166.3 1925.3,156.9 1925.7,166.1 1926.3,154.8 1926.7,146.3 1927.3,145 1927.7,146.7 1928.3,154.9 1928.7,147.2 1929.3,155.6 1929.7,168.6 1930.3,173.3 1930.7,165.5 1931.3,175.7 1931.7,184.8 1932.3,193.5 1932.7,186.3 1933.3,190.4 1933.7,204.1 1934.3,208.2 1934.7,197.5 1935.3,201.4 1935.7,212.7 1936.3,210.9 1936.7,206.4 1937.3,208.4 1937.7,216.2 1938.3,217.3 1938.7,213.5 1939.3,214.2 1939.7,222.8 1940.3,226.1 1940.7,216.5 1941.3,215.9 1941.7,226.3 1942.3,234.7 1942.7,220.9 1943.3,223.6 1943.7,235.3 1944.3,234 1944.7,224.7 1945.3,220.2 1945.7,230.3 1946.3,240 1946.7,226.6 1947.3,225.9 1947.7,238.9 1948.3,239.7 1948.7,225.6 1949.3,224.6 1949.7,237.3 1950.3,253 1950.7,232.1 1951.3,232.7 1951.7,251.6 1952.3,251.3 1952.7,236.9 1953.3,231.7 1953.7,245.1 1954.3,251.9 1954.7,225.9 1955.3,232.4 1955.7,247.1 1956.3,246.9 1956.7,237.9 1957.3,232.6 1957.7,259.6 1958.3,246.1 1958.7,232.3 1959.3,235.8 1959.7,251.8 1960.3,245.7 1960.7,238.1 1961.3,236.5 1961.7,253 1962.3,243.8 1962.7,238.1 1963.3,233.5 1963.7,252.6 1964.3,249.9 1964.7,235.5 1965.3,238.7 1965.7,253 1966.3,273.6 1966.7,245.8 1967.3,236.6 1967.7,273.6 1968.3,258.9 1968.7,238.7 1969.3,237.1 1969.7,259.1 1970.3,252.8 1970.7,237.2 1971.3,243.2 1971.7,254.5 1972.3,261.2 1972.7,241 1973.3,234.5 1973.7,263.7 1974.3,272.3 1974.7,236.9 1975.3,240.1 1975.7,246 1976.3,260.5 1976.7,241.4 1977.3,242 1977.7,260.2 1978.3,247.5 1978.7,237.6 1979.3,240.3 1979.7,272.1 1980.5,299.1 1981.3,234.7 1981.7,265.1 1982.3,274.9 1982.7,240.5 1983.3,255.9 1983.7,305 1984.5,305 1985.3,244.6 1985.7,305 1986.3,251.9 1986.7,240.7 1987.3,245.3 1987.7,305 1988.3,254.5 1988.7,243.1 1989.3,235.8 1989.7,265.6 1990.3,281.9 1990.7,243.5 1991.5,281.9 1992.3,281.9 1992.7,234 1993.5,290.4 1994.3,290.4 1994.7,245.9 1995.3,241 1995.7,248.6 1996.3,254.6 1996.7,237.1 1997.3,238.4 1997.7,274.6 1998.3,266.2 1998.7,243.2 1999.3,241.4 1999.7,263.1 2000.3,265.6 2000.7,240.9 2001.3,236.6 2001.7,263.9 2002.3,258.6 2002.7,241.2 2003.3,241.4 2003.7,265.8 2004.3,253.1 2004.7,240.4 2005.3,241.1 2005.7,259.7 2006.3,249.8 2006.7,235 2007.3,242.4 2007.7,256.2 2008.3,253 2008.7,245.4 2009.3,243.9 2009.7,259.3 2010.3,267.5 2010.7,242.1 2011.3,235.3 2011.7,250.2 2012.3,257.9 2012.7,233.8 2013.3,251.2 2013.7,277.1 2014.5,277.1 2015.3,234.6 2015.7,277.1 2016.3,250.6 2016.7,236.3 2017.3,236.9 2017.7,255.2 2018.3,251 2018.7,238.3 2019.3,233.8 2019.7,260.6 2020.3,302.8 2020.7,238.2 2021.3,240.1 2021.7,302.8 2022.3,302 2022.7,229.7 2023.3,231.8 2023.7,305 2024.3,305 2024.7,232.4 2025.3,229 2025.7,249.6 2026.3,236.8 2026.7,227.3 2027.3,229 2027.7,245.1 2028.3,238.6 2028.7,224.7 2029.3,223.5 2029.7,248 2030.3,228.8 2030.7,216.8 2031.3,221.7 2031.7,234.8 2032.3,235.3 2032.7,219.6 2033.3,220.7 2033.7,231.2 2034.3,236.2 2034.7,217.5 2035.3,218 2035.7,230.9 2036.3,229.8 2036.7,222.1 2037.3,216.8 2037.7,229.2 2038.3,230.1 2038.7,215.9 2039.3,223.8 2039.7,246.1 2040.3,230.6 2040.7,227.8 2041.3,230.3 2041.7,239.9 2042.3,249.7 2042.7,234.8 2043.3,233.9 2043.7,243.1 2044.3,243.5 2044.7,232.9 2045.3,234.3 2045.7,259.5 2046.3,305 2046.7,232.8 2047.5,305 2048.3,305 2048.7,243.6 2049.3,235.2 2049.7,264.7 2050.3,259.6 2050.7,228.5 2051.3,239.9 2051.7,257.6 2052.3,264.9 2052.7,241.3 2053.3,239.6 2053.7,277.4 2054.3,296.6 2054.7,252.2 2055.5,296.6 2056.3,296.6 2056.7,247.6 2057.3,240.9 2057.7,258.3 2058.3,257.6 2058.7,241.3 2059.3,236.7 2059.7,257.4 2060.3,260.1 2060.7,239.8 2061.3,238.4 2061.7,258.1 2062.3,257.2 2062.7,242.7 2063.3,239.3 2063.7,245 2064.3,262.3 2064.7,239.7 2065.5,272 2066.5,272 2067.3,238 2067.7,266.4 2068.3,260.9 2068.7,243 2069.3,237.8 2069.7,254.8 2070.3,297.1 2070.7,241.7 2071.3,249.9 2071.7,297.1 2072.3,267.3 2072.7,237.9 2073.3,236.8 2073.7,265.8 2074.3,251.4 2074.7,231.7 2075.3,236.9 2075.7,258.3 2076.3,266.3 2076.7,234.6 2077.3,249 2077.7,271.1 2078.3,271.1 2078.7,249.1 2079.5,305 2080.3,305 2080.7,239.4 2081.3,242.2 2081.7,259.7 2082.3,249.5 2082.7,241.6 2083.3,241.2 2083.7,262.3 2084.3,257.5 2084.7,238.9 2085.3,234.2 2085.7,272.3 2086.3,279.3 2086.7,235.6 2087.1,241.5 2087.5,263.6" fill="none" stroke="#F00A08" stroke-width="4.6" stroke-linejoin="miter" stroke-linecap="butt" clip-path="url(#clipB1)"/>
<polyline points="1447.5,516.1 1447.9,527.8 1448.3,539.1 1448.7,509.7 1449.3,517.4 1449.7,568 1450.3,541 1450.7,515.2 1451.3,517.2 1451.7,553.1 1452.3,568 1452.7,521.7 1453.3,516.3 1453.7,568 1454.3,568 1454.7,514.7 1455.3,518.7 1455.7,530.8 1456.3,523.9 1456.7,513 1457.3,519.8 1457.7,568 1458.3,536 1458.7,508 1459.3,507 1459.7,568 1460.3,529.7 1460.7,516.6 1461.3,511.2 1461.7,530.2 1462.3,568 1462.7,520.4 1463.3,519.7 1463.7,568 1464.3,529.9 1464.7,504.6 1465.3,518.2 1465.7,568 1466.3,555.5 1466.7,524.1 1467.3,521.4 1467.7,568 1468.3,532.3 1468.7,516.2 1469.3,514.8 1469.7,529.2 1470.3,568 1470.7,519.6 1471.3,515.5 1471.7,526.3 1472.3,568 1472.7,520 1473.3,517.4 1473.7,525.5 1474.3,529.2 1474.7,512.3 1475.3,518.9 1475.7,543.9 1476.3,523.6 1476.7,514.8 1477.3,514.7 1477.7,531.8 1478.3,553.4 1478.7,516 1479.3,520.6 1479.7,547.5 1480.3,534.6 1480.7,518.3 1481.3,509 1481.7,537.9 1482.3,560.8 1482.7,516 1483.3,519.1 1483.7,539.7 1484.3,527.6 1484.7,514.1 1485.3,527.7 1485.7,568 1486.3,568 1486.7,515.1 1487.3,520.9 1487.7,568 1488.3,568 1488.7,510.9 1489.3,517.6 1489.7,531.8 1490.3,568 1490.7,519.6 1491.3,522.1 1491.7,533.3 1492.3,553.4 1492.7,518.4 1493.3,517.5 1493.7,568 1494.3,533.2 1494.7,518 1495.3,521 1495.7,568 1496.3,533.5 1496.7,517.5 1497.3,516.9 1497.7,561.2 1498.3,568 1498.7,513.2 1499.3,513.7 1499.7,568 1500.3,531.7 1500.7,506.8 1501.3,517.9 1501.7,568 1502.3,528.9 1502.7,519.7 1503.3,524.5 1503.7,568 1504.3,533.9 1504.7,510.6 1505.3,519.3 1505.7,531.1 1506.3,536.4 1506.7,517.6 1507.3,509.8 1507.7,568 1508.3,568 1508.7,521.4 1509.3,523.2 1509.7,568 1510.3,537.7 1510.7,519.7 1511.3,520.4 1511.7,568 1512.3,568 1512.7,508.5 1513.3,516.3 1513.7,530.5 1514.3,533.6 1514.7,515.8 1515.3,522.7 1515.7,568 1516.3,568 1516.7,524.8 1517.3,515.1 1517.7,568 1518.3,534.9 1518.7,520.1 1519.3,512 1519.7,538.1 1520.3,568 1520.7,527.3 1521.3,521 1521.7,568 1522.3,568 1522.7,518.4 1523.3,517.1 1523.7,532.3 1524.3,565.5 1524.7,510.1 1525.3,513.5 1525.7,568 1526.3,568 1526.7,518.5 1527.3,521.5 1527.7,540.4 1528.3,568 1528.7,520.1 1529.3,518.9 1529.7,551.8 1530.3,534.9 1530.7,512.5 1531.3,519.6 1531.7,568 1532.3,533.4 1532.7,514.4 1533.3,521.6 1533.7,568 1534.3,568 1534.7,518.3 1535.3,526.7 1535.7,568 1536.3,568 1536.7,521.7 1537.3,518.7 1537.7,532.4 1538.3,568 1538.7,524.6 1539.3,512.8 1539.7,526.1 1540.3,539.5 1540.7,521.5 1541.3,515 1541.7,529.9 1542.3,568 1542.7,512.4 1543.3,523.6 1543.7,527.6 1544.3,568 1544.7,515.5 1545.3,521.1 1545.7,556.3 1546.3,568 1546.7,518.8 1547.3,511.4 1547.7,544.7 1548.3,545.6 1548.7,521.4 1549.3,514.7 1549.7,568 1550.3,529.9 1550.7,518.3 1551.3,524.3 1551.7,568 1552.3,568 1552.7,508.9 1553.3,524.1 1553.7,568 1554.3,529.1 1554.7,517.3 1555.3,511 1555.7,568 1556.3,568 1556.7,520.4 1557.3,520.6 1557.7,531.8 1558.3,528 1558.7,512.9 1559.3,523.4 1559.7,568 1560.3,568 1560.7,512.4 1561.3,515.7 1561.7,568 1562.3,568 1562.7,522.2 1563.3,518.3 1563.7,538.3 1564.3,533.9 1564.7,517 1565.3,510.8 1565.7,568 1566.3,560.9 1566.7,518.7 1567.3,520.7 1567.7,530.6 1568.3,543 1568.7,522.8 1569.3,520.3 1569.7,563.8 1570.3,565.7 1570.7,515.5 1571.3,518.3 1571.7,568 1572.3,532.4 1572.7,522.5 1573.3,515.3 1573.7,534.1 1574.3,568 1574.7,514.4 1575.3,513.4 1575.7,568 1576.3,568 1576.7,509.7 1577.3,518.6 1577.7,565.1 1578.3,557.8 1578.7,517.2 1579.3,518.2 1579.7,568 1580.3,528.5 1580.7,513.7 1581.3,514.4 1581.7,533.1 1582.3,550.8 1582.7,510.5 1583.3,508.6 1583.7,530.9 1584.3,524.1 1584.7,507.3 1585.3,503.3 1585.7,522.8 1586.3,514.6 1586.7,503.6 1587.3,502.3 1587.7,532.8 1588.3,512.6 1588.7,495.5 1589.3,494.9 1589.7,509.5 1590.3,500.5 1590.7,486.7 1591.3,488.6 1591.7,492.2 1592.3,487.4 1592.7,478.2 1593.3,474.4 1593.7,480.8 1594.3,478.2 1594.7,470.7 1595.3,462 1595.7,470.3 1596.3,460.8 1596.7,457 1597.3,449.3 1597.7,456.4 1598.3,448.7 1598.7,443.8 1599.3,438.4 1599.7,441.9 1600.3,435.4 1600.7,428.7 1601.3,423.4 1601.7,429.7 1602.3,421.2 1602.7,415.7 1603.3,409.9 1603.7,415.5 1604.3,408.7 1604.7,404.4 1605.3,398.5 1605.7,402.8 1606.3,397.7 1606.7,394.1 1607.3,393.4 1607.7,394.1 1608.3,396.9 1608.7,394.6 1609.3,398.1 1609.7,403.4 1610.3,409.4 1610.7,404.5 1611.3,409.2 1611.7,415.6 1612.3,421.8 1612.7,416.4 1613.3,422.2 1613.7,428.8 1614.3,437 1614.7,430 1615.3,437.7 1615.7,443.2 1616.3,449.6 1616.7,442.3 1617.3,449.3 1617.7,456.9 1618.3,460.3 1618.7,459.8 1619.3,464.2 1619.7,470.1 1620.3,473.9 1620.7,470.5 1621.3,478.1 1621.7,483.2 1622.3,486.6 1622.7,479.2 1623.3,484.6 1623.7,491 1624.3,506.2 1624.7,490.8 1625.3,498.8 1625.7,509.2 1626.3,511.8 1626.7,504.6 1627.3,502.7 1627.7,510.2 1628.3,568 1628.7,509 1629.3,504.8 1629.7,517 1630.3,524.7 1630.7,510.7 1631.3,512.5 1631.7,568 1632.3,568 1632.7,518.5 1633.3,519 1633.7,530.4 1634.3,531 1634.7,513.9 1635.3,521.3 1635.7,568 1636.3,539.5 1636.7,513.8 1637.3,518.5 1637.7,530.5 1638.3,568 1638.7,528.6 1639.3,518.9 1639.7,545.7 1640.3,531.1 1640.7,504.2 1641.3,521 1641.7,568 1642.3,568 1642.7,513.9 1643.3,517.3 1643.7,568 1644.3,568 1644.7,521.5 1645.3,520.5 1645.7,568 1646.3,568 1646.7,510.4 1647.3,515.1 1647.7,534 1648.3,535.3 1648.7,512.7 1649.3,523 1649.7,539 1650.3,533.1 1650.7,510.5 1651.3,509.2 1651.7,568 1652.3,568 1652.7,507.4 1653.3,517.4 1653.7,568 1654.3,568 1654.7,523.3 1655.3,520.1 1655.7,568 1656.3,533.3 1656.7,513.3 1657.3,514.5 1657.7,530.4 1658.3,568 1658.7,523.1 1659.3,521.2 1659.7,530.9 1660.3,522.5 1660.7,512.1 1661.3,516.6 1661.7,568 1662.3,556.4 1662.7,517.3 1663.3,520.2 1663.7,533 1664.3,543.3 1664.7,505.9 1665.3,505.2 1665.7,533.3 1666.3,568 1666.7,516.9 1667.3,518.1 1667.7,537 1668.3,568 1668.7,517.7 1669.3,520.7 1669.7,551.4 1670.3,530.8 1670.7,517.1 1671.3,508.6 1671.7,527 1672.3,563.6 1672.7,514.9 1673.3,518.4 1673.7,528.9 1674.3,550.1 1674.7,516.8 1675.3,509.4 1675.7,525.4 1676.3,528.5 1676.7,515.2 1677.3,517.4 1677.7,539.8 1678.3,568 1678.7,517.4 1679.3,514.9 1679.7,560.6 1680.3,541.5 1680.7,518.3 1681.3,518.3 1681.7,568 1682.3,568 1682.7,503.4 1683.3,511.3 1683.7,568 1684.3,526.4 1684.7,511.9 1685.3,520.5 1685.7,534 1686.3,568 1686.7,511 1687.3,516.6 1687.7,536.1 1688.3,568 1688.7,519.9 1689.3,515.9 1689.7,568 1690.3,533.2 1690.7,510.5 1691.3,518.7 1691.7,526 1692.3,568 1692.7,516.9 1693.3,517.5 1693.7,568 1694.3,528.7 1694.7,514.2 1695.3,519.2 1695.7,568 1696.3,566.9 1696.7,517.5 1697.3,520.6 1697.7,559.1 1698.3,568 1698.7,515.8 1699.3,515.7 1699.7,568 1700.3,554.1 1700.7,517.6 1701.3,514.9 1701.7,541.6 1702.3,568 1702.7,517.7 1703.3,520.1 1703.7,545.4 1704.3,568 1704.7,509.7 1705.3,522.9 1705.7,568 1706.3,568 1706.7,516.9 1707.3,521.2 1707.7,568 1708.3,568 1708.7,513.2 1709.3,518.7 1709.7,568 1710.3,568 1710.7,514.5 1711.3,518.2 1711.7,533 1712.3,568 1712.7,527.2 1713.3,506.6 1713.7,539.7 1714.3,530.8 1714.7,508.4 1715.3,519.7 1715.7,532.8 1716.3,542 1716.7,501.7 1717.3,516.4 1717.7,536.6 1718.3,568 1718.7,518 1719.3,520 1719.7,568 1720.3,553.5 1720.7,516.4 1721.3,513.9 1721.7,533.8 1722.3,568 1722.7,520.2 1723.3,512.8 1723.7,532.5 1724.3,539 1724.7,518.2 1725.3,518.8 1725.7,568 1726.3,530.9 1726.7,510 1727.3,516.4 1727.7,530.2 1728.3,532.7 1728.7,512.1 1729.3,521.9 1729.7,568 1730.3,532.3 1730.7,514.4 1731.3,518.7 1731.7,568 1732.3,568 1732.7,515 1733.3,522.2 1733.7,533.3 1734.3,535.1 1734.7,514.6 1735.3,516.6 1735.7,561.8 1736.3,568 1736.7,512 1737.3,516.1 1737.7,540.2 1738.3,539.3 1738.7,514.5 1739.3,518.7 1739.7,543.2 1740.3,542.7 1740.7,511.8 1741.3,518.8 1741.7,563.1 1742.3,530.9 1742.7,519.2 1743.3,515.9 1743.7,529.8 1744.3,535.4 1744.7,513.9 1745.3,515.6 1745.7,528.2 1746.3,568 1746.7,520.2 1747.3,520.5 1747.7,557.2 1748.3,556.8 1748.7,507.9 1749.3,521.4 1749.7,532.9 1750.3,568 1750.7,520.1 1751.3,517.6 1751.7,568 1752.3,528.5 1752.7,516.4 1753.3,517 1753.7,547 1754.3,568 1754.7,516.7 1755.3,512.6 1755.7,568 1756.3,537.2 1756.7,507.7 1757.3,518.6 1757.7,568 1758.3,568 1758.7,524.7 1759.3,516.5 1759.7,568 1760.3,536.3 1760.7,520.5 1761.3,514.4 1761.7,568 1762.3,566.5 1762.7,526.8 1763.3,512.9 1763.7,526.8 1764.3,568 1764.7,512.9 1765.3,516.3 1765.7,568 1766.3,544.6 1766.7,518.9 1767.3,508 1767.7,533.9 1768.3,568 1768.7,507.7 1769.3,511.2 1769.7,565.9 1770.3,568 1770.7,517.3 1771.3,519.8 1771.7,568 1772.3,568 1772.7,516.4 1773.3,517.5 1773.7,555.2 1774.3,568 1774.7,516 1775.3,518.3 1775.7,561.9 1776.3,568 1776.7,521.5 1777.3,519.6 1777.7,568 1778.3,568 1778.7,519.6 1779.3,515.7 1779.7,529.2 1780.3,568 1780.7,521.8 1781.3,517.8 1781.7,568 1782.3,540.9 1782.7,515.7 1783.3,509.1 1783.7,528.2 1784.3,568 1784.7,514.9 1785.3,514.2 1785.7,532.6 1786.3,568 1786.7,515.9 1787.3,527.8 1787.7,537.3 1788.3,568 1788.7,523 1789.3,518.3 1789.7,568 1790.3,568 1790.7,517.5 1791.3,516.3 1791.7,544.1 1792.3,568 1792.7,513.2 1793.3,516.7 1793.7,568 1794.3,532.6 1794.7,514.5 1795.3,526.8 1795.7,568 1796.3,531 1796.7,512.9 1797.3,513.9 1797.7,531.5 1798.3,533.5 1798.7,502.6 1799.3,525.3 1799.7,568 1800.3,528.2 1800.7,512.4 1801.3,516 1801.7,546.9 1802.3,528.4 1802.7,518.5 1803.3,523.4 1803.7,568 1804.3,568 1804.7,520.4 1805.3,522.3 1805.7,560.4 1806.3,526.2 1806.7,505.4 1807.3,516.1 1807.7,568 1808.3,535.3 1808.7,521.5 1809.3,523.6 1809.7,568 1810.3,568 1810.7,513.4 1811.3,513.2 1811.7,525.6 1812.3,568 1812.7,522 1813.3,509.6 1813.7,532.1 1814.3,568 1814.7,510.6 1815.3,508.1 1815.7,566.3 1816.3,568 1816.7,509.9 1817.3,523.1 1817.7,536.2 1818.3,568 1818.7,521.4 1819.3,520.3 1819.7,533.6 1820.3,568 1820.7,520.3 1821.3,513.8 1821.7,568 1822.3,568 1822.7,527.2 1823.3,511.3 1823.7,530.5 1824.3,553 1824.7,516.4 1825.3,512.5 1825.7,565.1 1826.3,530.3 1826.7,513.3 1827.3,516.2 1827.7,568 1828.3,535.6 1828.7,506.7 1829.3,511.6 1829.7,534.6 1830.3,565.6 1830.7,507.8 1831.3,519.4 1831.7,531.2 1832.3,568 1832.7,518.2 1833.3,519.7 1833.7,539.4 1834.3,568 1834.7,519.4 1835.3,519 1835.7,529.1 1836.3,568 1836.7,525.6 1837.3,518.8 1837.7,534.9 1838.3,568 1838.7,518 1839.3,511.2 1839.7,568 1840.3,543.2 1840.7,520.8 1841.3,510.3 1841.7,535.7 1842.3,566.6 1842.7,519.7 1843.3,508.5 1843.7,568 1844.3,534.9 1844.7,518.8 1845.3,514.7 1845.7,535.2 1846.3,527.7 1846.7,514.6 1847.3,519.1 1847.7,568 1848.3,556.8 1848.7,516 1849.3,512.5 1849.7,568 1850.3,537.6 1850.7,516.8 1851.3,514.6 1851.7,568 1852.3,566 1852.7,522.6 1853.3,508.9 1853.7,568 1854.3,568 1854.7,520.9 1855.3,514.1 1855.7,532.3 1856.3,568 1856.7,511.8 1857.3,502.6 1857.7,530.6 1858.3,568 1858.7,527.2 1859.3,513.7 1859.7,525.9 1860.3,568 1860.7,523.8 1861.3,518 1861.7,526.8 1862.3,526 1862.7,516 1863.3,512.5 1863.7,553.5 1864.3,568 1864.7,521.1 1865.3,515.2 1865.7,568 1866.3,568 1866.7,513.8 1867.3,516 1867.7,568 1868.3,568 1868.7,518 1869.3,520 1869.7,568 1870.3,525.3 1870.7,520.2 1871.3,516.2 1871.7,531.2 1872.3,568 1872.7,514.6 1873.3,510.6 1873.7,543 1874.3,535.1 1874.7,513.3 1875.3,523.1 1875.7,568 1876.3,568 1876.7,510.5 1877.3,520.9 1877.7,535.8 1878.3,539.4 1878.7,513.1 1879.3,522.1 1879.7,568 1880.3,568 1880.7,515.7 1881.3,511.2 1881.7,558.8 1882.3,531.5 1882.7,513.9 1883.3,518.6 1883.7,568 1884.3,563.5 1884.7,514.3 1885.3,515.8 1885.7,568 1886.3,568 1886.7,526.3 1887.3,516.4 1887.7,532.5 1888.3,568 1888.7,522.1 1889.3,516.7 1889.7,529.4 1890.3,568 1890.7,520.4 1891.3,514 1891.7,568 1892.3,536.5 1892.7,517.3 1893.3,513.3 1893.7,526.8 1894.3,534.7 1894.7,514.5 1895.3,512 1895.7,532.8 1896.3,524.1 1896.7,514.5 1897.3,526.4 1897.7,557.9 1898.3,528.9 1898.7,510.2 1899.3,517.9 1899.7,568 1900.3,527.1 1900.7,514.4 1901.3,512 1901.7,528.4 1902.3,534.8 1902.7,510.8 1903.3,508.9 1903.7,513.4 1904.3,552.6 1904.7,505.1 1905.3,511.4 1905.7,568 1906.3,522 1906.7,500.4 1907.3,509.6 1907.7,516.7 1908.3,513.4 1908.7,499.3 1909.3,497.7 1909.7,502.5 1910.3,504 1910.7,491 1911.3,483.8 1911.7,568 1912.3,491.5 1912.7,479.9 1913.3,475.8 1913.7,481.6 1914.3,477.8 1914.7,471.2 1915.3,464.9 1915.7,469.9 1916.3,461.9 1916.7,458.2 1917.3,451.3 1917.7,456 1918.3,448.4 1918.7,444.6 1919.3,438.8 1919.7,442.8 1920.3,438.2 1920.7,430.8 1921.3,423.7 1921.7,430.5 1922.3,422 1922.7,418.3 1923.3,411.1 1923.7,416.8 1924.3,409.4 1924.7,405.4 1925.3,399 1925.7,404.2 1926.3,398.9 1926.7,395.2 1927.3,394.2 1927.7,395.2 1928.3,398.3 1928.7,395.2 1929.3,399.1 1929.7,404.7 1930.3,410.4 1930.7,405 1931.3,411.1 1931.7,417.4 1932.3,421.8 1932.7,417.8 1933.3,423.8 1933.7,430.2 1934.3,437.4 1934.7,430.9 1935.3,438.3 1935.7,443.6 1936.3,449.7 1936.7,443.2 1937.3,449.1 1937.7,458.5 1938.3,463 1938.7,458.1 1939.3,463.1 1939.7,470.2 1940.3,475.3 1940.7,469.8 1941.3,476.4 1941.7,485.4 1942.3,487.9 1942.7,481 1943.3,483.7 1943.7,495.2 1944.3,550.3 1944.7,495.8 1945.3,492.1 1945.7,502.1 1946.3,513.1 1946.7,499.5 1947.3,503.6 1947.7,514.8 1948.3,555.5 1948.7,512.5 1949.3,513.4 1949.7,546.6 1950.3,568 1950.7,514.7 1951.3,510.2 1951.7,517.2 1952.3,568 1952.7,511.9 1953.3,511.9 1953.7,538.5 1954.3,537.1 1954.7,518 1955.3,515.3 1955.7,531.8 1956.3,528.6 1956.7,515.3 1957.3,516 1957.7,568 1958.3,554 1958.7,520 1959.3,518.2 1959.7,530.1 1960.3,541 1960.7,513.4 1961.3,516.3 1961.7,568 1962.3,560.2 1962.7,514.7 1963.3,521.4 1963.7,559.9 1964.3,532.6 1964.7,521.5 1965.3,520.1 1965.7,568 1966.3,564.7 1966.7,519.4 1967.3,517.1 1967.7,568 1968.3,536.7 1968.7,517.7 1969.3,525.6 1969.7,568 1970.3,568 1970.7,523.9 1971.3,523.7 1971.7,559.9 1972.3,530.5 1972.7,514.9 1973.3,521.2 1973.7,538.5 1974.3,531.8 1974.7,517 1975.3,521.2 1975.7,535.6 1976.3,568 1976.7,519.8 1977.3,521.8 1977.7,530.8 1978.3,568 1978.7,519 1979.3,520.5 1979.7,568 1980.3,568 1980.7,514.5 1981.3,524.9 1981.7,559.2 1982.3,540.2 1982.7,523.3 1983.3,520.4 1983.7,536.1 1984.3,531.3 1984.7,522.2 1985.3,517.8 1985.7,565.7 1986.3,568 1986.7,527.2 1987.3,517.6 1987.7,530.6 1988.3,568 1988.7,518.5 1989.3,525 1989.7,568 1990.3,537.4 1990.7,510.6 1991.3,522.4 1991.7,547 1992.3,564.1 1992.7,510.2 1993.3,514.7 1993.7,555.3 1994.3,543.5 1994.7,515.8 1995.3,523.8 1995.7,529.4 1996.3,523.8 1996.7,509.5 1997.3,517.3 1997.7,568 1998.3,568 1998.7,517.6 1999.3,528.6 1999.7,568 2000.3,532.1 2000.7,518.2 2001.3,516.4 2001.7,529.9 2002.3,529.7 2002.7,519.8 2003.3,513 2003.7,530.9 2004.3,529.9 2004.7,511.4 2005.3,519.3 2005.7,568 2006.3,568 2006.7,513.5 2007.3,519.4 2007.7,568 2008.3,568 2008.7,524 2009.3,520 2009.7,530.1 2010.3,568 2010.7,519.6 2011.3,513.6 2011.7,568 2012.3,568 2012.7,514.4 2013.3,518.2 2013.7,532.4 2014.3,563.3 2014.7,514 2015.3,513.9 2015.7,530.5 2016.3,538.2 2016.7,519.4 2017.3,524.7 2017.7,568 2018.3,524.7 2018.7,518.6 2019.3,512.7 2019.7,534.9 2020.3,568 2020.7,519.8 2021.3,515.1 2021.7,568 2022.3,568 2022.7,509.2 2023.3,523.4 2023.7,568 2024.3,556.3 2024.7,517.7 2025.3,519 2025.7,568 2026.3,541.9 2026.7,506.8 2027.3,507.1 2027.7,568 2028.3,528.1 2028.7,518.9 2029.3,519.9 2029.7,568 2030.3,568 2030.7,516.4 2031.3,509.5 2031.7,529.6 2032.3,568 2032.7,523.2 2033.3,518.9 2033.7,531.8 2034.3,522.3 2034.7,513.7 2035.3,515 2035.7,568 2036.3,568 2036.7,507.1 2037.3,522 2037.7,568 2038.3,568 2038.7,520 2039.3,515.6 2039.7,527.5 2040.3,534.6 2040.7,510.4 2041.3,518.2 2041.7,562.5 2042.3,568 2042.7,511.9 2043.3,511.4 2043.7,542.4 2044.3,533.1 2044.7,518.9 2045.3,517.6 2045.7,568 2046.3,568 2046.7,512.9 2047.3,514.5 2047.7,563 2048.3,568 2048.7,512.6 2049.3,518.4 2049.7,530.3 2050.3,531 2050.7,524.7 2051.3,521.1 2051.7,533.7 2052.3,561.6 2052.7,515.3 2053.3,522.5 2053.7,568 2054.3,568 2054.7,519.3 2055.3,525.9 2055.7,568 2056.3,568 2056.7,506.1 2057.3,518.7 2057.7,568 2058.3,530.8 2058.7,525.8 2059.3,508.1 2059.7,544.2 2060.3,568 2060.7,521.1 2061.3,512.3 2061.7,533.1 2062.3,550.2 2062.7,521.2 2063.3,519.6 2063.7,568 2064.3,568 2064.7,517 2065.3,517.2 2065.7,535.7 2066.3,568 2066.7,522.9 2067.3,504.6 2067.7,568 2068.3,525.2 2068.7,518.5 2069.3,515.7 2069.7,568 2070.3,557.5 2070.7,513.4 2071.3,523.9 2071.7,530.9 2072.3,568 2072.7,517.7 2073.3,519.5 2073.7,568 2074.3,566.2 2074.7,521.9 2075.3,519.4 2075.7,540.4 2076.3,546.5 2076.7,519.1 2077.3,515.6 2077.7,568 2078.3,539.1 2078.7,520.1 2079.3,522.6 2079.7,526.2 2080.3,529.2 2080.7,517.1 2081.3,518.1 2081.7,536.6 2082.3,568 2082.7,515.7 2083.3,512.1 2083.7,537.8 2084.3,546.1 2084.7,514.9 2085.3,516.7 2085.7,568 2086.3,568 2086.7,526.1 2087.1,511.2 2087.5,536.9" fill="none" stroke="#0A05C3" stroke-width="4.6" stroke-linejoin="miter" stroke-linecap="butt" clip-path="url(#clipB2)"/>
<polyline points="1447.5,729.4 1447.9,730.7 1448.3,736.5 1448.7,732.3 1449.3,736.4 1449.7,742.9 1450.3,745.6 1450.7,740.4 1451.3,743.1 1451.7,748.7 1452.3,748.1 1452.7,745.3 1453.3,747.6 1453.7,751.9 1454.3,755 1454.7,747.9 1455.3,751.8 1455.7,753 1456.3,757.6 1456.7,752.1 1457.3,752.7 1457.7,758.5 1458.3,759.5 1458.7,755.7 1459.3,753 1459.7,758.4 1460.3,760.1 1460.7,757.1 1461.3,755.3 1461.7,760 1462.3,760.4 1462.7,756 1463.3,758 1463.7,760.7 1464.3,763.1 1464.7,757 1465.3,755.9 1465.7,762.4 1466.3,830 1466.7,756.8 1467.3,755.6 1467.7,764.9 1468.3,763.4 1468.7,759.6 1469.3,757 1469.7,830 1470.3,767.3 1470.7,760.2 1471.3,762.8 1471.7,767.4 1472.3,767.2 1472.7,760.3 1473.3,762.2 1473.7,830 1474.3,763.9 1474.7,759.4 1475.3,760.2 1475.7,812.5 1476.3,830 1476.7,757.7 1477.3,762.4 1477.7,765.9 1478.3,830 1478.7,756.4 1479.3,767 1479.7,830 1480.3,830 1480.7,760.7 1481.3,763.3 1481.7,830 1482.3,830 1482.7,761.7 1483.3,759.8 1483.7,769.6 1484.3,767.2 1484.7,759.2 1485.3,762.1 1485.7,771.6 1486.3,789.5 1486.7,764.9 1487.3,757.8 1487.7,830 1488.3,830 1488.7,760.4 1489.3,761.4 1489.7,768.7 1490.3,768.7 1490.7,765.2 1491.3,762 1491.7,767.8 1492.3,830 1492.7,763.4 1493.3,762.5 1493.7,830 1494.3,830 1494.7,762 1495.3,763.8 1495.7,766.2 1496.3,830 1496.7,766.4 1497.3,765.3 1497.7,830 1498.3,830 1498.7,764.5 1499.3,765.6 1499.7,830 1500.3,768.9 1500.7,763.7 1501.3,760 1501.7,767.2 1502.3,768.7 1502.7,760.1 1503.3,765.6 1503.7,830 1504.3,830 1504.7,763.1 1505.3,765.1 1505.7,830 1506.3,830 1506.7,762.4 1507.3,763.8 1507.7,767.4 1508.3,830 1508.7,799.7 1509.3,763.9 1509.7,830 1510.3,830 1510.7,763 1511.3,767 1511.7,830 1512.3,830 1512.7,762.7 1513.3,760.1 1513.7,830 1514.3,830 1514.7,768.9 1515.3,764 1515.7,830 1516.3,830 1516.7,763.7 1517.3,765.4 1517.7,830 1518.3,830 1518.7,765.2 1519.3,765.2 1519.7,830 1520.3,830 1520.7,767 1521.5,830 1522.3,830 1522.7,764.9 1523.3,767.8 1523.7,830 1524.3,830 1524.7,764.4 1525.3,765 1525.7,830 1526.3,830 1526.7,761.9 1527.3,760.2 1527.7,830 1528.3,830 1528.7,765.2 1529.3,763 1529.7,830 1530.3,830 1530.7,761.6 1531.3,766.6 1531.7,830 1532.3,830 1532.7,762.5 1533.3,766.7 1533.7,830 1534.3,769.2 1534.7,764.4 1535.3,766.2 1535.7,830 1536.3,830 1536.7,762.2 1537.3,764.6 1537.7,830 1538.3,768.9 1538.7,761.4 1539.3,764.6 1539.7,813 1540.3,830 1540.7,767.9 1541.3,766.2 1541.7,830 1542.3,830 1542.7,762.6 1543.3,761.7 1543.7,830 1544.3,830 1544.7,762.6 1545.3,763.9 1545.7,830 1546.3,830 1546.7,768.4 1547.3,761.1 1547.7,830 1548.3,830 1548.7,768.2 1549.3,765.7 1549.7,830 1550.3,830 1550.7,763.9 1551.3,763.9 1551.7,770.3 1552.3,774.2 1552.7,762.3 1553.3,764.9 1553.7,795.7 1554.3,830 1554.7,762.2 1555.3,766.1 1555.7,830 1556.3,830 1556.7,766.9 1557.3,766.1 1557.7,830 1558.3,830 1558.7,765.7 1559.3,765.2 1559.7,771.6 1560.3,830 1560.7,765.4 1561.3,766.9 1561.7,830 1562.3,830 1562.7,762.7 1563.3,763.9 1563.7,830 1564.3,830 1564.7,766.6 1565.3,761.4 1565.7,830 1566.3,830 1566.7,761.7 1567.3,761.7 1567.7,774 1568.3,830 1568.7,765.2 1569.3,764.1 1569.7,830 1570.3,807.3 1570.7,764.6 1571.3,762.4 1571.7,830 1572.3,830 1572.7,765.4 1573.3,764.4 1573.7,830 1574.3,830 1574.7,767.8 1575.3,762.2 1575.7,830 1576.3,830 1576.7,765.5 1577.3,765.7 1577.7,830 1578.3,770.3 1578.7,762.2 1579.3,764.4 1579.7,830 1580.3,830 1580.7,762.8 1581.3,763.8 1581.7,830 1582.3,830 1582.7,767.6 1583.3,764 1583.7,830 1584.3,830 1584.7,765.4 1585.3,765.9 1585.7,830 1586.3,830 1586.7,799.9 1587.3,765.6 1587.7,830 1588.3,830 1588.7,765.6 1589.3,766.6 1589.7,772.8 1590.3,830 1590.7,764.5 1591.3,765.1 1591.7,830 1592.3,830 1592.7,765.6 1593.3,767.3 1593.7,830 1594.3,830 1594.7,769.2 1595.3,765.9 1595.7,830 1596.3,830 1596.7,762.8 1597.3,762.3 1597.7,773.8 1598.3,830 1598.7,765.8 1599.3,765.9 1599.7,830 1600.3,769.8 1600.7,760.2 1601.3,764.6 1601.7,830 1602.3,786.7 1602.7,761.7 1603.3,764.6 1603.7,830 1604.3,769.9 1604.7,767.3 1605.3,763.9 1605.7,768.9 1606.3,830 1606.7,766 1607.3,762.9 1607.7,830 1608.3,798.6 1608.7,762.1 1609.3,763.8 1609.7,770.5 1610.3,830 1610.7,764.5 1611.3,764.7 1611.7,830 1612.3,768.1 1612.7,762.8 1613.3,765.7 1613.7,830 1614.3,770.5 1614.7,766.1 1615.3,765.9 1615.7,771.7 1616.3,830 1616.7,762.9 1617.3,764.5 1617.7,830 1618.3,830 1618.7,765.3 1619.3,765.2 1619.7,830 1620.3,830 1620.7,763.6 1621.3,767.9 1621.7,830 1622.3,770.1 1622.7,765.4 1623.3,769.8 1623.7,830 1624.3,830 1624.7,765.2 1625.3,766.1 1625.7,773.1 1626.3,769.8 1626.7,766.2 1627.3,762.7 1627.7,830 1628.3,830 1628.7,768.1 1629.3,760.7 1629.7,773 1630.3,830 1630.7,766.2 1631.3,766.7 1631.7,771.4 1632.3,830 1632.7,760.8 1633.3,763.6 1633.7,771.7 1634.3,770.5 1634.7,762.4 1635.3,762.2 1635.7,830 1636.3,830 1636.7,765.9 1637.3,765.1 1637.7,830 1638.3,830 1638.7,760.5 1639.3,764 1639.7,830 1640.3,830 1640.7,763.3 1641.3,762.2 1641.7,830 1642.3,830 1642.7,765.2 1643.3,762.7 1643.7,830 1644.3,830 1644.7,763.3 1645.3,764.7 1645.7,830 1646.3,830 1646.7,763.9 1647.3,763.3 1647.7,830 1648.3,830 1648.7,763.5 1649.3,766.9 1649.7,830 1650.3,815.5 1650.7,762.8 1651.3,763.3 1651.7,769.6 1652.3,830 1652.7,764.3 1653.3,764.8 1653.7,830 1654.3,767.6 1654.7,761.8 1655.3,765.6 1655.7,770 1656.3,830 1656.7,766.7 1657.3,761.8 1657.7,830 1658.3,771.7 1658.7,762.2 1659.3,765.6 1659.7,770.5 1660.3,830 1660.7,765.8 1661.3,761 1661.7,771.2 1662.3,767.8 1662.7,763.4 1663.3,762.8 1663.7,769.8 1664.3,770.7 1664.7,761.2 1665.3,762.4 1665.7,830 1666.3,805 1666.7,762.9 1667.3,762.5 1667.7,830 1668.3,830 1668.7,761.3 1669.3,758.3 1669.7,830 1670.3,830 1670.7,761 1671.3,759.5 1671.7,830 1672.3,830 1672.7,762.1 1673.3,765.9 1673.7,830 1674.3,830 1674.7,764.6 1675.3,766.4 1675.7,830 1676.3,830 1676.7,762.1 1677.3,764.9 1677.7,830 1678.3,767 1678.7,761 1679.3,763.7 1679.7,770.6 1680.3,830 1680.7,766.4 1681.3,760.1 1681.7,830 1682.3,783 1682.7,760.7 1683.3,762 1683.7,830 1684.3,769 1684.7,763.3 1685.3,764.1 1685.7,830 1686.3,830 1686.7,758.1 1687.3,766.8 1687.7,830 1688.3,830 1688.7,763.4 1689.3,761.2 1689.7,770.4 1690.3,830 1690.7,761.3 1691.3,760.1 1691.7,766.5 1692.3,830 1692.7,762.2 1693.3,762.1 1693.7,830 1694.3,830 1694.7,763.6 1695.3,759.9 1695.7,769.7 1696.3,830 1696.7,761.7 1697.3,761.7 1697.7,830 1698.3,830 1698.7,761.7 1699.3,761.4 1699.7,830 1700.3,825.6 1700.7,759.1 1701.3,764.7 1701.7,830 1702.3,768.9 1702.7,759.7 1703.3,758.8 1703.7,830 1704.3,769.6 1704.7,763.1 1705.3,761.2 1705.7,830 1706.3,799.7 1706.7,763 1707.3,759.6 1707.7,830 1708.3,770.5 1708.7,761.8 1709.3,759.5 1709.7,830 1710.3,830 1710.7,758.2 1711.3,762.9 1711.7,769.1 1712.3,830 1712.7,760.1 1713.3,761.3 1713.7,765.8 1714.3,830 1714.7,760 1715.3,761.2 1715.7,765.2 1716.3,830 1716.7,763 1717.3,759.6 1717.7,830 1718.3,830 1718.7,761.6 1719.3,759.9 1719.7,768.9 1720.3,820.9 1720.7,757.5 1721.3,759.8 1721.7,763.7 1722.3,765 1722.7,756.7 1723.3,758.1 1723.7,767 1724.3,766.7 1724.7,758.8 1725.3,759.8 1725.7,765.2 1726.3,830 1726.7,760.7 1727.3,757.5 1727.7,822.2 1728.3,830 1728.7,758.1 1729.3,757.3 1729.7,764.8 1730.3,759.1 1730.7,757.9 1731.3,758.6 1731.7,763.4 1732.3,830 1732.7,757.8 1733.3,757.3 1733.7,762.1 1734.3,762.7 1734.7,758.6 1735.3,755.9 1735.7,761.9 1736.3,761.1 1736.7,755.8 1737.3,754.1 1737.7,830 1738.3,759.2 1738.7,753.6 1739.3,754.9 1739.7,758.6 1740.3,758.4 1740.7,754.4 1741.3,755.9 1741.7,760.9 1742.3,758.2 1742.7,754 1743.3,753.3 1743.7,758.3 1744.3,755.9 1744.7,753.5 1745.3,750.8 1745.7,757.1 1746.3,755.8 1746.7,751.9 1747.3,750.6 1747.7,830 1748.3,753.6 1748.7,751.8 1749.3,749.1 1749.7,754.7 1750.3,752.7 1750.7,747.4 1751.3,747.5 1751.7,749.9 1752.3,749.6 1752.7,745.7 1753.3,743.9 1753.7,750.4 1754.3,747.5 1754.7,744.5 1755.3,745 1755.7,747.5 1756.3,744 1756.7,742 1757.3,740.7 1757.7,743.4 1758.3,740.6 1758.7,739.9 1759.3,736.7 1759.7,741 1760.3,737.5 1760.7,735.6 1761.3,732.8 1761.7,735.3 1762.3,732.4 1762.7,731.1 1763.3,727.3 1763.7,730.4 1764.3,727.4 1764.7,725.6 1765.3,678.7 1765.7,724.3 1766.3,661.7 1766.7,605.7 1767.3,596.5 1767.7,600.6 1768.3,661.7 1768.7,605.7 1769.3,678.7 1769.7,724.7 1770.3,728.6 1770.7,725.6 1771.3,727.5 1771.7,730.7 1772.3,732.8 1772.7,730.3 1773.3,731 1773.7,735.1 1774.3,738.6 1774.7,734.4 1775.3,738.2 1775.7,739.9 1776.3,742.8 1776.7,738 1777.3,741.2 1777.7,744 1778.3,745.3 1778.7,741.5 1779.3,743.8 1779.7,747.8 1780.3,746.7 1780.7,744.8 1781.3,744.8 1781.7,749.1 1782.3,751.1 1782.7,745.7 1783.3,748.8 1783.7,750.3 1784.3,751.8 1784.7,749.4 1785.3,751.5 1785.7,756.5 1786.3,754 1786.7,749.7 1787.3,751 1787.7,756.6 1788.3,756.8 1788.7,753.2 1789.3,751.8 1789.7,756.4 1790.3,758.3 1790.7,751.5 1791.3,753.6 1791.7,757.4 1792.3,758.2 1792.7,753.8 1793.3,752.2 1793.7,758.5 1794.3,759.3 1794.7,753.1 1795.3,753.3 1795.7,759.2 1796.3,758.6 1796.7,755.6 1797.3,757.2 1797.7,762.2 1798.3,759.8 1798.7,757.9 1799.3,756.1 1799.7,760.5 1800.3,762.4 1800.7,757.6 1801.3,757.8 1801.7,763 1802.3,763.3 1802.7,755.6 1803.3,757.9 1803.7,761.9 1804.3,761.4 1804.7,757.4 1805.3,757.9 1805.7,830 1806.3,762.3 1806.7,755.2 1807.3,755.7 1807.7,800.8 1808.3,830 1808.7,758.2 1809.3,758.8 1809.7,764 1810.3,830 1810.7,762.6 1811.3,761 1811.7,830 1812.3,766.7 1812.7,757 1813.3,761.3 1813.7,830 1814.3,765 1814.7,760.3 1815.3,759.5 1815.7,830 1816.3,767.5 1816.7,759.9 1817.3,759.1 1817.7,766.5 1818.3,830 1818.7,757.6 1819.3,759.2 1819.7,765.1 1820.3,765.1 1820.7,761.8 1821.3,757 1821.7,830 1822.3,765.5 1822.7,760.3 1823.3,764 1823.7,830 1824.3,830 1824.7,759.7 1825.3,759.3 1825.7,830 1826.3,767.8 1826.7,760.7 1827.3,760.9 1827.7,767.1 1828.3,830 1828.7,758.5 1829.3,761.1 1829.7,830 1830.3,830 1830.7,764 1831.3,762.1 1831.7,830 1832.3,830 1832.7,760.4 1833.3,760.6 1833.7,768.1 1834.3,830 1834.7,759.7 1835.3,762.6 1835.7,830 1836.3,830 1836.7,760.8 1837.3,761.6 1837.7,822.5 1838.3,768.2 1838.7,764 1839.3,765.7 1839.7,830 1840.3,830 1840.7,761.2 1841.3,761.2 1841.7,830 1842.3,768.3 1842.7,761.5 1843.3,761.8 1843.7,830 1844.3,830 1844.7,763.3 1845.3,763.4 1845.7,830 1846.3,766.9 1846.7,763.1 1847.3,760.3 1847.7,766.6 1848.3,830 1848.7,766 1849.3,760 1849.7,770.4 1850.3,830 1850.7,762.9 1851.3,757.8 1851.7,830 1852.3,830 1852.7,762.2 1853.3,763.5 1853.7,830 1854.3,818.1 1854.7,764.9 1855.3,759.8 1855.7,830 1856.3,830 1856.7,761.5 1857.3,765.7 1857.7,830 1858.3,769.5 1858.7,763.2 1859.3,766.8 1859.7,830 1860.3,782.1 1860.7,764.3 1861.3,765 1861.7,830 1862.3,830 1862.7,761.9 1863.3,761.2 1863.7,830 1864.3,830 1864.7,761 1865.3,762.3 1865.7,769.2 1866.3,830 1866.7,760.1 1867.3,764.6 1867.7,768.5 1868.3,765.3 1868.7,763.1 1869.3,763.1 1869.7,830 1870.3,830 1870.7,764.8 1871.3,762.1 1871.7,830 1872.3,830 1872.7,761.9 1873.3,767 1873.7,830 1874.3,830 1874.7,762.3 1875.3,762.6 1875.7,830 1876.3,830 1876.7,763.3 1877.3,765.4 1877.7,830 1878.3,772.1 1878.7,759.9 1879.3,764.4 1879.7,770.5 1880.3,830 1880.7,763.4 1881.3,761.9 1881.7,773.3 1882.3,814.7 1882.7,764 1883.3,760.2 1883.7,830 1884.3,830 1884.7,763.8 1885.3,764.3 1885.7,830 1886.3,830 1886.7,762.7 1887.3,767.3 1887.7,830 1888.3,830 1888.7,762 1889.3,762.7 1889.7,769.2 1890.3,830 1890.7,763 1891.3,763.6 1891.7,830 1892.3,830 1892.7,762.9 1893.3,764.4 1893.7,830 1894.3,830 1894.7,765 1895.3,767.8 1895.7,830 1896.3,830 1896.7,762.3 1897.3,764.4 1897.7,830 1898.3,830 1898.7,761.8 1899.3,766.7 1899.7,830 1900.3,830 1900.7,763.9 1901.3,765.3 1901.7,830 1902.3,830 1902.7,760.4 1903.3,762.2 1903.7,771.9 1904.3,830 1904.7,765.9 1905.3,763.7 1905.7,830 1906.3,830 1906.7,764.4 1907.3,766.4 1907.7,823.4 1908.3,830 1908.7,763.9 1909.3,763.7 1909.7,830 1910.3,830 1910.7,771.7 1911.3,763.2 1911.7,830 1912.3,830 1912.7,765.6 1913.3,764.2 1913.7,830 1914.3,767.6 1914.7,761.7 1915.3,761 1915.7,830 1916.3,830 1916.7,762.5 1917.3,767 1917.7,830 1918.3,830 1918.7,764.5 1919.3,761 1919.7,830 1920.3,830 1920.7,769.5 1921.3,764.7 1921.7,773.2 1922.3,772.5 1922.7,764.5 1923.3,762.5 1923.7,830 1924.3,830 1924.7,767.8 1925.3,761.8 1925.7,768.1 1926.3,787.2 1926.7,765.2 1927.3,764.9 1927.7,830 1928.3,772.1 1928.7,763.9 1929.3,765.6 1929.7,818.8 1930.3,830 1930.7,764.8 1931.3,763.3 1931.7,830 1932.3,769.3 1932.7,761.8 1933.3,763.4 1933.7,830 1934.3,830 1934.7,761.6 1935.3,765.9 1935.7,830 1936.3,771.5 1936.7,763.6 1937.3,766.9 1937.7,830 1938.3,830 1938.7,765.9 1939.3,761.7 1939.7,830 1940.3,830 1940.7,765.1 1941.3,763.9 1941.7,803.5 1942.3,830 1942.7,763.7 1943.3,762.8 1943.7,774.1 1944.3,830 1944.7,765.3 1945.3,760.4 1945.7,830 1946.3,830 1946.7,763.1 1947.3,764.3 1947.7,830 1948.3,830 1948.7,765.6 1949.3,764.5 1949.7,830 1950.3,830 1950.7,764.5 1951.3,764.4 1951.7,830 1952.3,830 1952.7,767.5 1953.3,764.5 1953.7,773.4 1954.3,771 1954.7,762.2 1955.3,763.8 1955.7,830 1956.3,770.2 1956.7,763.1 1957.3,764.5 1957.7,830 1958.3,830 1958.7,763.9 1959.3,767.8 1959.7,830 1960.3,830 1960.7,758.5 1961.3,762.1 1961.7,830 1962.3,830 1962.7,762.5 1963.3,758.6 1963.7,830 1964.3,830 1964.7,759.3 1965.3,764 1965.7,768.4 1966.3,830 1966.7,767.1 1967.3,761.4 1967.7,769.7 1968.3,830 1968.7,766.1 1969.3,762.5 1969.7,830 1970.3,830 1970.7,764.8 1971.3,765.6 1971.7,830 1972.3,830 1972.7,765.8 1973.3,765.9 1973.7,830 1974.3,809.5 1974.7,761.8 1975.3,764.6 1975.7,830 1976.3,774.4 1976.7,767.3 1977.3,766.7 1977.7,830 1978.3,830 1978.7,762.4 1979.3,764.3 1979.7,830 1980.3,830 1980.7,760 1981.3,763.9 1981.7,830 1982.3,769.1 1982.7,763.6 1983.3,762.5 1983.7,768.4 1984.3,830 1984.7,762.7 1985.3,761.7 1985.7,830 1986.3,830 1986.7,763.1 1987.3,763.5 1987.7,768.8 1988.3,830 1988.7,763.5 1989.3,764.8 1989.7,830 1990.3,830 1990.7,759.1 1991.3,764.2 1991.7,830 1992.3,830 1992.7,763.4 1993.3,760.5 1993.7,767.4 1994.3,768.9 1994.7,764.8 1995.3,763.6 1995.7,822 1996.3,830 1996.7,763.1 1997.3,761.2 1997.7,830 1998.3,830 1998.7,763.5 1999.3,763.9 1999.7,824.3 2000.3,830 2000.7,759.8 2001.3,763 2001.7,768.4 2002.3,830 2002.7,768.9 2003.3,765.2 2003.7,830 2004.3,830 2004.7,761.9 2005.3,766.6 2005.7,830 2006.3,772.1 2006.7,765 2007.3,760.6 2007.7,827.2 2008.3,771.1 2008.7,763.8 2009.3,760.3 2009.7,830 2010.3,830 2010.7,761.6 2011.3,760.4 2011.7,830 2012.3,766 2012.7,761.5 2013.3,763.8 2013.7,766.4 2014.3,771.7 2014.7,760.2 2015.3,761.2 2015.7,768.9 2016.3,830 2016.7,762.4 2017.3,760.4 2017.7,830 2018.3,821.7 2018.7,762.7 2019.3,761.7 2019.7,794.1 2020.3,830 2020.7,764.5 2021.3,762.1 2021.7,830 2022.3,830 2022.7,764.5 2023.3,763.8 2023.7,814.8 2024.3,830 2024.7,764.2 2025.3,761.6 2025.7,830 2026.3,830 2026.7,766.3 2027.3,764.7 2027.7,830 2028.3,830 2028.7,758.8 2029.3,761.4 2029.7,826 2030.3,830 2030.7,761.9 2031.3,762.5 2031.7,830 2032.3,830 2032.7,760.7 2033.3,763.2 2033.7,830 2034.3,771.4 2034.7,762.9 2035.3,763.9 2035.7,830 2036.3,768.4 2036.7,760.4 2037.3,762.4 2037.7,767.2 2038.3,830 2038.7,761.6 2039.3,764.8 2039.7,772.3 2040.3,768 2040.7,763 2041.3,758.5 2041.7,830 2042.3,767.7 2042.7,763.9 2043.3,761.3 2043.7,768.9 2044.3,773.8 2044.7,758.1 2045.3,762.9 2045.7,769.5 2046.3,808.1 2046.7,760.3 2047.3,764.2 2047.7,830 2048.3,830 2048.7,760 2049.3,757.9 2049.7,768.6 2050.3,830 2050.7,758.8 2051.3,758.4 2051.7,767.2 2052.3,830 2052.7,763 2053.3,760 2053.7,830 2054.3,764.2 2054.7,758.6 2055.3,760.4 2055.7,830 2056.3,767.9 2056.7,759.7 2057.3,759.9 2057.7,827.2 2058.3,763.1 2058.7,759.4 2059.3,758.7 2059.7,830 2060.3,768 2060.7,759.1 2061.3,757 2061.7,764.9 2062.3,762.6 2062.7,758.6 2063.3,756.5 2063.7,763 2064.3,763 2064.7,756.2 2065.3,757.2 2065.7,766.6 2066.3,764.2 2066.7,757.6 2067.3,755 2067.7,830 2068.3,758.8 2068.7,756.7 2069.3,754.7 2069.7,762.1 2070.3,761.8 2070.7,756.1 2071.3,753.8 2071.7,758.1 2072.3,757.8 2072.7,754.5 2073.3,752.6 2073.7,755.9 2074.3,758.4 2074.7,755.4 2075.3,750.3 2075.7,753.9 2076.3,755 2076.7,751 2077.3,748.9 2077.7,752.6 2078.3,752.3 2078.7,746.6 2079.3,747.1 2079.7,748.9 2080.3,748 2080.7,745.2 2081.3,742.4 2081.7,746.4 2082.3,742.3 2082.7,739.7 2083.3,737.7 2083.7,739.9 2084.3,737.7 2084.7,733.4 2085.3,730.4 2085.7,733.9 2086.3,729.9 2086.7,725.1 2087.1,723.4 2087.5,726.2" fill="none" stroke="#000" stroke-width="4.6" stroke-linejoin="round" stroke-linecap="butt" clip-path="url(#clipB3)"/>
<line x1="69.6" y1="834.8" x2="79.4" y2="834.8" stroke="#000" stroke-width="3.6" stroke-linecap="butt"/>
<line x1="69.6" y1="821" x2="79.4" y2="821" stroke="#000" stroke-width="3.6" stroke-linecap="butt"/>
<line x1="69.6" y1="811.2" x2="79.4" y2="811.2" stroke="#000" stroke-width="3.6" stroke-linecap="butt"/>
<line x1="69.6" y1="803.6" x2="79.4" y2="803.6" stroke="#000" stroke-width="3.6" stroke-linecap="butt"/>
<line x1="69.6" y1="797.4" x2="79.4" y2="797.4" stroke="#000" stroke-width="3.6" stroke-linecap="butt"/>
<line x1="69.6" y1="792.1" x2="79.4" y2="792.1" stroke="#000" stroke-width="3.6" stroke-linecap="butt"/>
<line x1="69.6" y1="787.6" x2="79.4" y2="787.6" stroke="#000" stroke-width="3.6" stroke-linecap="butt"/>
<line x1="69.6" y1="783.6" x2="79.4" y2="783.6" stroke="#000" stroke-width="3.6" stroke-linecap="butt"/>
<line x1="69.6" y1="780" x2="90" y2="780" stroke="#000" stroke-width="4.4" stroke-linecap="butt"/>
<line x1="69.6" y1="756.4" x2="79.4" y2="756.4" stroke="#000" stroke-width="3.6" stroke-linecap="butt"/>
<line x1="69.6" y1="742.6" x2="79.4" y2="742.6" stroke="#000" stroke-width="3.6" stroke-linecap="butt"/>
<line x1="69.6" y1="732.8" x2="79.4" y2="732.8" stroke="#000" stroke-width="3.6" stroke-linecap="butt"/>
<line x1="69.6" y1="725.2" x2="79.4" y2="725.2" stroke="#000" stroke-width="3.6" stroke-linecap="butt"/>
<line x1="69.6" y1="719" x2="79.4" y2="719" stroke="#000" stroke-width="3.6" stroke-linecap="butt"/>
<line x1="69.6" y1="713.7" x2="79.4" y2="713.7" stroke="#000" stroke-width="3.6" stroke-linecap="butt"/>
<line x1="69.6" y1="709.2" x2="79.4" y2="709.2" stroke="#000" stroke-width="3.6" stroke-linecap="butt"/>
<line x1="69.6" y1="705.2" x2="79.4" y2="705.2" stroke="#000" stroke-width="3.6" stroke-linecap="butt"/>
<line x1="69.6" y1="701.6" x2="90" y2="701.6" stroke="#000" stroke-width="4.4" stroke-linecap="butt"/>
<line x1="69.6" y1="678" x2="79.4" y2="678" stroke="#000" stroke-width="3.6" stroke-linecap="butt"/>
<line x1="69.6" y1="664.2" x2="79.4" y2="664.2" stroke="#000" stroke-width="3.6" stroke-linecap="butt"/>
<line x1="69.6" y1="654.4" x2="79.4" y2="654.4" stroke="#000" stroke-width="3.6" stroke-linecap="butt"/>
<line x1="69.6" y1="646.8" x2="79.4" y2="646.8" stroke="#000" stroke-width="3.6" stroke-linecap="butt"/>
<line x1="69.6" y1="640.6" x2="79.4" y2="640.6" stroke="#000" stroke-width="3.6" stroke-linecap="butt"/>
<line x1="69.6" y1="635.3" x2="79.4" y2="635.3" stroke="#000" stroke-width="3.6" stroke-linecap="butt"/>
<line x1="69.6" y1="630.8" x2="79.4" y2="630.8" stroke="#000" stroke-width="3.6" stroke-linecap="butt"/>
<line x1="69.6" y1="626.8" x2="79.4" y2="626.8" stroke="#000" stroke-width="3.6" stroke-linecap="butt"/>
<line x1="69.6" y1="623.2" x2="90" y2="623.2" stroke="#000" stroke-width="4.4" stroke-linecap="butt"/>
<line x1="69.6" y1="599.6" x2="79.4" y2="599.6" stroke="#000" stroke-width="3.6" stroke-linecap="butt"/>
<line x1="69.6" y1="585.8" x2="79.4" y2="585.8" stroke="#000" stroke-width="3.6" stroke-linecap="butt"/>
<line x1="69.6" y1="576" x2="79.4" y2="576" stroke="#000" stroke-width="3.6" stroke-linecap="butt"/>
<line x1="69.6" y1="568.4" x2="79.4" y2="568.4" stroke="#000" stroke-width="3.6" stroke-linecap="butt"/>
<line x1="69.6" y1="562.2" x2="79.4" y2="562.2" stroke="#000" stroke-width="3.6" stroke-linecap="butt"/>
<line x1="69.6" y1="556.9" x2="79.4" y2="556.9" stroke="#000" stroke-width="3.6" stroke-linecap="butt"/>
<line x1="69.6" y1="552.4" x2="79.4" y2="552.4" stroke="#000" stroke-width="3.6" stroke-linecap="butt"/>
<line x1="69.6" y1="548.4" x2="79.4" y2="548.4" stroke="#000" stroke-width="3.6" stroke-linecap="butt"/>
<line x1="69.6" y1="544.8" x2="90" y2="544.8" stroke="#000" stroke-width="4.4" stroke-linecap="butt"/>
<line x1="69.6" y1="521.2" x2="79.4" y2="521.2" stroke="#000" stroke-width="3.6" stroke-linecap="butt"/>
<line x1="69.6" y1="507.4" x2="79.4" y2="507.4" stroke="#000" stroke-width="3.6" stroke-linecap="butt"/>
<line x1="69.6" y1="497.6" x2="79.4" y2="497.6" stroke="#000" stroke-width="3.6" stroke-linecap="butt"/>
<line x1="69.6" y1="490" x2="79.4" y2="490" stroke="#000" stroke-width="3.6" stroke-linecap="butt"/>
<line x1="69.6" y1="483.8" x2="79.4" y2="483.8" stroke="#000" stroke-width="3.6" stroke-linecap="butt"/>
<line x1="69.6" y1="478.5" x2="79.4" y2="478.5" stroke="#000" stroke-width="3.6" stroke-linecap="butt"/>
<line x1="69.6" y1="474" x2="79.4" y2="474" stroke="#000" stroke-width="3.6" stroke-linecap="butt"/>
<line x1="69.6" y1="470" x2="79.4" y2="470" stroke="#000" stroke-width="3.6" stroke-linecap="butt"/>
<line x1="69.6" y1="466.4" x2="90" y2="466.4" stroke="#000" stroke-width="4.4" stroke-linecap="butt"/>
<line x1="69.6" y1="442.8" x2="79.4" y2="442.8" stroke="#000" stroke-width="3.6" stroke-linecap="butt"/>
<line x1="69.6" y1="429" x2="79.4" y2="429" stroke="#000" stroke-width="3.6" stroke-linecap="butt"/>
<line x1="69.6" y1="419.2" x2="79.4" y2="419.2" stroke="#000" stroke-width="3.6" stroke-linecap="butt"/>
<line x1="69.6" y1="411.6" x2="79.4" y2="411.6" stroke="#000" stroke-width="3.6" stroke-linecap="butt"/>
<line x1="69.6" y1="405.4" x2="79.4" y2="405.4" stroke="#000" stroke-width="3.6" stroke-linecap="butt"/>
<line x1="69.6" y1="400.1" x2="79.4" y2="400.1" stroke="#000" stroke-width="3.6" stroke-linecap="butt"/>
<line x1="69.6" y1="395.6" x2="79.4" y2="395.6" stroke="#000" stroke-width="3.6" stroke-linecap="butt"/>
<line x1="69.6" y1="391.6" x2="79.4" y2="391.6" stroke="#000" stroke-width="3.6" stroke-linecap="butt"/>
<line x1="69.6" y1="388" x2="90" y2="388" stroke="#000" stroke-width="4.4" stroke-linecap="butt"/>
<line x1="69.6" y1="364.4" x2="79.4" y2="364.4" stroke="#000" stroke-width="3.6" stroke-linecap="butt"/>
<line x1="69.6" y1="350.6" x2="79.4" y2="350.6" stroke="#000" stroke-width="3.6" stroke-linecap="butt"/>
<line x1="69.6" y1="340.8" x2="79.4" y2="340.8" stroke="#000" stroke-width="3.6" stroke-linecap="butt"/>
<line x1="69.6" y1="333.2" x2="79.4" y2="333.2" stroke="#000" stroke-width="3.6" stroke-linecap="butt"/>
<line x1="69.6" y1="327" x2="79.4" y2="327" stroke="#000" stroke-width="3.6" stroke-linecap="butt"/>
<line x1="69.6" y1="321.7" x2="79.4" y2="321.7" stroke="#000" stroke-width="3.6" stroke-linecap="butt"/>
<line x1="69.6" y1="317.2" x2="79.4" y2="317.2" stroke="#000" stroke-width="3.6" stroke-linecap="butt"/>
<line x1="69.6" y1="313.2" x2="79.4" y2="313.2" stroke="#000" stroke-width="3.6" stroke-linecap="butt"/>
<line x1="69.6" y1="309.6" x2="90" y2="309.6" stroke="#000" stroke-width="4.4" stroke-linecap="butt"/>
<line x1="69.6" y1="286" x2="79.4" y2="286" stroke="#000" stroke-width="3.6" stroke-linecap="butt"/>
<line x1="69.6" y1="272.2" x2="79.4" y2="272.2" stroke="#000" stroke-width="3.6" stroke-linecap="butt"/>
<line x1="69.6" y1="262.4" x2="79.4" y2="262.4" stroke="#000" stroke-width="3.6" stroke-linecap="butt"/>
<line x1="69.6" y1="254.8" x2="79.4" y2="254.8" stroke="#000" stroke-width="3.6" stroke-linecap="butt"/>
<line x1="69.6" y1="248.6" x2="79.4" y2="248.6" stroke="#000" stroke-width="3.6" stroke-linecap="butt"/>
<line x1="69.6" y1="243.3" x2="79.4" y2="243.3" stroke="#000" stroke-width="3.6" stroke-linecap="butt"/>
<line x1="69.6" y1="238.8" x2="79.4" y2="238.8" stroke="#000" stroke-width="3.6" stroke-linecap="butt"/>
<line x1="69.6" y1="234.8" x2="79.4" y2="234.8" stroke="#000" stroke-width="3.6" stroke-linecap="butt"/>
<line x1="69.6" y1="231.2" x2="90" y2="231.2" stroke="#000" stroke-width="4.4" stroke-linecap="butt"/>
<line x1="69.6" y1="207.6" x2="79.4" y2="207.6" stroke="#000" stroke-width="3.6" stroke-linecap="butt"/>
<line x1="69.6" y1="193.8" x2="79.4" y2="193.8" stroke="#000" stroke-width="3.6" stroke-linecap="butt"/>
<line x1="69.6" y1="184" x2="79.4" y2="184" stroke="#000" stroke-width="3.6" stroke-linecap="butt"/>
<line x1="69.6" y1="176.4" x2="79.4" y2="176.4" stroke="#000" stroke-width="3.6" stroke-linecap="butt"/>
<line x1="69.6" y1="170.2" x2="79.4" y2="170.2" stroke="#000" stroke-width="3.6" stroke-linecap="butt"/>
<line x1="69.6" y1="164.9" x2="79.4" y2="164.9" stroke="#000" stroke-width="3.6" stroke-linecap="butt"/>
<line x1="69.6" y1="160.4" x2="79.4" y2="160.4" stroke="#000" stroke-width="3.6" stroke-linecap="butt"/>
<line x1="69.6" y1="156.4" x2="79.4" y2="156.4" stroke="#000" stroke-width="3.6" stroke-linecap="butt"/>
<line x1="69.6" y1="152.8" x2="90" y2="152.8" stroke="#000" stroke-width="4.4" stroke-linecap="butt"/>
<line x1="69.6" y1="129.2" x2="79.4" y2="129.2" stroke="#000" stroke-width="3.6" stroke-linecap="butt"/>
<line x1="69.6" y1="115.4" x2="79.4" y2="115.4" stroke="#000" stroke-width="3.6" stroke-linecap="butt"/>
<line x1="69.6" y1="105.6" x2="79.4" y2="105.6" stroke="#000" stroke-width="3.6" stroke-linecap="butt"/>
<line x1="69.6" y1="98" x2="79.4" y2="98" stroke="#000" stroke-width="3.6" stroke-linecap="butt"/>
<line x1="69.6" y1="91.8" x2="79.4" y2="91.8" stroke="#000" stroke-width="3.6" stroke-linecap="butt"/>
<line x1="69.6" y1="86.5" x2="79.4" y2="86.5" stroke="#000" stroke-width="3.6" stroke-linecap="butt"/>
<line x1="69.6" y1="82" x2="79.4" y2="82" stroke="#000" stroke-width="3.6" stroke-linecap="butt"/>
<line x1="69.6" y1="78" x2="79.4" y2="78" stroke="#000" stroke-width="3.6" stroke-linecap="butt"/>
<line x1="1339" y1="834.8" x2="1328.4" y2="834.8" stroke="#000" stroke-width="3.6" stroke-linecap="butt"/>
<line x1="1339" y1="821" x2="1328.4" y2="821" stroke="#000" stroke-width="3.6" stroke-linecap="butt"/>
<line x1="1339" y1="811.2" x2="1328.4" y2="811.2" stroke="#000" stroke-width="3.6" stroke-linecap="butt"/>
<line x1="1339" y1="803.6" x2="1328.4" y2="803.6" stroke="#000" stroke-width="3.6" stroke-linecap="butt"/>
<line x1="1339" y1="797.4" x2="1328.4" y2="797.4" stroke="#000" stroke-width="3.6" stroke-linecap="butt"/>
<line x1="1339" y1="792.1" x2="1328.4" y2="792.1" stroke="#000" stroke-width="3.6" stroke-linecap="butt"/>
<line x1="1339" y1="787.6" x2="1328.4" y2="787.6" stroke="#000" stroke-width="3.6" stroke-linecap="butt"/>
<line x1="1339" y1="783.6" x2="1328.4" y2="783.6" stroke="#000" stroke-width="3.6" stroke-linecap="butt"/>
<line x1="1339" y1="780" x2="1318" y2="780" stroke="#000" stroke-width="4.4" stroke-linecap="butt"/>
<line x1="1339" y1="756.4" x2="1328.4" y2="756.4" stroke="#000" stroke-width="3.6" stroke-linecap="butt"/>
<line x1="1339" y1="742.6" x2="1328.4" y2="742.6" stroke="#000" stroke-width="3.6" stroke-linecap="butt"/>
<line x1="1339" y1="732.8" x2="1328.4" y2="732.8" stroke="#000" stroke-width="3.6" stroke-linecap="butt"/>
<line x1="1339" y1="725.2" x2="1328.4" y2="725.2" stroke="#000" stroke-width="3.6" stroke-linecap="butt"/>
<line x1="1339" y1="719" x2="1328.4" y2="719" stroke="#000" stroke-width="3.6" stroke-linecap="butt"/>
<line x1="1339" y1="713.7" x2="1328.4" y2="713.7" stroke="#000" stroke-width="3.6" stroke-linecap="butt"/>
<line x1="1339" y1="709.2" x2="1328.4" y2="709.2" stroke="#000" stroke-width="3.6" stroke-linecap="butt"/>
<line x1="1339" y1="705.2" x2="1328.4" y2="705.2" stroke="#000" stroke-width="3.6" stroke-linecap="butt"/>
<line x1="1339" y1="701.6" x2="1318" y2="701.6" stroke="#000" stroke-width="4.4" stroke-linecap="butt"/>
<line x1="1339" y1="678" x2="1328.4" y2="678" stroke="#000" stroke-width="3.6" stroke-linecap="butt"/>
<line x1="1339" y1="664.2" x2="1328.4" y2="664.2" stroke="#000" stroke-width="3.6" stroke-linecap="butt"/>
<line x1="1339" y1="654.4" x2="1328.4" y2="654.4" stroke="#000" stroke-width="3.6" stroke-linecap="butt"/>
<line x1="1339" y1="646.8" x2="1328.4" y2="646.8" stroke="#000" stroke-width="3.6" stroke-linecap="butt"/>
<line x1="1339" y1="640.6" x2="1328.4" y2="640.6" stroke="#000" stroke-width="3.6" stroke-linecap="butt"/>
<line x1="1339" y1="635.3" x2="1328.4" y2="635.3" stroke="#000" stroke-width="3.6" stroke-linecap="butt"/>
<line x1="1339" y1="630.8" x2="1328.4" y2="630.8" stroke="#000" stroke-width="3.6" stroke-linecap="butt"/>
<line x1="1339" y1="626.8" x2="1328.4" y2="626.8" stroke="#000" stroke-width="3.6" stroke-linecap="butt"/>
<line x1="1339" y1="623.2" x2="1318" y2="623.2" stroke="#000" stroke-width="4.4" stroke-linecap="butt"/>
<line x1="1339" y1="599.6" x2="1328.4" y2="599.6" stroke="#000" stroke-width="3.6" stroke-linecap="butt"/>
<line x1="1339" y1="585.8" x2="1328.4" y2="585.8" stroke="#000" stroke-width="3.6" stroke-linecap="butt"/>
<line x1="1339" y1="576" x2="1328.4" y2="576" stroke="#000" stroke-width="3.6" stroke-linecap="butt"/>
<line x1="1339" y1="568.4" x2="1328.4" y2="568.4" stroke="#000" stroke-width="3.6" stroke-linecap="butt"/>
<line x1="1339" y1="562.2" x2="1328.4" y2="562.2" stroke="#000" stroke-width="3.6" stroke-linecap="butt"/>
<line x1="1339" y1="556.9" x2="1328.4" y2="556.9" stroke="#000" stroke-width="3.6" stroke-linecap="butt"/>
<line x1="1339" y1="552.4" x2="1328.4" y2="552.4" stroke="#000" stroke-width="3.6" stroke-linecap="butt"/>
<line x1="1339" y1="548.4" x2="1328.4" y2="548.4" stroke="#000" stroke-width="3.6" stroke-linecap="butt"/>
<line x1="1339" y1="544.8" x2="1318" y2="544.8" stroke="#000" stroke-width="4.4" stroke-linecap="butt"/>
<line x1="1339" y1="521.2" x2="1328.4" y2="521.2" stroke="#000" stroke-width="3.6" stroke-linecap="butt"/>
<line x1="1339" y1="507.4" x2="1328.4" y2="507.4" stroke="#000" stroke-width="3.6" stroke-linecap="butt"/>
<line x1="1339" y1="497.6" x2="1328.4" y2="497.6" stroke="#000" stroke-width="3.6" stroke-linecap="butt"/>
<line x1="1339" y1="490" x2="1328.4" y2="490" stroke="#000" stroke-width="3.6" stroke-linecap="butt"/>
<line x1="1339" y1="483.8" x2="1328.4" y2="483.8" stroke="#000" stroke-width="3.6" stroke-linecap="butt"/>
<line x1="1339" y1="478.5" x2="1328.4" y2="478.5" stroke="#000" stroke-width="3.6" stroke-linecap="butt"/>
<line x1="1339" y1="474" x2="1328.4" y2="474" stroke="#000" stroke-width="3.6" stroke-linecap="butt"/>
<line x1="1339" y1="470" x2="1328.4" y2="470" stroke="#000" stroke-width="3.6" stroke-linecap="butt"/>
<line x1="1339" y1="466.4" x2="1318" y2="466.4" stroke="#000" stroke-width="4.4" stroke-linecap="butt"/>
<line x1="1339" y1="442.8" x2="1328.4" y2="442.8" stroke="#000" stroke-width="3.6" stroke-linecap="butt"/>
<line x1="1339" y1="429" x2="1328.4" y2="429" stroke="#000" stroke-width="3.6" stroke-linecap="butt"/>
<line x1="1339" y1="419.2" x2="1328.4" y2="419.2" stroke="#000" stroke-width="3.6" stroke-linecap="butt"/>
<line x1="1339" y1="411.6" x2="1328.4" y2="411.6" stroke="#000" stroke-width="3.6" stroke-linecap="butt"/>
<line x1="1339" y1="405.4" x2="1328.4" y2="405.4" stroke="#000" stroke-width="3.6" stroke-linecap="butt"/>
<line x1="1339" y1="400.1" x2="1328.4" y2="400.1" stroke="#000" stroke-width="3.6" stroke-linecap="butt"/>
<line x1="1339" y1="395.6" x2="1328.4" y2="395.6" stroke="#000" stroke-width="3.6" stroke-linecap="butt"/>
<line x1="1339" y1="391.6" x2="1328.4" y2="391.6" stroke="#000" stroke-width="3.6" stroke-linecap="butt"/>
<line x1="1339" y1="388" x2="1318" y2="388" stroke="#000" stroke-width="4.4" stroke-linecap="butt"/>
<line x1="1339" y1="364.4" x2="1328.4" y2="364.4" stroke="#000" stroke-width="3.6" stroke-linecap="butt"/>
<line x1="1339" y1="350.6" x2="1328.4" y2="350.6" stroke="#000" stroke-width="3.6" stroke-linecap="butt"/>
<line x1="1339" y1="340.8" x2="1328.4" y2="340.8" stroke="#000" stroke-width="3.6" stroke-linecap="butt"/>
<line x1="1339" y1="333.2" x2="1328.4" y2="333.2" stroke="#000" stroke-width="3.6" stroke-linecap="butt"/>
<line x1="1339" y1="327" x2="1328.4" y2="327" stroke="#000" stroke-width="3.6" stroke-linecap="butt"/>
<line x1="1339" y1="321.7" x2="1328.4" y2="321.7" stroke="#000" stroke-width="3.6" stroke-linecap="butt"/>
<line x1="1339" y1="317.2" x2="1328.4" y2="317.2" stroke="#000" stroke-width="3.6" stroke-linecap="butt"/>
<line x1="1339" y1="313.2" x2="1328.4" y2="313.2" stroke="#000" stroke-width="3.6" stroke-linecap="butt"/>
<line x1="1339" y1="309.6" x2="1318" y2="309.6" stroke="#000" stroke-width="4.4" stroke-linecap="butt"/>
<line x1="1339" y1="286" x2="1328.4" y2="286" stroke="#000" stroke-width="3.6" stroke-linecap="butt"/>
<line x1="1339" y1="272.2" x2="1328.4" y2="272.2" stroke="#000" stroke-width="3.6" stroke-linecap="butt"/>
<line x1="1339" y1="262.4" x2="1328.4" y2="262.4" stroke="#000" stroke-width="3.6" stroke-linecap="butt"/>
<line x1="1339" y1="254.8" x2="1328.4" y2="254.8" stroke="#000" stroke-width="3.6" stroke-linecap="butt"/>
<line x1="1339" y1="248.6" x2="1328.4" y2="248.6" stroke="#000" stroke-width="3.6" stroke-linecap="butt"/>
<line x1="1339" y1="243.3" x2="1328.4" y2="243.3" stroke="#000" stroke-width="3.6" stroke-linecap="butt"/>
<line x1="1339" y1="238.8" x2="1328.4" y2="238.8" stroke="#000" stroke-width="3.6" stroke-linecap="butt"/>
<line x1="1339" y1="234.8" x2="1328.4" y2="234.8" stroke="#000" stroke-width="3.6" stroke-linecap="butt"/>
<line x1="1339" y1="231.2" x2="1318" y2="231.2" stroke="#000" stroke-width="4.4" stroke-linecap="butt"/>
<line x1="1339" y1="207.6" x2="1328.4" y2="207.6" stroke="#000" stroke-width="3.6" stroke-linecap="butt"/>
<line x1="1339" y1="193.8" x2="1328.4" y2="193.8" stroke="#000" stroke-width="3.6" stroke-linecap="butt"/>
<line x1="1339" y1="184" x2="1328.4" y2="184" stroke="#000" stroke-width="3.6" stroke-linecap="butt"/>
<line x1="1339" y1="176.4" x2="1328.4" y2="176.4" stroke="#000" stroke-width="3.6" stroke-linecap="butt"/>
<line x1="1339" y1="170.2" x2="1328.4" y2="170.2" stroke="#000" stroke-width="3.6" stroke-linecap="butt"/>
<line x1="1339" y1="164.9" x2="1328.4" y2="164.9" stroke="#000" stroke-width="3.6" stroke-linecap="butt"/>
<line x1="1339" y1="160.4" x2="1328.4" y2="160.4" stroke="#000" stroke-width="3.6" stroke-linecap="butt"/>
<line x1="1339" y1="156.4" x2="1328.4" y2="156.4" stroke="#000" stroke-width="3.6" stroke-linecap="butt"/>
<line x1="1339" y1="152.8" x2="1318" y2="152.8" stroke="#000" stroke-width="4.4" stroke-linecap="butt"/>
<line x1="1339" y1="129.2" x2="1328.4" y2="129.2" stroke="#000" stroke-width="3.6" stroke-linecap="butt"/>
<line x1="1339" y1="115.4" x2="1328.4" y2="115.4" stroke="#000" stroke-width="3.6" stroke-linecap="butt"/>
<line x1="1339" y1="105.6" x2="1328.4" y2="105.6" stroke="#000" stroke-width="3.6" stroke-linecap="butt"/>
<line x1="1339" y1="98" x2="1328.4" y2="98" stroke="#000" stroke-width="3.6" stroke-linecap="butt"/>
<line x1="1339" y1="91.8" x2="1328.4" y2="91.8" stroke="#000" stroke-width="3.6" stroke-linecap="butt"/>
<line x1="1339" y1="86.5" x2="1328.4" y2="86.5" stroke="#000" stroke-width="3.6" stroke-linecap="butt"/>
<line x1="1339" y1="82" x2="1328.4" y2="82" stroke="#000" stroke-width="3.6" stroke-linecap="butt"/>
<line x1="1339" y1="78" x2="1328.4" y2="78" stroke="#000" stroke-width="3.6" stroke-linecap="butt"/>
<line x1="165" y1="77.3" x2="165" y2="97.6" stroke="#000" stroke-width="3.6" stroke-linecap="butt"/>
<line x1="165" y1="856.5" x2="165" y2="835.5" stroke="#000" stroke-width="3.6" stroke-linecap="butt"/>
<line x1="361" y1="77.3" x2="361" y2="97.6" stroke="#000" stroke-width="3.6" stroke-linecap="butt"/>
<line x1="361" y1="856.5" x2="361" y2="835.5" stroke="#000" stroke-width="3.6" stroke-linecap="butt"/>
<line x1="557" y1="77.3" x2="557" y2="97.6" stroke="#000" stroke-width="3.6" stroke-linecap="butt"/>
<line x1="557" y1="856.5" x2="557" y2="835.5" stroke="#000" stroke-width="3.6" stroke-linecap="butt"/>
<line x1="753" y1="77.3" x2="753" y2="97.6" stroke="#000" stroke-width="3.6" stroke-linecap="butt"/>
<line x1="753" y1="856.5" x2="753" y2="835.5" stroke="#000" stroke-width="3.6" stroke-linecap="butt"/>
<line x1="949" y1="77.3" x2="949" y2="97.6" stroke="#000" stroke-width="3.6" stroke-linecap="butt"/>
<line x1="949" y1="856.5" x2="949" y2="835.5" stroke="#000" stroke-width="3.6" stroke-linecap="butt"/>
<line x1="1145" y1="77.3" x2="1145" y2="97.6" stroke="#000" stroke-width="3.6" stroke-linecap="butt"/>
<line x1="1145" y1="856.5" x2="1145" y2="835.5" stroke="#000" stroke-width="3.6" stroke-linecap="butt"/>
<rect x="67.1" y="74.8" width="1274.4" height="784.1" fill="none" stroke="#000" stroke-width="5"/>
<line x1="69.6" y1="1048.6" x2="79.1" y2="1048.6" stroke="#000" stroke-width="3.6" stroke-linecap="butt"/>
<line x1="69.6" y1="1045.3" x2="79.1" y2="1045.3" stroke="#000" stroke-width="3.6" stroke-linecap="butt"/>
<line x1="69.6" y1="1042.5" x2="79.1" y2="1042.5" stroke="#000" stroke-width="3.6" stroke-linecap="butt"/>
<line x1="69.6" y1="1040" x2="79.1" y2="1040" stroke="#000" stroke-width="3.6" stroke-linecap="butt"/>
<line x1="69.6" y1="1037.7" x2="93.1" y2="1037.7" stroke="#000" stroke-width="4.4" stroke-linecap="butt"/>
<line x1="69.6" y1="1022.9" x2="79.1" y2="1022.9" stroke="#000" stroke-width="3.6" stroke-linecap="butt"/>
<line x1="69.6" y1="1014.2" x2="79.1" y2="1014.2" stroke="#000" stroke-width="3.6" stroke-linecap="butt"/>
<line x1="69.6" y1="1008.1" x2="79.1" y2="1008.1" stroke="#000" stroke-width="3.6" stroke-linecap="butt"/>
<line x1="69.6" y1="1003.3" x2="79.1" y2="1003.3" stroke="#000" stroke-width="3.6" stroke-linecap="butt"/>
<line x1="69.6" y1="999.4" x2="79.1" y2="999.4" stroke="#000" stroke-width="3.6" stroke-linecap="butt"/>
<line x1="69.6" y1="996.1" x2="79.1" y2="996.1" stroke="#000" stroke-width="3.6" stroke-linecap="butt"/>
<line x1="69.6" y1="993.3" x2="79.1" y2="993.3" stroke="#000" stroke-width="3.6" stroke-linecap="butt"/>
<line x1="69.6" y1="990.8" x2="79.1" y2="990.8" stroke="#000" stroke-width="3.6" stroke-linecap="butt"/>
<line x1="69.6" y1="988.5" x2="93.1" y2="988.5" stroke="#000" stroke-width="4.4" stroke-linecap="butt"/>
<line x1="69.6" y1="973.7" x2="79.1" y2="973.7" stroke="#000" stroke-width="3.6" stroke-linecap="butt"/>
<line x1="69.6" y1="965" x2="79.1" y2="965" stroke="#000" stroke-width="3.6" stroke-linecap="butt"/>
<line x1="69.6" y1="958.9" x2="79.1" y2="958.9" stroke="#000" stroke-width="3.6" stroke-linecap="butt"/>
<line x1="69.6" y1="954.1" x2="79.1" y2="954.1" stroke="#000" stroke-width="3.6" stroke-linecap="butt"/>
<line x1="69.6" y1="950.2" x2="79.1" y2="950.2" stroke="#000" stroke-width="3.6" stroke-linecap="butt"/>
<line x1="69.6" y1="946.9" x2="79.1" y2="946.9" stroke="#000" stroke-width="3.6" stroke-linecap="butt"/>
<line x1="69.6" y1="944.1" x2="79.1" y2="944.1" stroke="#000" stroke-width="3.6" stroke-linecap="butt"/>
<line x1="69.6" y1="941.6" x2="79.1" y2="941.6" stroke="#000" stroke-width="3.6" stroke-linecap="butt"/>
<line x1="69.6" y1="939.3" x2="93.1" y2="939.3" stroke="#000" stroke-width="4.4" stroke-linecap="butt"/>
<line x1="69.6" y1="924.5" x2="79.1" y2="924.5" stroke="#000" stroke-width="3.6" stroke-linecap="butt"/>
<line x1="69.6" y1="915.8" x2="79.1" y2="915.8" stroke="#000" stroke-width="3.6" stroke-linecap="butt"/>
<line x1="69.6" y1="909.7" x2="79.1" y2="909.7" stroke="#000" stroke-width="3.6" stroke-linecap="butt"/>
<line x1="69.6" y1="904.9" x2="79.1" y2="904.9" stroke="#000" stroke-width="3.6" stroke-linecap="butt"/>
<line x1="69.6" y1="901" x2="79.1" y2="901" stroke="#000" stroke-width="3.6" stroke-linecap="butt"/>
<line x1="69.6" y1="897.7" x2="79.1" y2="897.7" stroke="#000" stroke-width="3.6" stroke-linecap="butt"/>
<line x1="69.6" y1="894.9" x2="79.1" y2="894.9" stroke="#000" stroke-width="3.6" stroke-linecap="butt"/>
<line x1="69.6" y1="892.4" x2="79.1" y2="892.4" stroke="#000" stroke-width="3.6" stroke-linecap="butt"/>
<line x1="1339" y1="1048.6" x2="1328.7" y2="1048.6" stroke="#000" stroke-width="3.6" stroke-linecap="butt"/>
<line x1="1339" y1="1045.3" x2="1328.7" y2="1045.3" stroke="#000" stroke-width="3.6" stroke-linecap="butt"/>
<line x1="1339" y1="1042.5" x2="1328.7" y2="1042.5" stroke="#000" stroke-width="3.6" stroke-linecap="butt"/>
<line x1="1339" y1="1040" x2="1328.7" y2="1040" stroke="#000" stroke-width="3.6" stroke-linecap="butt"/>
<line x1="1339" y1="1037.7" x2="1314.9" y2="1037.7" stroke="#000" stroke-width="4.4" stroke-linecap="butt"/>
<line x1="1339" y1="1022.9" x2="1328.7" y2="1022.9" stroke="#000" stroke-width="3.6" stroke-linecap="butt"/>
<line x1="1339" y1="1014.2" x2="1328.7" y2="1014.2" stroke="#000" stroke-width="3.6" stroke-linecap="butt"/>
<line x1="1339" y1="1008.1" x2="1328.7" y2="1008.1" stroke="#000" stroke-width="3.6" stroke-linecap="butt"/>
<line x1="1339" y1="1003.3" x2="1328.7" y2="1003.3" stroke="#000" stroke-width="3.6" stroke-linecap="butt"/>
<line x1="1339" y1="999.4" x2="1328.7" y2="999.4" stroke="#000" stroke-width="3.6" stroke-linecap="butt"/>
<line x1="1339" y1="996.1" x2="1328.7" y2="996.1" stroke="#000" stroke-width="3.6" stroke-linecap="butt"/>
<line x1="1339" y1="993.3" x2="1328.7" y2="993.3" stroke="#000" stroke-width="3.6" stroke-linecap="butt"/>
<line x1="1339" y1="990.8" x2="1328.7" y2="990.8" stroke="#000" stroke-width="3.6" stroke-linecap="butt"/>
<line x1="1339" y1="988.5" x2="1314.9" y2="988.5" stroke="#000" stroke-width="4.4" stroke-linecap="butt"/>
<line x1="1339" y1="973.7" x2="1328.7" y2="973.7" stroke="#000" stroke-width="3.6" stroke-linecap="butt"/>
<line x1="1339" y1="965" x2="1328.7" y2="965" stroke="#000" stroke-width="3.6" stroke-linecap="butt"/>
<line x1="1339" y1="958.9" x2="1328.7" y2="958.9" stroke="#000" stroke-width="3.6" stroke-linecap="butt"/>
<line x1="1339" y1="954.1" x2="1328.7" y2="954.1" stroke="#000" stroke-width="3.6" stroke-linecap="butt"/>
<line x1="1339" y1="950.2" x2="1328.7" y2="950.2" stroke="#000" stroke-width="3.6" stroke-linecap="butt"/>
<line x1="1339" y1="946.9" x2="1328.7" y2="946.9" stroke="#000" stroke-width="3.6" stroke-linecap="butt"/>
<line x1="1339" y1="944.1" x2="1328.7" y2="944.1" stroke="#000" stroke-width="3.6" stroke-linecap="butt"/>
<line x1="1339" y1="941.6" x2="1328.7" y2="941.6" stroke="#000" stroke-width="3.6" stroke-linecap="butt"/>
<line x1="1339" y1="939.3" x2="1314.9" y2="939.3" stroke="#000" stroke-width="4.4" stroke-linecap="butt"/>
<line x1="1339" y1="924.5" x2="1328.7" y2="924.5" stroke="#000" stroke-width="3.6" stroke-linecap="butt"/>
<line x1="1339" y1="915.8" x2="1328.7" y2="915.8" stroke="#000" stroke-width="3.6" stroke-linecap="butt"/>
<line x1="1339" y1="909.7" x2="1328.7" y2="909.7" stroke="#000" stroke-width="3.6" stroke-linecap="butt"/>
<line x1="1339" y1="904.9" x2="1328.7" y2="904.9" stroke="#000" stroke-width="3.6" stroke-linecap="butt"/>
<line x1="1339" y1="901" x2="1328.7" y2="901" stroke="#000" stroke-width="3.6" stroke-linecap="butt"/>
<line x1="1339" y1="897.7" x2="1328.7" y2="897.7" stroke="#000" stroke-width="3.6" stroke-linecap="butt"/>
<line x1="1339" y1="894.9" x2="1328.7" y2="894.9" stroke="#000" stroke-width="3.6" stroke-linecap="butt"/>
<line x1="1339" y1="892.4" x2="1328.7" y2="892.4" stroke="#000" stroke-width="3.6" stroke-linecap="butt"/>
<line x1="165" y1="892.2" x2="165" y2="919.2" stroke="#000" stroke-width="3.6" stroke-linecap="butt"/>
<line x1="165" y1="1050.8" x2="165" y2="1022.8" stroke="#000" stroke-width="3.6" stroke-linecap="butt"/>
<line x1="361" y1="892.2" x2="361" y2="919.2" stroke="#000" stroke-width="3.6" stroke-linecap="butt"/>
<line x1="361" y1="1050.8" x2="361" y2="1022.8" stroke="#000" stroke-width="3.6" stroke-linecap="butt"/>
<line x1="557" y1="892.2" x2="557" y2="919.2" stroke="#000" stroke-width="3.6" stroke-linecap="butt"/>
<line x1="557" y1="1050.8" x2="557" y2="1022.8" stroke="#000" stroke-width="3.6" stroke-linecap="butt"/>
<line x1="753" y1="892.2" x2="753" y2="919.2" stroke="#000" stroke-width="3.6" stroke-linecap="butt"/>
<line x1="753" y1="1050.8" x2="753" y2="1022.8" stroke="#000" stroke-width="3.6" stroke-linecap="butt"/>
<line x1="949" y1="892.2" x2="949" y2="919.2" stroke="#000" stroke-width="3.6" stroke-linecap="butt"/>
<line x1="949" y1="1050.8" x2="949" y2="1022.8" stroke="#000" stroke-width="3.6" stroke-linecap="butt"/>
<line x1="1145" y1="892.2" x2="1145" y2="919.2" stroke="#000" stroke-width="3.6" stroke-linecap="butt"/>
<line x1="1145" y1="1050.8" x2="1145" y2="1022.8" stroke="#000" stroke-width="3.6" stroke-linecap="butt"/>
<rect x="67.1" y="889.7" width="1274.4" height="163.6" fill="none" stroke="#000" stroke-width="5"/>
<line x1="69.6" y1="1226.2" x2="79.1" y2="1226.2" stroke="#000" stroke-width="3.6" stroke-linecap="butt"/>
<line x1="69.6" y1="1223.2" x2="79.1" y2="1223.2" stroke="#000" stroke-width="3.6" stroke-linecap="butt"/>
<line x1="69.6" y1="1220.6" x2="79.1" y2="1220.6" stroke="#000" stroke-width="3.6" stroke-linecap="butt"/>
<line x1="69.6" y1="1218.3" x2="79.1" y2="1218.3" stroke="#000" stroke-width="3.6" stroke-linecap="butt"/>
<line x1="69.6" y1="1216.3" x2="92.6" y2="1216.3" stroke="#000" stroke-width="4.4" stroke-linecap="butt"/>
<line x1="69.6" y1="1202.8" x2="79.1" y2="1202.8" stroke="#000" stroke-width="3.6" stroke-linecap="butt"/>
<line x1="69.6" y1="1194.9" x2="79.1" y2="1194.9" stroke="#000" stroke-width="3.6" stroke-linecap="butt"/>
<line x1="69.6" y1="1189.3" x2="79.1" y2="1189.3" stroke="#000" stroke-width="3.6" stroke-linecap="butt"/>
<line x1="69.6" y1="1185" x2="79.1" y2="1185" stroke="#000" stroke-width="3.6" stroke-linecap="butt"/>
<line x1="69.6" y1="1181.4" x2="79.1" y2="1181.4" stroke="#000" stroke-width="3.6" stroke-linecap="butt"/>
<line x1="69.6" y1="1178.4" x2="79.1" y2="1178.4" stroke="#000" stroke-width="3.6" stroke-linecap="butt"/>
<line x1="69.6" y1="1175.8" x2="79.1" y2="1175.8" stroke="#000" stroke-width="3.6" stroke-linecap="butt"/>
<line x1="69.6" y1="1173.5" x2="79.1" y2="1173.5" stroke="#000" stroke-width="3.6" stroke-linecap="butt"/>
<line x1="69.6" y1="1171.5" x2="92.6" y2="1171.5" stroke="#000" stroke-width="4.4" stroke-linecap="butt"/>
<line x1="69.6" y1="1158" x2="79.1" y2="1158" stroke="#000" stroke-width="3.6" stroke-linecap="butt"/>
<line x1="69.6" y1="1150.1" x2="79.1" y2="1150.1" stroke="#000" stroke-width="3.6" stroke-linecap="butt"/>
<line x1="69.6" y1="1144.5" x2="79.1" y2="1144.5" stroke="#000" stroke-width="3.6" stroke-linecap="butt"/>
<line x1="69.6" y1="1140.2" x2="79.1" y2="1140.2" stroke="#000" stroke-width="3.6" stroke-linecap="butt"/>
<line x1="69.6" y1="1136.6" x2="79.1" y2="1136.6" stroke="#000" stroke-width="3.6" stroke-linecap="butt"/>
<line x1="69.6" y1="1133.6" x2="79.1" y2="1133.6" stroke="#000" stroke-width="3.6" stroke-linecap="butt"/>
<line x1="69.6" y1="1131" x2="79.1" y2="1131" stroke="#000" stroke-width="3.6" stroke-linecap="butt"/>
<line x1="69.6" y1="1128.7" x2="79.1" y2="1128.7" stroke="#000" stroke-width="3.6" stroke-linecap="butt"/>
<line x1="69.6" y1="1126.7" x2="92.6" y2="1126.7" stroke="#000" stroke-width="4.4" stroke-linecap="butt"/>
<line x1="69.6" y1="1113.2" x2="79.1" y2="1113.2" stroke="#000" stroke-width="3.6" stroke-linecap="butt"/>
<line x1="69.6" y1="1105.3" x2="79.1" y2="1105.3" stroke="#000" stroke-width="3.6" stroke-linecap="butt"/>
<line x1="69.6" y1="1099.7" x2="79.1" y2="1099.7" stroke="#000" stroke-width="3.6" stroke-linecap="butt"/>
<line x1="69.6" y1="1095.4" x2="79.1" y2="1095.4" stroke="#000" stroke-width="3.6" stroke-linecap="butt"/>
<line x1="69.6" y1="1091.8" x2="79.1" y2="1091.8" stroke="#000" stroke-width="3.6" stroke-linecap="butt"/>
<line x1="69.6" y1="1088.8" x2="79.1" y2="1088.8" stroke="#000" stroke-width="3.6" stroke-linecap="butt"/>
<line x1="69.6" y1="1086.2" x2="79.1" y2="1086.2" stroke="#000" stroke-width="3.6" stroke-linecap="butt"/>
<line x1="1339" y1="1226.2" x2="1328.7" y2="1226.2" stroke="#000" stroke-width="3.6" stroke-linecap="butt"/>
<line x1="1339" y1="1223.2" x2="1328.7" y2="1223.2" stroke="#000" stroke-width="3.6" stroke-linecap="butt"/>
<line x1="1339" y1="1220.6" x2="1328.7" y2="1220.6" stroke="#000" stroke-width="3.6" stroke-linecap="butt"/>
<line x1="1339" y1="1218.3" x2="1328.7" y2="1218.3" stroke="#000" stroke-width="3.6" stroke-linecap="butt"/>
<line x1="1339" y1="1216.3" x2="1315.4" y2="1216.3" stroke="#000" stroke-width="4.4" stroke-linecap="butt"/>
<line x1="1339" y1="1202.8" x2="1328.7" y2="1202.8" stroke="#000" stroke-width="3.6" stroke-linecap="butt"/>
<line x1="1339" y1="1194.9" x2="1328.7" y2="1194.9" stroke="#000" stroke-width="3.6" stroke-linecap="butt"/>
<line x1="1339" y1="1189.3" x2="1328.7" y2="1189.3" stroke="#000" stroke-width="3.6" stroke-linecap="butt"/>
<line x1="1339" y1="1185" x2="1328.7" y2="1185" stroke="#000" stroke-width="3.6" stroke-linecap="butt"/>
<line x1="1339" y1="1181.4" x2="1328.7" y2="1181.4" stroke="#000" stroke-width="3.6" stroke-linecap="butt"/>
<line x1="1339" y1="1178.4" x2="1328.7" y2="1178.4" stroke="#000" stroke-width="3.6" stroke-linecap="butt"/>
<line x1="1339" y1="1175.8" x2="1328.7" y2="1175.8" stroke="#000" stroke-width="3.6" stroke-linecap="butt"/>
<line x1="1339" y1="1173.5" x2="1328.7" y2="1173.5" stroke="#000" stroke-width="3.6" stroke-linecap="butt"/>
<line x1="1339" y1="1171.5" x2="1315.4" y2="1171.5" stroke="#000" stroke-width="4.4" stroke-linecap="butt"/>
<line x1="1339" y1="1158" x2="1328.7" y2="1158" stroke="#000" stroke-width="3.6" stroke-linecap="butt"/>
<line x1="1339" y1="1150.1" x2="1328.7" y2="1150.1" stroke="#000" stroke-width="3.6" stroke-linecap="butt"/>
<line x1="1339" y1="1144.5" x2="1328.7" y2="1144.5" stroke="#000" stroke-width="3.6" stroke-linecap="butt"/>
<line x1="1339" y1="1140.2" x2="1328.7" y2="1140.2" stroke="#000" stroke-width="3.6" stroke-linecap="butt"/>
<line x1="1339" y1="1136.6" x2="1328.7" y2="1136.6" stroke="#000" stroke-width="3.6" stroke-linecap="butt"/>
<line x1="1339" y1="1133.6" x2="1328.7" y2="1133.6" stroke="#000" stroke-width="3.6" stroke-linecap="butt"/>
<line x1="1339" y1="1131" x2="1328.7" y2="1131" stroke="#000" stroke-width="3.6" stroke-linecap="butt"/>
<line x1="1339" y1="1128.7" x2="1328.7" y2="1128.7" stroke="#000" stroke-width="3.6" stroke-linecap="butt"/>
<line x1="1339" y1="1126.7" x2="1315.4" y2="1126.7" stroke="#000" stroke-width="4.4" stroke-linecap="butt"/>
<line x1="1339" y1="1113.2" x2="1328.7" y2="1113.2" stroke="#000" stroke-width="3.6" stroke-linecap="butt"/>
<line x1="1339" y1="1105.3" x2="1328.7" y2="1105.3" stroke="#000" stroke-width="3.6" stroke-linecap="butt"/>
<line x1="1339" y1="1099.7" x2="1328.7" y2="1099.7" stroke="#000" stroke-width="3.6" stroke-linecap="butt"/>
<line x1="1339" y1="1095.4" x2="1328.7" y2="1095.4" stroke="#000" stroke-width="3.6" stroke-linecap="butt"/>
<line x1="1339" y1="1091.8" x2="1328.7" y2="1091.8" stroke="#000" stroke-width="3.6" stroke-linecap="butt"/>
<line x1="1339" y1="1088.8" x2="1328.7" y2="1088.8" stroke="#000" stroke-width="3.6" stroke-linecap="butt"/>
<line x1="1339" y1="1086.2" x2="1328.7" y2="1086.2" stroke="#000" stroke-width="3.6" stroke-linecap="butt"/>
<line x1="165" y1="1085.7" x2="165" y2="1108.7" stroke="#000" stroke-width="3.6" stroke-linecap="butt"/>
<line x1="165" y1="1226.4" x2="165" y2="1201.8" stroke="#000" stroke-width="3.6" stroke-linecap="butt"/>
<line x1="361" y1="1085.7" x2="361" y2="1108.7" stroke="#000" stroke-width="3.6" stroke-linecap="butt"/>
<line x1="361" y1="1226.4" x2="361" y2="1201.8" stroke="#000" stroke-width="3.6" stroke-linecap="butt"/>
<line x1="557" y1="1085.7" x2="557" y2="1108.7" stroke="#000" stroke-width="3.6" stroke-linecap="butt"/>
<line x1="557" y1="1226.4" x2="557" y2="1201.8" stroke="#000" stroke-width="3.6" stroke-linecap="butt"/>
<line x1="753" y1="1085.7" x2="753" y2="1108.7" stroke="#000" stroke-width="3.6" stroke-linecap="butt"/>
<line x1="753" y1="1226.4" x2="753" y2="1201.8" stroke="#000" stroke-width="3.6" stroke-linecap="butt"/>
<line x1="949" y1="1085.7" x2="949" y2="1108.7" stroke="#000" stroke-width="3.6" stroke-linecap="butt"/>
<line x1="949" y1="1226.4" x2="949" y2="1201.8" stroke="#000" stroke-width="3.6" stroke-linecap="butt"/>
<line x1="1145" y1="1085.7" x2="1145" y2="1108.7" stroke="#000" stroke-width="3.6" stroke-linecap="butt"/>
<line x1="1145" y1="1226.4" x2="1145" y2="1201.8" stroke="#000" stroke-width="3.6" stroke-linecap="butt"/>
<rect x="67.1" y="1083.2" width="1274.4" height="145.7" fill="none" stroke="#000" stroke-width="5"/>
<line x1="1449.2" y1="295.9" x2="1457.5" y2="295.9" stroke="#000" stroke-width="3.8" stroke-linecap="butt"/>
<line x1="1449.2" y1="285.3" x2="1457.5" y2="285.3" stroke="#000" stroke-width="3.8" stroke-linecap="butt"/>
<line x1="1449.2" y1="277.8" x2="1457.5" y2="277.8" stroke="#000" stroke-width="3.8" stroke-linecap="butt"/>
<line x1="1449.2" y1="272" x2="1457.5" y2="272" stroke="#000" stroke-width="3.8" stroke-linecap="butt"/>
<line x1="1449.2" y1="267.2" x2="1457.5" y2="267.2" stroke="#000" stroke-width="3.8" stroke-linecap="butt"/>
<line x1="1449.2" y1="263.2" x2="1457.5" y2="263.2" stroke="#000" stroke-width="3.8" stroke-linecap="butt"/>
<line x1="1449.2" y1="259.7" x2="1457.5" y2="259.7" stroke="#000" stroke-width="3.8" stroke-linecap="butt"/>
<line x1="1449.2" y1="256.6" x2="1457.5" y2="256.6" stroke="#000" stroke-width="3.8" stroke-linecap="butt"/>
<line x1="1449.2" y1="253.8" x2="1471.2" y2="253.8" stroke="#000" stroke-width="3.8" stroke-linecap="butt"/>
<line x1="1449.2" y1="235.7" x2="1457.5" y2="235.7" stroke="#000" stroke-width="3.8" stroke-linecap="butt"/>
<line x1="1449.2" y1="225.2" x2="1457.5" y2="225.2" stroke="#000" stroke-width="3.8" stroke-linecap="butt"/>
<line x1="1449.2" y1="217.6" x2="1457.5" y2="217.6" stroke="#000" stroke-width="3.8" stroke-linecap="butt"/>
<line x1="1449.2" y1="211.8" x2="1457.5" y2="211.8" stroke="#000" stroke-width="3.8" stroke-linecap="butt"/>
<line x1="1449.2" y1="207" x2="1457.5" y2="207" stroke="#000" stroke-width="3.8" stroke-linecap="butt"/>
<line x1="1449.2" y1="203" x2="1457.5" y2="203" stroke="#000" stroke-width="3.8" stroke-linecap="butt"/>
<line x1="1449.2" y1="199.5" x2="1457.5" y2="199.5" stroke="#000" stroke-width="3.8" stroke-linecap="butt"/>
<line x1="1449.2" y1="196.5" x2="1457.5" y2="196.5" stroke="#000" stroke-width="3.8" stroke-linecap="butt"/>
<line x1="1449.2" y1="193.7" x2="1471.2" y2="193.7" stroke="#000" stroke-width="3.8" stroke-linecap="butt"/>
<line x1="1449.2" y1="175.6" x2="1457.5" y2="175.6" stroke="#000" stroke-width="3.8" stroke-linecap="butt"/>
<line x1="1449.2" y1="165" x2="1457.5" y2="165" stroke="#000" stroke-width="3.8" stroke-linecap="butt"/>
<line x1="1449.2" y1="157.5" x2="1457.5" y2="157.5" stroke="#000" stroke-width="3.8" stroke-linecap="butt"/>
<line x1="1449.2" y1="151.7" x2="1457.5" y2="151.7" stroke="#000" stroke-width="3.8" stroke-linecap="butt"/>
<line x1="1449.2" y1="146.9" x2="1457.5" y2="146.9" stroke="#000" stroke-width="3.8" stroke-linecap="butt"/>
<line x1="1449.2" y1="142.9" x2="1457.5" y2="142.9" stroke="#000" stroke-width="3.8" stroke-linecap="butt"/>
<line x1="1449.2" y1="139.4" x2="1457.5" y2="139.4" stroke="#000" stroke-width="3.8" stroke-linecap="butt"/>
<line x1="1449.2" y1="136.3" x2="1457.5" y2="136.3" stroke="#000" stroke-width="3.8" stroke-linecap="butt"/>
<line x1="1449.2" y1="133.6" x2="1471.2" y2="133.6" stroke="#000" stroke-width="3.8" stroke-linecap="butt"/>
<line x1="1449.2" y1="115.4" x2="1457.5" y2="115.4" stroke="#000" stroke-width="3.8" stroke-linecap="butt"/>
<line x1="1449.2" y1="104.9" x2="1457.5" y2="104.9" stroke="#000" stroke-width="3.8" stroke-linecap="butt"/>
<line x1="1449.2" y1="97.3" x2="1457.5" y2="97.3" stroke="#000" stroke-width="3.8" stroke-linecap="butt"/>
<line x1="1449.2" y1="91.5" x2="1457.5" y2="91.5" stroke="#000" stroke-width="3.8" stroke-linecap="butt"/>
<line x1="1449.2" y1="86.7" x2="1457.5" y2="86.7" stroke="#000" stroke-width="3.8" stroke-linecap="butt"/>
<line x1="1449.2" y1="82.7" x2="1457.5" y2="82.7" stroke="#000" stroke-width="3.8" stroke-linecap="butt"/>
<line x1="1449.2" y1="79.2" x2="1457.5" y2="79.2" stroke="#000" stroke-width="3.8" stroke-linecap="butt"/>
<line x1="1449.2" y1="76.2" x2="1457.5" y2="76.2" stroke="#000" stroke-width="3.8" stroke-linecap="butt"/>
<line x1="2086.8" y1="295.9" x2="2078.5" y2="295.9" stroke="#000" stroke-width="3.8" stroke-linecap="butt"/>
<line x1="2086.8" y1="285.3" x2="2078.5" y2="285.3" stroke="#000" stroke-width="3.8" stroke-linecap="butt"/>
<line x1="2086.8" y1="277.8" x2="2078.5" y2="277.8" stroke="#000" stroke-width="3.8" stroke-linecap="butt"/>
<line x1="2086.8" y1="272" x2="2078.5" y2="272" stroke="#000" stroke-width="3.8" stroke-linecap="butt"/>
<line x1="2086.8" y1="267.2" x2="2078.5" y2="267.2" stroke="#000" stroke-width="3.8" stroke-linecap="butt"/>
<line x1="2086.8" y1="263.2" x2="2078.5" y2="263.2" stroke="#000" stroke-width="3.8" stroke-linecap="butt"/>
<line x1="2086.8" y1="259.7" x2="2078.5" y2="259.7" stroke="#000" stroke-width="3.8" stroke-linecap="butt"/>
<line x1="2086.8" y1="256.6" x2="2078.5" y2="256.6" stroke="#000" stroke-width="3.8" stroke-linecap="butt"/>
<line x1="2086.8" y1="253.8" x2="2064.8" y2="253.8" stroke="#000" stroke-width="3.8" stroke-linecap="butt"/>
<line x1="2086.8" y1="235.7" x2="2078.5" y2="235.7" stroke="#000" stroke-width="3.8" stroke-linecap="butt"/>
<line x1="2086.8" y1="225.2" x2="2078.5" y2="225.2" stroke="#000" stroke-width="3.8" stroke-linecap="butt"/>
<line x1="2086.8" y1="217.6" x2="2078.5" y2="217.6" stroke="#000" stroke-width="3.8" stroke-linecap="butt"/>
<line x1="2086.8" y1="211.8" x2="2078.5" y2="211.8" stroke="#000" stroke-width="3.8" stroke-linecap="butt"/>
<line x1="2086.8" y1="207" x2="2078.5" y2="207" stroke="#000" stroke-width="3.8" stroke-linecap="butt"/>
<line x1="2086.8" y1="203" x2="2078.5" y2="203" stroke="#000" stroke-width="3.8" stroke-linecap="butt"/>
<line x1="2086.8" y1="199.5" x2="2078.5" y2="199.5" stroke="#000" stroke-width="3.8" stroke-linecap="butt"/>
<line x1="2086.8" y1="196.5" x2="2078.5" y2="196.5" stroke="#000" stroke-width="3.8" stroke-linecap="butt"/>
<line x1="2086.8" y1="193.7" x2="2064.8" y2="193.7" stroke="#000" stroke-width="3.8" stroke-linecap="butt"/>
<line x1="2086.8" y1="175.6" x2="2078.5" y2="175.6" stroke="#000" stroke-width="3.8" stroke-linecap="butt"/>
<line x1="2086.8" y1="165" x2="2078.5" y2="165" stroke="#000" stroke-width="3.8" stroke-linecap="butt"/>
<line x1="2086.8" y1="157.5" x2="2078.5" y2="157.5" stroke="#000" stroke-width="3.8" stroke-linecap="butt"/>
<line x1="2086.8" y1="151.7" x2="2078.5" y2="151.7" stroke="#000" stroke-width="3.8" stroke-linecap="butt"/>
<line x1="2086.8" y1="146.9" x2="2078.5" y2="146.9" stroke="#000" stroke-width="3.8" stroke-linecap="butt"/>
<line x1="2086.8" y1="142.9" x2="2078.5" y2="142.9" stroke="#000" stroke-width="3.8" stroke-linecap="butt"/>
<line x1="2086.8" y1="139.4" x2="2078.5" y2="139.4" stroke="#000" stroke-width="3.8" stroke-linecap="butt"/>
<line x1="2086.8" y1="136.3" x2="2078.5" y2="136.3" stroke="#000" stroke-width="3.8" stroke-linecap="butt"/>
<line x1="2086.8" y1="133.6" x2="2064.8" y2="133.6" stroke="#000" stroke-width="3.8" stroke-linecap="butt"/>
<line x1="2086.8" y1="115.4" x2="2078.5" y2="115.4" stroke="#000" stroke-width="3.8" stroke-linecap="butt"/>
<line x1="2086.8" y1="104.9" x2="2078.5" y2="104.9" stroke="#000" stroke-width="3.8" stroke-linecap="butt"/>
<line x1="2086.8" y1="97.3" x2="2078.5" y2="97.3" stroke="#000" stroke-width="3.8" stroke-linecap="butt"/>
<line x1="2086.8" y1="91.5" x2="2078.5" y2="91.5" stroke="#000" stroke-width="3.8" stroke-linecap="butt"/>
<line x1="2086.8" y1="86.7" x2="2078.5" y2="86.7" stroke="#000" stroke-width="3.8" stroke-linecap="butt"/>
<line x1="2086.8" y1="82.7" x2="2078.5" y2="82.7" stroke="#000" stroke-width="3.8" stroke-linecap="butt"/>
<line x1="2086.8" y1="79.2" x2="2078.5" y2="79.2" stroke="#000" stroke-width="3.8" stroke-linecap="butt"/>
<line x1="2086.8" y1="76.2" x2="2078.5" y2="76.2" stroke="#000" stroke-width="3.8" stroke-linecap="butt"/>
<line x1="1500.8" y1="75.4" x2="1500.8" y2="83.7" stroke="#000" stroke-width="3.0" stroke-linecap="butt"/>
<line x1="1500.8" y1="312" x2="1500.8" y2="303.7" stroke="#000" stroke-width="3.0" stroke-linecap="butt"/>
<line x1="1554.2" y1="75.4" x2="1554.2" y2="83.7" stroke="#000" stroke-width="3.0" stroke-linecap="butt"/>
<line x1="1554.2" y1="312" x2="1554.2" y2="303.7" stroke="#000" stroke-width="3.0" stroke-linecap="butt"/>
<line x1="1607.5" y1="75.4" x2="1607.5" y2="95.4" stroke="#000" stroke-width="3.0" stroke-linecap="butt"/>
<line x1="1607.5" y1="312" x2="1607.5" y2="292" stroke="#000" stroke-width="3.0" stroke-linecap="butt"/>
<line x1="1660.8" y1="75.4" x2="1660.8" y2="83.7" stroke="#000" stroke-width="3.0" stroke-linecap="butt"/>
<line x1="1660.8" y1="312" x2="1660.8" y2="303.7" stroke="#000" stroke-width="3.0" stroke-linecap="butt"/>
<line x1="1714.2" y1="75.4" x2="1714.2" y2="83.7" stroke="#000" stroke-width="3.0" stroke-linecap="butt"/>
<line x1="1714.2" y1="312" x2="1714.2" y2="303.7" stroke="#000" stroke-width="3.0" stroke-linecap="butt"/>
<line x1="1767.5" y1="75.4" x2="1767.5" y2="95.4" stroke="#000" stroke-width="3.0" stroke-linecap="butt"/>
<line x1="1767.5" y1="312" x2="1767.5" y2="292" stroke="#000" stroke-width="3.0" stroke-linecap="butt"/>
<line x1="1820.8" y1="75.4" x2="1820.8" y2="83.7" stroke="#000" stroke-width="3.0" stroke-linecap="butt"/>
<line x1="1820.8" y1="312" x2="1820.8" y2="303.7" stroke="#000" stroke-width="3.0" stroke-linecap="butt"/>
<line x1="1874.2" y1="75.4" x2="1874.2" y2="83.7" stroke="#000" stroke-width="3.0" stroke-linecap="butt"/>
<line x1="1874.2" y1="312" x2="1874.2" y2="303.7" stroke="#000" stroke-width="3.0" stroke-linecap="butt"/>
<line x1="1927.5" y1="75.4" x2="1927.5" y2="95.4" stroke="#000" stroke-width="3.0" stroke-linecap="butt"/>
<line x1="1927.5" y1="312" x2="1927.5" y2="292" stroke="#000" stroke-width="3.0" stroke-linecap="butt"/>
<line x1="1980.8" y1="75.4" x2="1980.8" y2="83.7" stroke="#000" stroke-width="3.0" stroke-linecap="butt"/>
<line x1="1980.8" y1="312" x2="1980.8" y2="303.7" stroke="#000" stroke-width="3.0" stroke-linecap="butt"/>
<line x1="2034.2" y1="75.4" x2="2034.2" y2="83.7" stroke="#000" stroke-width="3.0" stroke-linecap="butt"/>
<line x1="2034.2" y1="312" x2="2034.2" y2="303.7" stroke="#000" stroke-width="3.0" stroke-linecap="butt"/>
<rect x="1447.2" y="73.4" width="641.6" height="240.6" fill="none" stroke="#000" stroke-width="4"/>
<line x1="1449.2" y1="550.1" x2="1457.5" y2="550.1" stroke="#000" stroke-width="3.8" stroke-linecap="butt"/>
<line x1="1449.2" y1="541.7" x2="1457.5" y2="541.7" stroke="#000" stroke-width="3.8" stroke-linecap="butt"/>
<line x1="1449.2" y1="535.7" x2="1457.5" y2="535.7" stroke="#000" stroke-width="3.8" stroke-linecap="butt"/>
<line x1="1449.2" y1="531" x2="1457.5" y2="531" stroke="#000" stroke-width="3.8" stroke-linecap="butt"/>
<line x1="1449.2" y1="527.2" x2="1457.5" y2="527.2" stroke="#000" stroke-width="3.8" stroke-linecap="butt"/>
<line x1="1449.2" y1="524" x2="1457.5" y2="524" stroke="#000" stroke-width="3.8" stroke-linecap="butt"/>
<line x1="1449.2" y1="521.2" x2="1457.5" y2="521.2" stroke="#000" stroke-width="3.8" stroke-linecap="butt"/>
<line x1="1449.2" y1="518.7" x2="1457.5" y2="518.7" stroke="#000" stroke-width="3.8" stroke-linecap="butt"/>
<line x1="1449.2" y1="516.5" x2="1471.2" y2="516.5" stroke="#000" stroke-width="3.8" stroke-linecap="butt"/>
<line x1="1449.2" y1="502.1" x2="1457.5" y2="502.1" stroke="#000" stroke-width="3.8" stroke-linecap="butt"/>
<line x1="1449.2" y1="493.6" x2="1457.5" y2="493.6" stroke="#000" stroke-width="3.8" stroke-linecap="butt"/>
<line x1="1449.2" y1="487.6" x2="1457.5" y2="487.6" stroke="#000" stroke-width="3.8" stroke-linecap="butt"/>
<line x1="1449.2" y1="482.9" x2="1457.5" y2="482.9" stroke="#000" stroke-width="3.8" stroke-linecap="butt"/>
<line x1="1449.2" y1="479.1" x2="1457.5" y2="479.1" stroke="#000" stroke-width="3.8" stroke-linecap="butt"/>
<line x1="1449.2" y1="475.9" x2="1457.5" y2="475.9" stroke="#000" stroke-width="3.8" stroke-linecap="butt"/>
<line x1="1449.2" y1="473.1" x2="1457.5" y2="473.1" stroke="#000" stroke-width="3.8" stroke-linecap="butt"/>
<line x1="1449.2" y1="470.7" x2="1457.5" y2="470.7" stroke="#000" stroke-width="3.8" stroke-linecap="butt"/>
<line x1="1449.2" y1="468.5" x2="1471.2" y2="468.5" stroke="#000" stroke-width="3.8" stroke-linecap="butt"/>
<line x1="1449.2" y1="454" x2="1457.5" y2="454" stroke="#000" stroke-width="3.8" stroke-linecap="butt"/>
<line x1="1449.2" y1="445.5" x2="1457.5" y2="445.5" stroke="#000" stroke-width="3.8" stroke-linecap="butt"/>
<line x1="1449.2" y1="439.5" x2="1457.5" y2="439.5" stroke="#000" stroke-width="3.8" stroke-linecap="butt"/>
<line x1="1449.2" y1="434.9" x2="1457.5" y2="434.9" stroke="#000" stroke-width="3.8" stroke-linecap="butt"/>
<line x1="1449.2" y1="431.1" x2="1457.5" y2="431.1" stroke="#000" stroke-width="3.8" stroke-linecap="butt"/>
<line x1="1449.2" y1="427.9" x2="1457.5" y2="427.9" stroke="#000" stroke-width="3.8" stroke-linecap="butt"/>
<line x1="1449.2" y1="425.1" x2="1457.5" y2="425.1" stroke="#000" stroke-width="3.8" stroke-linecap="butt"/>
<line x1="1449.2" y1="422.6" x2="1457.5" y2="422.6" stroke="#000" stroke-width="3.8" stroke-linecap="butt"/>
<line x1="1449.2" y1="420.4" x2="1471.2" y2="420.4" stroke="#000" stroke-width="3.8" stroke-linecap="butt"/>
<line x1="1449.2" y1="406" x2="1457.5" y2="406" stroke="#000" stroke-width="3.8" stroke-linecap="butt"/>
<line x1="1449.2" y1="397.5" x2="1457.5" y2="397.5" stroke="#000" stroke-width="3.8" stroke-linecap="butt"/>
<line x1="1449.2" y1="391.5" x2="1457.5" y2="391.5" stroke="#000" stroke-width="3.8" stroke-linecap="butt"/>
<line x1="1449.2" y1="386.8" x2="1457.5" y2="386.8" stroke="#000" stroke-width="3.8" stroke-linecap="butt"/>
<line x1="1449.2" y1="383" x2="1457.5" y2="383" stroke="#000" stroke-width="3.8" stroke-linecap="butt"/>
<line x1="1449.2" y1="379.8" x2="1457.5" y2="379.8" stroke="#000" stroke-width="3.8" stroke-linecap="butt"/>
<line x1="1449.2" y1="377" x2="1457.5" y2="377" stroke="#000" stroke-width="3.8" stroke-linecap="butt"/>
<line x1="1449.2" y1="374.6" x2="1457.5" y2="374.6" stroke="#000" stroke-width="3.8" stroke-linecap="butt"/>
<line x1="1449.2" y1="372.4" x2="1471.2" y2="372.4" stroke="#000" stroke-width="3.8" stroke-linecap="butt"/>
<line x1="1449.2" y1="357.9" x2="1457.5" y2="357.9" stroke="#000" stroke-width="3.8" stroke-linecap="butt"/>
<line x1="1449.2" y1="349.4" x2="1457.5" y2="349.4" stroke="#000" stroke-width="3.8" stroke-linecap="butt"/>
<line x1="1449.2" y1="343.4" x2="1457.5" y2="343.4" stroke="#000" stroke-width="3.8" stroke-linecap="butt"/>
<line x1="1449.2" y1="338.8" x2="1457.5" y2="338.8" stroke="#000" stroke-width="3.8" stroke-linecap="butt"/>
<line x1="1449.2" y1="335" x2="1457.5" y2="335" stroke="#000" stroke-width="3.8" stroke-linecap="butt"/>
<line x1="1449.2" y1="331.7" x2="1457.5" y2="331.7" stroke="#000" stroke-width="3.8" stroke-linecap="butt"/>
<line x1="1449.2" y1="329" x2="1457.5" y2="329" stroke="#000" stroke-width="3.8" stroke-linecap="butt"/>
<line x1="1449.2" y1="326.5" x2="1457.5" y2="326.5" stroke="#000" stroke-width="3.8" stroke-linecap="butt"/>
<line x1="2086.8" y1="550.1" x2="2078.5" y2="550.1" stroke="#000" stroke-width="3.8" stroke-linecap="butt"/>
<line x1="2086.8" y1="541.7" x2="2078.5" y2="541.7" stroke="#000" stroke-width="3.8" stroke-linecap="butt"/>
<line x1="2086.8" y1="535.7" x2="2078.5" y2="535.7" stroke="#000" stroke-width="3.8" stroke-linecap="butt"/>
<line x1="2086.8" y1="531" x2="2078.5" y2="531" stroke="#000" stroke-width="3.8" stroke-linecap="butt"/>
<line x1="2086.8" y1="527.2" x2="2078.5" y2="527.2" stroke="#000" stroke-width="3.8" stroke-linecap="butt"/>
<line x1="2086.8" y1="524" x2="2078.5" y2="524" stroke="#000" stroke-width="3.8" stroke-linecap="butt"/>
<line x1="2086.8" y1="521.2" x2="2078.5" y2="521.2" stroke="#000" stroke-width="3.8" stroke-linecap="butt"/>
<line x1="2086.8" y1="518.7" x2="2078.5" y2="518.7" stroke="#000" stroke-width="3.8" stroke-linecap="butt"/>
<line x1="2086.8" y1="516.5" x2="2064.8" y2="516.5" stroke="#000" stroke-width="3.8" stroke-linecap="butt"/>
<line x1="2086.8" y1="502.1" x2="2078.5" y2="502.1" stroke="#000" stroke-width="3.8" stroke-linecap="butt"/>
<line x1="2086.8" y1="493.6" x2="2078.5" y2="493.6" stroke="#000" stroke-width="3.8" stroke-linecap="butt"/>
<line x1="2086.8" y1="487.6" x2="2078.5" y2="487.6" stroke="#000" stroke-width="3.8" stroke-linecap="butt"/>
<line x1="2086.8" y1="482.9" x2="2078.5" y2="482.9" stroke="#000" stroke-width="3.8" stroke-linecap="butt"/>
<line x1="2086.8" y1="479.1" x2="2078.5" y2="479.1" stroke="#000" stroke-width="3.8" stroke-linecap="butt"/>
<line x1="2086.8" y1="475.9" x2="2078.5" y2="475.9" stroke="#000" stroke-width="3.8" stroke-linecap="butt"/>
<line x1="2086.8" y1="473.1" x2="2078.5" y2="473.1" stroke="#000" stroke-width="3.8" stroke-linecap="butt"/>
<line x1="2086.8" y1="470.7" x2="2078.5" y2="470.7" stroke="#000" stroke-width="3.8" stroke-linecap="butt"/>
<line x1="2086.8" y1="468.5" x2="2064.8" y2="468.5" stroke="#000" stroke-width="3.8" stroke-linecap="butt"/>
<line x1="2086.8" y1="454" x2="2078.5" y2="454" stroke="#000" stroke-width="3.8" stroke-linecap="butt"/>
<line x1="2086.8" y1="445.5" x2="2078.5" y2="445.5" stroke="#000" stroke-width="3.8" stroke-linecap="butt"/>
<line x1="2086.8" y1="439.5" x2="2078.5" y2="439.5" stroke="#000" stroke-width="3.8" stroke-linecap="butt"/>
<line x1="2086.8" y1="434.9" x2="2078.5" y2="434.9" stroke="#000" stroke-width="3.8" stroke-linecap="butt"/>
<line x1="2086.8" y1="431.1" x2="2078.5" y2="431.1" stroke="#000" stroke-width="3.8" stroke-linecap="butt"/>
<line x1="2086.8" y1="427.9" x2="2078.5" y2="427.9" stroke="#000" stroke-width="3.8" stroke-linecap="butt"/>
<line x1="2086.8" y1="425.1" x2="2078.5" y2="425.1" stroke="#000" stroke-width="3.8" stroke-linecap="butt"/>
<line x1="2086.8" y1="422.6" x2="2078.5" y2="422.6" stroke="#000" stroke-width="3.8" stroke-linecap="butt"/>
<line x1="2086.8" y1="420.4" x2="2064.8" y2="420.4" stroke="#000" stroke-width="3.8" stroke-linecap="butt"/>
<line x1="2086.8" y1="406" x2="2078.5" y2="406" stroke="#000" stroke-width="3.8" stroke-linecap="butt"/>
<line x1="2086.8" y1="397.5" x2="2078.5" y2="397.5" stroke="#000" stroke-width="3.8" stroke-linecap="butt"/>
<line x1="2086.8" y1="391.5" x2="2078.5" y2="391.5" stroke="#000" stroke-width="3.8" stroke-linecap="butt"/>
<line x1="2086.8" y1="386.8" x2="2078.5" y2="386.8" stroke="#000" stroke-width="3.8" stroke-linecap="butt"/>
<line x1="2086.8" y1="383" x2="2078.5" y2="383" stroke="#000" stroke-width="3.8" stroke-linecap="butt"/>
<line x1="2086.8" y1="379.8" x2="2078.5" y2="379.8" stroke="#000" stroke-width="3.8" stroke-linecap="butt"/>
<line x1="2086.8" y1="377" x2="2078.5" y2="377" stroke="#000" stroke-width="3.8" stroke-linecap="butt"/>
<line x1="2086.8" y1="374.6" x2="2078.5" y2="374.6" stroke="#000" stroke-width="3.8" stroke-linecap="butt"/>
<line x1="2086.8" y1="372.4" x2="2064.8" y2="372.4" stroke="#000" stroke-width="3.8" stroke-linecap="butt"/>
<line x1="2086.8" y1="357.9" x2="2078.5" y2="357.9" stroke="#000" stroke-width="3.8" stroke-linecap="butt"/>
<line x1="2086.8" y1="349.4" x2="2078.5" y2="349.4" stroke="#000" stroke-width="3.8" stroke-linecap="butt"/>
<line x1="2086.8" y1="343.4" x2="2078.5" y2="343.4" stroke="#000" stroke-width="3.8" stroke-linecap="butt"/>
<line x1="2086.8" y1="338.8" x2="2078.5" y2="338.8" stroke="#000" stroke-width="3.8" stroke-linecap="butt"/>
<line x1="2086.8" y1="335" x2="2078.5" y2="335" stroke="#000" stroke-width="3.8" stroke-linecap="butt"/>
<line x1="2086.8" y1="331.7" x2="2078.5" y2="331.7" stroke="#000" stroke-width="3.8" stroke-linecap="butt"/>
<line x1="2086.8" y1="329" x2="2078.5" y2="329" stroke="#000" stroke-width="3.8" stroke-linecap="butt"/>
<line x1="2086.8" y1="326.5" x2="2078.5" y2="326.5" stroke="#000" stroke-width="3.8" stroke-linecap="butt"/>
<line x1="1500.8" y1="326.3" x2="1500.8" y2="334.6" stroke="#000" stroke-width="3.0" stroke-linecap="butt"/>
<line x1="1500.8" y1="562.6" x2="1500.8" y2="554.3" stroke="#000" stroke-width="3.0" stroke-linecap="butt"/>
<line x1="1554.2" y1="326.3" x2="1554.2" y2="334.6" stroke="#000" stroke-width="3.0" stroke-linecap="butt"/>
<line x1="1554.2" y1="562.6" x2="1554.2" y2="554.3" stroke="#000" stroke-width="3.0" stroke-linecap="butt"/>
<line x1="1607.5" y1="326.3" x2="1607.5" y2="346.3" stroke="#000" stroke-width="3.0" stroke-linecap="butt"/>
<line x1="1607.5" y1="562.6" x2="1607.5" y2="542.6" stroke="#000" stroke-width="3.0" stroke-linecap="butt"/>
<line x1="1660.8" y1="326.3" x2="1660.8" y2="334.6" stroke="#000" stroke-width="3.0" stroke-linecap="butt"/>
<line x1="1660.8" y1="562.6" x2="1660.8" y2="554.3" stroke="#000" stroke-width="3.0" stroke-linecap="butt"/>
<line x1="1714.2" y1="326.3" x2="1714.2" y2="334.6" stroke="#000" stroke-width="3.0" stroke-linecap="butt"/>
<line x1="1714.2" y1="562.6" x2="1714.2" y2="554.3" stroke="#000" stroke-width="3.0" stroke-linecap="butt"/>
<line x1="1767.5" y1="326.3" x2="1767.5" y2="346.3" stroke="#000" stroke-width="3.0" stroke-linecap="butt"/>
<line x1="1767.5" y1="562.6" x2="1767.5" y2="542.6" stroke="#000" stroke-width="3.0" stroke-linecap="butt"/>
<line x1="1820.8" y1="326.3" x2="1820.8" y2="334.6" stroke="#000" stroke-width="3.0" stroke-linecap="butt"/>
<line x1="1820.8" y1="562.6" x2="1820.8" y2="554.3" stroke="#000" stroke-width="3.0" stroke-linecap="butt"/>
<line x1="1874.2" y1="326.3" x2="1874.2" y2="334.6" stroke="#000" stroke-width="3.0" stroke-linecap="butt"/>
<line x1="1874.2" y1="562.6" x2="1874.2" y2="554.3" stroke="#000" stroke-width="3.0" stroke-linecap="butt"/>
<line x1="1927.5" y1="326.3" x2="1927.5" y2="346.3" stroke="#000" stroke-width="3.0" stroke-linecap="butt"/>
<line x1="1927.5" y1="562.6" x2="1927.5" y2="542.6" stroke="#000" stroke-width="3.0" stroke-linecap="butt"/>
<line x1="1980.8" y1="326.3" x2="1980.8" y2="334.6" stroke="#000" stroke-width="3.0" stroke-linecap="butt"/>
<line x1="1980.8" y1="562.6" x2="1980.8" y2="554.3" stroke="#000" stroke-width="3.0" stroke-linecap="butt"/>
<line x1="2034.2" y1="326.3" x2="2034.2" y2="334.6" stroke="#000" stroke-width="3.0" stroke-linecap="butt"/>
<line x1="2034.2" y1="562.6" x2="2034.2" y2="554.3" stroke="#000" stroke-width="3.0" stroke-linecap="butt"/>
<rect x="1447.2" y="324.3" width="641.6" height="240.3" fill="none" stroke="#000" stroke-width="4"/>
<line x1="1449.2" y1="813.7" x2="1457.5" y2="813.7" stroke="#000" stroke-width="3.8" stroke-linecap="butt"/>
<line x1="1449.2" y1="808.4" x2="1457.5" y2="808.4" stroke="#000" stroke-width="3.8" stroke-linecap="butt"/>
<line x1="1449.2" y1="804.7" x2="1457.5" y2="804.7" stroke="#000" stroke-width="3.8" stroke-linecap="butt"/>
<line x1="1449.2" y1="801.8" x2="1457.5" y2="801.8" stroke="#000" stroke-width="3.8" stroke-linecap="butt"/>
<line x1="1449.2" y1="799.4" x2="1457.5" y2="799.4" stroke="#000" stroke-width="3.8" stroke-linecap="butt"/>
<line x1="1449.2" y1="797.4" x2="1457.5" y2="797.4" stroke="#000" stroke-width="3.8" stroke-linecap="butt"/>
<line x1="1449.2" y1="795.6" x2="1457.5" y2="795.6" stroke="#000" stroke-width="3.8" stroke-linecap="butt"/>
<line x1="1449.2" y1="794.1" x2="1457.5" y2="794.1" stroke="#000" stroke-width="3.8" stroke-linecap="butt"/>
<line x1="1449.2" y1="792.7" x2="1471.2" y2="792.7" stroke="#000" stroke-width="3.8" stroke-linecap="butt"/>
<line x1="1449.2" y1="783.6" x2="1457.5" y2="783.6" stroke="#000" stroke-width="3.8" stroke-linecap="butt"/>
<line x1="1449.2" y1="778.3" x2="1457.5" y2="778.3" stroke="#000" stroke-width="3.8" stroke-linecap="butt"/>
<line x1="1449.2" y1="774.6" x2="1457.5" y2="774.6" stroke="#000" stroke-width="3.8" stroke-linecap="butt"/>
<line x1="1449.2" y1="771.7" x2="1457.5" y2="771.7" stroke="#000" stroke-width="3.8" stroke-linecap="butt"/>
<line x1="1449.2" y1="769.3" x2="1457.5" y2="769.3" stroke="#000" stroke-width="3.8" stroke-linecap="butt"/>
<line x1="1449.2" y1="767.3" x2="1457.5" y2="767.3" stroke="#000" stroke-width="3.8" stroke-linecap="butt"/>
<line x1="1449.2" y1="765.5" x2="1457.5" y2="765.5" stroke="#000" stroke-width="3.8" stroke-linecap="butt"/>
<line x1="1449.2" y1="764" x2="1457.5" y2="764" stroke="#000" stroke-width="3.8" stroke-linecap="butt"/>
<line x1="1449.2" y1="762.6" x2="1471.2" y2="762.6" stroke="#000" stroke-width="3.8" stroke-linecap="butt"/>
<line x1="1449.2" y1="753.5" x2="1457.5" y2="753.5" stroke="#000" stroke-width="3.8" stroke-linecap="butt"/>
<line x1="1449.2" y1="748.2" x2="1457.5" y2="748.2" stroke="#000" stroke-width="3.8" stroke-linecap="butt"/>
<line x1="1449.2" y1="744.5" x2="1457.5" y2="744.5" stroke="#000" stroke-width="3.8" stroke-linecap="butt"/>
<line x1="1449.2" y1="741.6" x2="1457.5" y2="741.6" stroke="#000" stroke-width="3.8" stroke-linecap="butt"/>
<line x1="1449.2" y1="739.2" x2="1457.5" y2="739.2" stroke="#000" stroke-width="3.8" stroke-linecap="butt"/>
<line x1="1449.2" y1="737.2" x2="1457.5" y2="737.2" stroke="#000" stroke-width="3.8" stroke-linecap="butt"/>
<line x1="1449.2" y1="735.4" x2="1457.5" y2="735.4" stroke="#000" stroke-width="3.8" stroke-linecap="butt"/>
<line x1="1449.2" y1="733.9" x2="1457.5" y2="733.9" stroke="#000" stroke-width="3.8" stroke-linecap="butt"/>
<line x1="1449.2" y1="732.5" x2="1471.2" y2="732.5" stroke="#000" stroke-width="3.8" stroke-linecap="butt"/>
<line x1="1449.2" y1="723.4" x2="1457.5" y2="723.4" stroke="#000" stroke-width="3.8" stroke-linecap="butt"/>
<line x1="1449.2" y1="718.1" x2="1457.5" y2="718.1" stroke="#000" stroke-width="3.8" stroke-linecap="butt"/>
<line x1="1449.2" y1="714.4" x2="1457.5" y2="714.4" stroke="#000" stroke-width="3.8" stroke-linecap="butt"/>
<line x1="1449.2" y1="711.5" x2="1457.5" y2="711.5" stroke="#000" stroke-width="3.8" stroke-linecap="butt"/>
<line x1="1449.2" y1="709.1" x2="1457.5" y2="709.1" stroke="#000" stroke-width="3.8" stroke-linecap="butt"/>
<line x1="1449.2" y1="707.1" x2="1457.5" y2="707.1" stroke="#000" stroke-width="3.8" stroke-linecap="butt"/>
<line x1="1449.2" y1="705.3" x2="1457.5" y2="705.3" stroke="#000" stroke-width="3.8" stroke-linecap="butt"/>
<line x1="1449.2" y1="703.8" x2="1457.5" y2="703.8" stroke="#000" stroke-width="3.8" stroke-linecap="butt"/>
<line x1="1449.2" y1="702.4" x2="1471.2" y2="702.4" stroke="#000" stroke-width="3.8" stroke-linecap="butt"/>
<line x1="1449.2" y1="693.3" x2="1457.5" y2="693.3" stroke="#000" stroke-width="3.8" stroke-linecap="butt"/>
<line x1="1449.2" y1="688" x2="1457.5" y2="688" stroke="#000" stroke-width="3.8" stroke-linecap="butt"/>
<line x1="1449.2" y1="684.3" x2="1457.5" y2="684.3" stroke="#000" stroke-width="3.8" stroke-linecap="butt"/>
<line x1="1449.2" y1="681.4" x2="1457.5" y2="681.4" stroke="#000" stroke-width="3.8" stroke-linecap="butt"/>
<line x1="1449.2" y1="679" x2="1457.5" y2="679" stroke="#000" stroke-width="3.8" stroke-linecap="butt"/>
<line x1="1449.2" y1="677" x2="1457.5" y2="677" stroke="#000" stroke-width="3.8" stroke-linecap="butt"/>
<line x1="1449.2" y1="675.2" x2="1457.5" y2="675.2" stroke="#000" stroke-width="3.8" stroke-linecap="butt"/>
<line x1="1449.2" y1="673.7" x2="1457.5" y2="673.7" stroke="#000" stroke-width="3.8" stroke-linecap="butt"/>
<line x1="1449.2" y1="672.3" x2="1471.2" y2="672.3" stroke="#000" stroke-width="3.8" stroke-linecap="butt"/>
<line x1="1449.2" y1="663.2" x2="1457.5" y2="663.2" stroke="#000" stroke-width="3.8" stroke-linecap="butt"/>
<line x1="1449.2" y1="657.9" x2="1457.5" y2="657.9" stroke="#000" stroke-width="3.8" stroke-linecap="butt"/>
<line x1="1449.2" y1="654.2" x2="1457.5" y2="654.2" stroke="#000" stroke-width="3.8" stroke-linecap="butt"/>
<line x1="1449.2" y1="651.3" x2="1457.5" y2="651.3" stroke="#000" stroke-width="3.8" stroke-linecap="butt"/>
<line x1="1449.2" y1="648.9" x2="1457.5" y2="648.9" stroke="#000" stroke-width="3.8" stroke-linecap="butt"/>
<line x1="1449.2" y1="646.9" x2="1457.5" y2="646.9" stroke="#000" stroke-width="3.8" stroke-linecap="butt"/>
<line x1="1449.2" y1="645.1" x2="1457.5" y2="645.1" stroke="#000" stroke-width="3.8" stroke-linecap="butt"/>
<line x1="1449.2" y1="643.6" x2="1457.5" y2="643.6" stroke="#000" stroke-width="3.8" stroke-linecap="butt"/>
<line x1="1449.2" y1="642.2" x2="1471.2" y2="642.2" stroke="#000" stroke-width="3.8" stroke-linecap="butt"/>
<line x1="1449.2" y1="633.1" x2="1457.5" y2="633.1" stroke="#000" stroke-width="3.8" stroke-linecap="butt"/>
<line x1="1449.2" y1="627.8" x2="1457.5" y2="627.8" stroke="#000" stroke-width="3.8" stroke-linecap="butt"/>
<line x1="1449.2" y1="624.1" x2="1457.5" y2="624.1" stroke="#000" stroke-width="3.8" stroke-linecap="butt"/>
<line x1="1449.2" y1="621.2" x2="1457.5" y2="621.2" stroke="#000" stroke-width="3.8" stroke-linecap="butt"/>
<line x1="1449.2" y1="618.8" x2="1457.5" y2="618.8" stroke="#000" stroke-width="3.8" stroke-linecap="butt"/>
<line x1="1449.2" y1="616.8" x2="1457.5" y2="616.8" stroke="#000" stroke-width="3.8" stroke-linecap="butt"/>
<line x1="1449.2" y1="615" x2="1457.5" y2="615" stroke="#000" stroke-width="3.8" stroke-linecap="butt"/>
<line x1="1449.2" y1="613.5" x2="1457.5" y2="613.5" stroke="#000" stroke-width="3.8" stroke-linecap="butt"/>
<line x1="1449.2" y1="612.1" x2="1471.2" y2="612.1" stroke="#000" stroke-width="3.8" stroke-linecap="butt"/>
<line x1="1449.2" y1="603" x2="1457.5" y2="603" stroke="#000" stroke-width="3.8" stroke-linecap="butt"/>
<line x1="1449.2" y1="597.7" x2="1457.5" y2="597.7" stroke="#000" stroke-width="3.8" stroke-linecap="butt"/>
<line x1="1449.2" y1="594" x2="1457.5" y2="594" stroke="#000" stroke-width="3.8" stroke-linecap="butt"/>
<line x1="1449.2" y1="591.1" x2="1457.5" y2="591.1" stroke="#000" stroke-width="3.8" stroke-linecap="butt"/>
<line x1="1449.2" y1="588.7" x2="1457.5" y2="588.7" stroke="#000" stroke-width="3.8" stroke-linecap="butt"/>
<line x1="1449.2" y1="586.7" x2="1457.5" y2="586.7" stroke="#000" stroke-width="3.8" stroke-linecap="butt"/>
<line x1="1449.2" y1="584.9" x2="1457.5" y2="584.9" stroke="#000" stroke-width="3.8" stroke-linecap="butt"/>
<line x1="2086.8" y1="813.7" x2="2078.5" y2="813.7" stroke="#000" stroke-width="3.8" stroke-linecap="butt"/>
<line x1="2086.8" y1="808.4" x2="2078.5" y2="808.4" stroke="#000" stroke-width="3.8" stroke-linecap="butt"/>
<line x1="2086.8" y1="804.7" x2="2078.5" y2="804.7" stroke="#000" stroke-width="3.8" stroke-linecap="butt"/>
<line x1="2086.8" y1="801.8" x2="2078.5" y2="801.8" stroke="#000" stroke-width="3.8" stroke-linecap="butt"/>
<line x1="2086.8" y1="799.4" x2="2078.5" y2="799.4" stroke="#000" stroke-width="3.8" stroke-linecap="butt"/>
<line x1="2086.8" y1="797.4" x2="2078.5" y2="797.4" stroke="#000" stroke-width="3.8" stroke-linecap="butt"/>
<line x1="2086.8" y1="795.6" x2="2078.5" y2="795.6" stroke="#000" stroke-width="3.8" stroke-linecap="butt"/>
<line x1="2086.8" y1="794.1" x2="2078.5" y2="794.1" stroke="#000" stroke-width="3.8" stroke-linecap="butt"/>
<line x1="2086.8" y1="792.7" x2="2064.8" y2="792.7" stroke="#000" stroke-width="3.8" stroke-linecap="butt"/>
<line x1="2086.8" y1="783.6" x2="2078.5" y2="783.6" stroke="#000" stroke-width="3.8" stroke-linecap="butt"/>
<line x1="2086.8" y1="778.3" x2="2078.5" y2="778.3" stroke="#000" stroke-width="3.8" stroke-linecap="butt"/>
<line x1="2086.8" y1="774.6" x2="2078.5" y2="774.6" stroke="#000" stroke-width="3.8" stroke-linecap="butt"/>
<line x1="2086.8" y1="771.7" x2="2078.5" y2="771.7" stroke="#000" stroke-width="3.8" stroke-linecap="butt"/>
<line x1="2086.8" y1="769.3" x2="2078.5" y2="769.3" stroke="#000" stroke-width="3.8" stroke-linecap="butt"/>
<line x1="2086.8" y1="767.3" x2="2078.5" y2="767.3" stroke="#000" stroke-width="3.8" stroke-linecap="butt"/>
<line x1="2086.8" y1="765.5" x2="2078.5" y2="765.5" stroke="#000" stroke-width="3.8" stroke-linecap="butt"/>
<line x1="2086.8" y1="764" x2="2078.5" y2="764" stroke="#000" stroke-width="3.8" stroke-linecap="butt"/>
<line x1="2086.8" y1="762.6" x2="2064.8" y2="762.6" stroke="#000" stroke-width="3.8" stroke-linecap="butt"/>
<line x1="2086.8" y1="753.5" x2="2078.5" y2="753.5" stroke="#000" stroke-width="3.8" stroke-linecap="butt"/>
<line x1="2086.8" y1="748.2" x2="2078.5" y2="748.2" stroke="#000" stroke-width="3.8" stroke-linecap="butt"/>
<line x1="2086.8" y1="744.5" x2="2078.5" y2="744.5" stroke="#000" stroke-width="3.8" stroke-linecap="butt"/>
<line x1="2086.8" y1="741.6" x2="2078.5" y2="741.6" stroke="#000" stroke-width="3.8" stroke-linecap="butt"/>
<line x1="2086.8" y1="739.2" x2="2078.5" y2="739.2" stroke="#000" stroke-width="3.8" stroke-linecap="butt"/>
<line x1="2086.8" y1="737.2" x2="2078.5" y2="737.2" stroke="#000" stroke-width="3.8" stroke-linecap="butt"/>
<line x1="2086.8" y1="735.4" x2="2078.5" y2="735.4" stroke="#000" stroke-width="3.8" stroke-linecap="butt"/>
<line x1="2086.8" y1="733.9" x2="2078.5" y2="733.9" stroke="#000" stroke-width="3.8" stroke-linecap="butt"/>
<line x1="2086.8" y1="732.5" x2="2064.8" y2="732.5" stroke="#000" stroke-width="3.8" stroke-linecap="butt"/>
<line x1="2086.8" y1="723.4" x2="2078.5" y2="723.4" stroke="#000" stroke-width="3.8" stroke-linecap="butt"/>
<line x1="2086.8" y1="718.1" x2="2078.5" y2="718.1" stroke="#000" stroke-width="3.8" stroke-linecap="butt"/>
<line x1="2086.8" y1="714.4" x2="2078.5" y2="714.4" stroke="#000" stroke-width="3.8" stroke-linecap="butt"/>
<line x1="2086.8" y1="711.5" x2="2078.5" y2="711.5" stroke="#000" stroke-width="3.8" stroke-linecap="butt"/>
<line x1="2086.8" y1="709.1" x2="2078.5" y2="709.1" stroke="#000" stroke-width="3.8" stroke-linecap="butt"/>
<line x1="2086.8" y1="707.1" x2="2078.5" y2="707.1" stroke="#000" stroke-width="3.8" stroke-linecap="butt"/>
<line x1="2086.8" y1="705.3" x2="2078.5" y2="705.3" stroke="#000" stroke-width="3.8" stroke-linecap="butt"/>
<line x1="2086.8" y1="703.8" x2="2078.5" y2="703.8" stroke="#000" stroke-width="3.8" stroke-linecap="butt"/>
<line x1="2086.8" y1="702.4" x2="2064.8" y2="702.4" stroke="#000" stroke-width="3.8" stroke-linecap="butt"/>
<line x1="2086.8" y1="693.3" x2="2078.5" y2="693.3" stroke="#000" stroke-width="3.8" stroke-linecap="butt"/>
<line x1="2086.8" y1="688" x2="2078.5" y2="688" stroke="#000" stroke-width="3.8" stroke-linecap="butt"/>
<line x1="2086.8" y1="684.3" x2="2078.5" y2="684.3" stroke="#000" stroke-width="3.8" stroke-linecap="butt"/>
<line x1="2086.8" y1="681.4" x2="2078.5" y2="681.4" stroke="#000" stroke-width="3.8" stroke-linecap="butt"/>
<line x1="2086.8" y1="679" x2="2078.5" y2="679" stroke="#000" stroke-width="3.8" stroke-linecap="butt"/>
<line x1="2086.8" y1="677" x2="2078.5" y2="677" stroke="#000" stroke-width="3.8" stroke-linecap="butt"/>
<line x1="2086.8" y1="675.2" x2="2078.5" y2="675.2" stroke="#000" stroke-width="3.8" stroke-linecap="butt"/>
<line x1="2086.8" y1="673.7" x2="2078.5" y2="673.7" stroke="#000" stroke-width="3.8" stroke-linecap="butt"/>
<line x1="2086.8" y1="672.3" x2="2064.8" y2="672.3" stroke="#000" stroke-width="3.8" stroke-linecap="butt"/>
<line x1="2086.8" y1="663.2" x2="2078.5" y2="663.2" stroke="#000" stroke-width="3.8" stroke-linecap="butt"/>
<line x1="2086.8" y1="657.9" x2="2078.5" y2="657.9" stroke="#000" stroke-width="3.8" stroke-linecap="butt"/>
<line x1="2086.8" y1="654.2" x2="2078.5" y2="654.2" stroke="#000" stroke-width="3.8" stroke-linecap="butt"/>
<line x1="2086.8" y1="651.3" x2="2078.5" y2="651.3" stroke="#000" stroke-width="3.8" stroke-linecap="butt"/>
<line x1="2086.8" y1="648.9" x2="2078.5" y2="648.9" stroke="#000" stroke-width="3.8" stroke-linecap="butt"/>
<line x1="2086.8" y1="646.9" x2="2078.5" y2="646.9" stroke="#000" stroke-width="3.8" stroke-linecap="butt"/>
<line x1="2086.8" y1="645.1" x2="2078.5" y2="645.1" stroke="#000" stroke-width="3.8" stroke-linecap="butt"/>
<line x1="2086.8" y1="643.6" x2="2078.5" y2="643.6" stroke="#000" stroke-width="3.8" stroke-linecap="butt"/>
<line x1="2086.8" y1="642.2" x2="2064.8" y2="642.2" stroke="#000" stroke-width="3.8" stroke-linecap="butt"/>
<line x1="2086.8" y1="633.1" x2="2078.5" y2="633.1" stroke="#000" stroke-width="3.8" stroke-linecap="butt"/>
<line x1="2086.8" y1="627.8" x2="2078.5" y2="627.8" stroke="#000" stroke-width="3.8" stroke-linecap="butt"/>
<line x1="2086.8" y1="624.1" x2="2078.5" y2="624.1" stroke="#000" stroke-width="3.8" stroke-linecap="butt"/>
<line x1="2086.8" y1="621.2" x2="2078.5" y2="621.2" stroke="#000" stroke-width="3.8" stroke-linecap="butt"/>
<line x1="2086.8" y1="618.8" x2="2078.5" y2="618.8" stroke="#000" stroke-width="3.8" stroke-linecap="butt"/>
<line x1="2086.8" y1="616.8" x2="2078.5" y2="616.8" stroke="#000" stroke-width="3.8" stroke-linecap="butt"/>
<line x1="2086.8" y1="615" x2="2078.5" y2="615" stroke="#000" stroke-width="3.8" stroke-linecap="butt"/>
<line x1="2086.8" y1="613.5" x2="2078.5" y2="613.5" stroke="#000" stroke-width="3.8" stroke-linecap="butt"/>
<line x1="2086.8" y1="612.1" x2="2064.8" y2="612.1" stroke="#000" stroke-width="3.8" stroke-linecap="butt"/>
<line x1="2086.8" y1="603" x2="2078.5" y2="603" stroke="#000" stroke-width="3.8" stroke-linecap="butt"/>
<line x1="2086.8" y1="597.7" x2="2078.5" y2="597.7" stroke="#000" stroke-width="3.8" stroke-linecap="butt"/>
<line x1="2086.8" y1="594" x2="2078.5" y2="594" stroke="#000" stroke-width="3.8" stroke-linecap="butt"/>
<line x1="2086.8" y1="591.1" x2="2078.5" y2="591.1" stroke="#000" stroke-width="3.8" stroke-linecap="butt"/>
<line x1="2086.8" y1="588.7" x2="2078.5" y2="588.7" stroke="#000" stroke-width="3.8" stroke-linecap="butt"/>
<line x1="2086.8" y1="586.7" x2="2078.5" y2="586.7" stroke="#000" stroke-width="3.8" stroke-linecap="butt"/>
<line x1="2086.8" y1="584.9" x2="2078.5" y2="584.9" stroke="#000" stroke-width="3.8" stroke-linecap="butt"/>
<line x1="1500.8" y1="584" x2="1500.8" y2="592.3" stroke="#000" stroke-width="3.0" stroke-linecap="butt"/>
<line x1="1500.8" y1="820.8" x2="1500.8" y2="812.5" stroke="#000" stroke-width="3.0" stroke-linecap="butt"/>
<line x1="1554.2" y1="584" x2="1554.2" y2="592.3" stroke="#000" stroke-width="3.0" stroke-linecap="butt"/>
<line x1="1554.2" y1="820.8" x2="1554.2" y2="812.5" stroke="#000" stroke-width="3.0" stroke-linecap="butt"/>
<line x1="1607.5" y1="584" x2="1607.5" y2="604" stroke="#000" stroke-width="3.0" stroke-linecap="butt"/>
<line x1="1607.5" y1="820.8" x2="1607.5" y2="800.8" stroke="#000" stroke-width="3.0" stroke-linecap="butt"/>
<line x1="1660.8" y1="584" x2="1660.8" y2="592.3" stroke="#000" stroke-width="3.0" stroke-linecap="butt"/>
<line x1="1660.8" y1="820.8" x2="1660.8" y2="812.5" stroke="#000" stroke-width="3.0" stroke-linecap="butt"/>
<line x1="1714.2" y1="584" x2="1714.2" y2="592.3" stroke="#000" stroke-width="3.0" stroke-linecap="butt"/>
<line x1="1714.2" y1="820.8" x2="1714.2" y2="812.5" stroke="#000" stroke-width="3.0" stroke-linecap="butt"/>
<line x1="1767.5" y1="584" x2="1767.5" y2="604" stroke="#000" stroke-width="3.0" stroke-linecap="butt"/>
<line x1="1767.5" y1="820.8" x2="1767.5" y2="800.8" stroke="#000" stroke-width="3.0" stroke-linecap="butt"/>
<line x1="1820.8" y1="584" x2="1820.8" y2="592.3" stroke="#000" stroke-width="3.0" stroke-linecap="butt"/>
<line x1="1820.8" y1="820.8" x2="1820.8" y2="812.5" stroke="#000" stroke-width="3.0" stroke-linecap="butt"/>
<line x1="1874.2" y1="584" x2="1874.2" y2="592.3" stroke="#000" stroke-width="3.0" stroke-linecap="butt"/>
<line x1="1874.2" y1="820.8" x2="1874.2" y2="812.5" stroke="#000" stroke-width="3.0" stroke-linecap="butt"/>
<line x1="1927.5" y1="584" x2="1927.5" y2="604" stroke="#000" stroke-width="3.0" stroke-linecap="butt"/>
<line x1="1927.5" y1="820.8" x2="1927.5" y2="800.8" stroke="#000" stroke-width="3.0" stroke-linecap="butt"/>
<line x1="1980.8" y1="584" x2="1980.8" y2="592.3" stroke="#000" stroke-width="3.0" stroke-linecap="butt"/>
<line x1="1980.8" y1="820.8" x2="1980.8" y2="812.5" stroke="#000" stroke-width="3.0" stroke-linecap="butt"/>
<line x1="2034.2" y1="584" x2="2034.2" y2="592.3" stroke="#000" stroke-width="3.0" stroke-linecap="butt"/>
<line x1="2034.2" y1="820.8" x2="2034.2" y2="812.5" stroke="#000" stroke-width="3.0" stroke-linecap="butt"/>
<rect x="1447.2" y="582" width="641.6" height="240.8" fill="none" stroke="#000" stroke-width="4"/>
<rect x="1593.6" y="1003.5" width="298" height="298.3" fill="#B84A22" filter="url(#afm)"/>
<rect x="1593.6" y="1230" width="110" height="60" fill="#F0B070" opacity="0.13"/>
<line x1="1593.6" y1="1269.5" x2="1700" y2="1269.5" stroke="#FFD8A0" stroke-width="0.9" opacity="0.55"/>
<line x1="1700" y1="1270" x2="1891.6" y2="1270" stroke="#FFD8A0" stroke-width="0.7" opacity="0.25"/>
<rect x="1593.6" y="1003.5" width="298" height="298.3" fill="none" stroke="#3a2a20" stroke-width="1.2"/>
<rect x="1904.9" y="1003.7" width="22.6" height="297.9" fill="url(#cbg)" stroke="#333" stroke-width="1.2"/>
<line x1="1927.5" y1="1003.7" x2="1939.7" y2="1003.7" stroke="#555" stroke-width="1.6" stroke-linecap="butt"/>
<line x1="1927.5" y1="1080.9" x2="1939.7" y2="1080.9" stroke="#555" stroke-width="1.6" stroke-linecap="butt"/>
<line x1="1927.5" y1="1136" x2="1939.7" y2="1136" stroke="#555" stroke-width="1.6" stroke-linecap="butt"/>
<line x1="1927.5" y1="1191.1" x2="1939.7" y2="1191.1" stroke="#555" stroke-width="1.6" stroke-linecap="butt"/>
<line x1="1927.5" y1="1246.3" x2="1939.7" y2="1246.3" stroke="#555" stroke-width="1.6" stroke-linecap="butt"/>
<line x1="1927.5" y1="1301.4" x2="1939.7" y2="1301.4" stroke="#555" stroke-width="1.6" stroke-linecap="butt"/>
<line x1="1927.5" y1="1003.7" x2="1927.5" y2="1301.6" stroke="#333" stroke-width="1.6" stroke-linecap="butt"/>
<text x="1951.5" y="1024.6" font-family="'Liberation Sans', Arial, sans-serif" font-size="37.5" fill="#000" >5.4 nm</text>
<text x="1951.5" y="1096.7" font-family="'Liberation Sans', Arial, sans-serif" font-size="37.5" fill="#000" >4.0</text>
<text x="1951.5" y="1152.5" font-family="'Liberation Sans', Arial, sans-serif" font-size="37.5" fill="#000" >3.0</text>
<text x="1951.5" y="1207" font-family="'Liberation Sans', Arial, sans-serif" font-size="37.5" fill="#000" >2.0</text>
<text x="1951.5" y="1261" font-family="'Liberation Sans', Arial, sans-serif" font-size="37.5" fill="#000" >1.0</text>
<text x="1951.5" y="1313.8" font-family="'Liberation Sans', Arial, sans-serif" font-size="37.5" fill="#000" >0</text>
<line x1="1583.3" y1="1003.5" x2="1593.6" y2="1003.5" stroke="#555" stroke-width="1.6" stroke-linecap="butt"/>
<line x1="1593.6" y1="992.1" x2="1593.6" y2="1003.5" stroke="#555" stroke-width="1.6" stroke-linecap="butt"/>
<line x1="1653.2" y1="992.1" x2="1653.2" y2="1003.5" stroke="#555" stroke-width="1.6" stroke-linecap="butt"/>
<line x1="1712.8" y1="992.1" x2="1712.8" y2="1003.5" stroke="#555" stroke-width="1.6" stroke-linecap="butt"/>
<line x1="1772.8" y1="992.1" x2="1772.8" y2="1003.5" stroke="#555" stroke-width="1.6" stroke-linecap="butt"/>
<line x1="1832.3" y1="992.1" x2="1832.3" y2="1003.5" stroke="#555" stroke-width="1.6" stroke-linecap="butt"/>
<line x1="1583.3" y1="1063.3" x2="1593.6" y2="1063.3" stroke="#555" stroke-width="1.6" stroke-linecap="butt"/>
<line x1="1583.3" y1="1123" x2="1593.6" y2="1123" stroke="#555" stroke-width="1.6" stroke-linecap="butt"/>
<line x1="1583.3" y1="1182.5" x2="1593.6" y2="1182.5" stroke="#555" stroke-width="1.6" stroke-linecap="butt"/>
<line x1="1583.3" y1="1242.2" x2="1593.6" y2="1242.2" stroke="#555" stroke-width="1.6" stroke-linecap="butt"/>
<text x="1593.7" y="986" font-family="'Liberation Sans', Arial, sans-serif" font-size="35" fill="#000" text-anchor="middle" >0</text>
<text x="1653.2" y="986" font-family="'Liberation Sans', Arial, sans-serif" font-size="35" fill="#000" text-anchor="middle" >1</text>
<text x="1712.8" y="986" font-family="'Liberation Sans', Arial, sans-serif" font-size="35" fill="#000" text-anchor="middle" >2</text>
<text x="1772.8" y="986" font-family="'Liberation Sans', Arial, sans-serif" font-size="35" fill="#000" text-anchor="middle" >3</text>
<text x="1832.3" y="986" font-family="'Liberation Sans', Arial, sans-serif" font-size="35" fill="#000" text-anchor="middle" >4</text>
<text x="1855" y="986" font-family="'Liberation Sans', Arial, sans-serif" font-size="35" fill="#000" >&#956;m</text>
<text x="1564" y="1021.5" font-family="'Liberation Sans', Arial, sans-serif" font-size="35" fill="#000" text-anchor="middle" >0</text>
<text x="1564" y="1080.8" font-family="'Liberation Sans', Arial, sans-serif" font-size="35" fill="#000" text-anchor="middle" >1</text>
<text x="1564" y="1140.5" font-family="'Liberation Sans', Arial, sans-serif" font-size="35" fill="#000" text-anchor="middle" >2</text>
<text x="1564" y="1200" font-family="'Liberation Sans', Arial, sans-serif" font-size="35" fill="#000" text-anchor="middle" >3</text>
<text x="1564" y="1259.7" font-family="'Liberation Sans', Arial, sans-serif" font-size="35" fill="#000" text-anchor="middle" >4</text>
<text x="84" y="46" font-family="'Liberation Sans', Arial, sans-serif" font-size="55" fill="#000" font-weight="bold" >a</text>
<text x="1464.5" y="46.4" font-family="'Liberation Sans', Arial, sans-serif" font-size="53" fill="#000" font-weight="bold" >b</text>
<text x="1465.3" y="962" font-family="'Liberation Sans', Arial, sans-serif" font-size="53" fill="#000" font-weight="bold" >c</text>
<text x="196.7" y="131.4" font-family="'Liberation Sans', Arial, sans-serif" font-size="38.5" fill="#5F16D2" >MgO-sub./W(5)/Mn</text>
<text x="526" y="150" font-family="'Liberation Sans', Arial, sans-serif" font-size="20" fill="#5F16D2" >3</text>
<text x="538.7" y="131.4" font-family="'Liberation Sans', Arial, sans-serif" font-size="38.5" fill="#5F16D2" >Sn(30)/MgO(5)</text>
<text x="807.5" y="131.4" font-family="'Liberation Sans', Arial, sans-serif" font-size="38.5" fill="#5F16D2" font-style="italic" >T</text>
<text x="829" y="150" font-family="'Liberation Sans', Arial, sans-serif" font-size="20" fill="#5F16D2" >a</text>
<text x="852.5" y="131.4" font-family="'Liberation Sans', Arial, sans-serif" font-size="38.5" fill="#5F16D2" >=</text>
<text x="886" y="131.4" font-family="'Liberation Sans', Arial, sans-serif" font-size="38.5" fill="#5F16D2" >700</text>
<text x="961" y="131.4" font-family="'Liberation Sans', 'WenQuanYi Zen Hei', 'IPAGothic', sans-serif" font-size="38.5" fill="#5F16D2" >&#8451;</text>
<text x="196.7" y="182.6" font-family="'Liberation Sans', Arial, sans-serif" font-size="38.5" fill="#F00A08" >MgO-sub./W(5)/Mn</text>
<text x="526" y="201.2" font-family="'Liberation Sans', Arial, sans-serif" font-size="20" fill="#F00A08" >3</text>
<text x="538.7" y="182.6" font-family="'Liberation Sans', Arial, sans-serif" font-size="38.5" fill="#F00A08" >Sn(30)/MgO(5)</text>
<text x="807.5" y="182.6" font-family="'Liberation Sans', Arial, sans-serif" font-size="38.5" fill="#F00A08" font-style="italic" >T</text>
<text x="829" y="201.2" font-family="'Liberation Sans', Arial, sans-serif" font-size="20" fill="#F00A08" >a</text>
<text x="852.5" y="182.6" font-family="'Liberation Sans', Arial, sans-serif" font-size="38.5" fill="#F00A08" >=</text>
<text x="886" y="182.6" font-family="'Liberation Sans', Arial, sans-serif" font-size="38.5" fill="#F00A08" >650</text>
<text x="961" y="182.6" font-family="'Liberation Sans', 'WenQuanYi Zen Hei', 'IPAGothic', sans-serif" font-size="38.5" fill="#F00A08" >&#8451;</text>
<text x="196.7" y="232" font-family="'Liberation Sans', Arial, sans-serif" font-size="38.5" fill="#000" >MgO-sub.</text>
<line x1="90.7" y1="113" x2="190" y2="113" stroke="#5F16D2" stroke-width="6.5" stroke-linecap="butt"/>
<line x1="90.7" y1="164.8" x2="190" y2="164.8" stroke="#F00A08" stroke-width="6.5" stroke-linecap="butt"/>
<line x1="90.7" y1="215.3" x2="190" y2="215.3" stroke="#000" stroke-width="6.5" stroke-linecap="butt"/>
<g transform="translate(145.2,509.6) rotate(-90)"><text x="0" y="0" font-family="'Liberation Sans', Arial, sans-serif" font-size="38" fill="#0A00D2" >Mn</text><text x="54" y="9.5" font-family="'Liberation Sans', Arial, sans-serif" font-size="24" fill="#0A00D2" >3</text><text x="69" y="0" font-family="'Liberation Sans', Arial, sans-serif" font-size="38" fill="#0A00D2" >Sn:</text><text x="137.5" y="0" font-family="'Liberation Sans', Arial, sans-serif" font-size="38" fill="#0A00D2" >0</text><text x="158.8" y="0" font-family="'Liberation Sans', Arial, sans-serif" font-size="38" fill="#0A00D2" >1</text><text x="180.1" y="0" font-family="'Liberation Sans', Arial, sans-serif" font-size="38" fill="#0A00D2" >1</text><text x="201.4" y="0" font-family="'Liberation Sans', Arial, sans-serif" font-size="38" fill="#0A00D2" >0</text><line x1="181.6" y1="-34.3" x2="199.1" y2="-34.3" stroke="#0A00D2" stroke-width="2.2" stroke-linecap="butt"/></g>
<g transform="translate(500.8,455.1) rotate(-90)"><text x="0" y="0" font-family="'Liberation Sans', Arial, sans-serif" font-size="38" fill="#0A00D2" >Mn</text><text x="54" y="9.5" font-family="'Liberation Sans', Arial, sans-serif" font-size="24" fill="#0A00D2" >3</text><text x="69" y="0" font-family="'Liberation Sans', Arial, sans-serif" font-size="38" fill="#0A00D2" >Sn:</text><text x="137.5" y="0" font-family="'Liberation Sans', Arial, sans-serif" font-size="38" fill="#0A00D2" >0</text><text x="158.8" y="0" font-family="'Liberation Sans', Arial, sans-serif" font-size="38" fill="#0A00D2" >2</text><text x="180.1" y="0" font-family="'Liberation Sans', Arial, sans-serif" font-size="38" fill="#0A00D2" >2</text><text x="201.4" y="0" font-family="'Liberation Sans', Arial, sans-serif" font-size="38" fill="#0A00D2" >0</text><line x1="181.6" y1="-34.3" x2="199.1" y2="-34.3" stroke="#0A00D2" stroke-width="2.2" stroke-linecap="butt"/></g>
<g transform="translate(566.5,607.6) rotate(-90)"><text x="0" y="0" font-family="'Liberation Sans', Arial, sans-serif" font-size="38" fill="#0A00D2" >Mn</text><text x="54" y="9.5" font-family="'Liberation Sans', Arial, sans-serif" font-size="24" fill="#0A00D2" >3</text><text x="69" y="0" font-family="'Liberation Sans', Arial, sans-serif" font-size="38" fill="#0A00D2" >Sn:</text><text x="137.5" y="0" font-family="'Liberation Sans', Arial, sans-serif" font-size="38" fill="#0A00D2" >0</text><text x="158.8" y="0" font-family="'Liberation Sans', Arial, sans-serif" font-size="38" fill="#0A00D2" >0</text><text x="180.1" y="0" font-family="'Liberation Sans', Arial, sans-serif" font-size="38" fill="#0A00D2" >0</text><text x="201.4" y="0" font-family="'Liberation Sans', Arial, sans-serif" font-size="38" fill="#0A00D2" >2</text></g>
<g transform="translate(608.7,600) rotate(-90)"><text x="0" y="0" font-family="'Liberation Sans', Arial, sans-serif" font-size="38" fill="#0A00D2" >Mn</text><text x="54" y="9.5" font-family="'Liberation Sans', Arial, sans-serif" font-size="24" fill="#0A00D2" >3</text><text x="69" y="0" font-family="'Liberation Sans', Arial, sans-serif" font-size="38" fill="#0A00D2" >Sn:</text><text x="137.5" y="0" font-family="'Liberation Sans', Arial, sans-serif" font-size="38" fill="#0A00D2" >0</text><text x="158.8" y="0" font-family="'Liberation Sans', Arial, sans-serif" font-size="38" fill="#0A00D2" >2</text><text x="180.1" y="0" font-family="'Liberation Sans', Arial, sans-serif" font-size="38" fill="#0A00D2" >2</text><text x="201.4" y="0" font-family="'Liberation Sans', Arial, sans-serif" font-size="38" fill="#0A00D2" >1</text><line x1="181.6" y1="-34.3" x2="199.1" y2="-34.3" stroke="#0A00D2" stroke-width="2.2" stroke-linecap="butt"/></g>
<g transform="translate(1314.4,537.7) rotate(-90)"><text x="0" y="0" font-family="'Liberation Sans', Arial, sans-serif" font-size="38" fill="#0A00D2" >Mn</text><text x="54" y="9.5" font-family="'Liberation Sans', Arial, sans-serif" font-size="24" fill="#0A00D2" >3</text><text x="69" y="0" font-family="'Liberation Sans', Arial, sans-serif" font-size="38" fill="#0A00D2" >Sn:</text><text x="137.5" y="0" font-family="'Liberation Sans', Arial, sans-serif" font-size="38" fill="#0A00D2" >0</text><text x="158.8" y="0" font-family="'Liberation Sans', Arial, sans-serif" font-size="38" fill="#0A00D2" >4</text><text x="180.1" y="0" font-family="'Liberation Sans', Arial, sans-serif" font-size="38" fill="#0A00D2" >4</text><text x="201.4" y="0" font-family="'Liberation Sans', Arial, sans-serif" font-size="38" fill="#0A00D2" >0</text><line x1="181.6" y1="-34.3" x2="199.1" y2="-34.3" stroke="#0A00D2" stroke-width="2.2" stroke-linecap="butt"/></g>
<g transform="translate(1226.5,454.3) rotate(-90)"><text x="0" y="0" font-family="'Liberation Sans', Arial, sans-serif" font-size="38" fill="#0A6E0F" >W: 211</text></g>
<text x="1176.5" y="942" font-family="'Liberation Sans', Arial, sans-serif" font-size="42.5" fill="#0A00D2" font-weight="bold" >Mn</text>
<text x="1241.5" y="949.5" font-family="'Liberation Sans', Arial, sans-serif" font-size="22" fill="#0A00D2" font-weight="bold" >3</text>
<text x="1253.5" y="942" font-family="'Liberation Sans', Arial, sans-serif" font-size="42.5" fill="#0A00D2" font-weight="bold" >Sn</text>
<text x="1261" y="1129" font-family="'Liberation Sans', Arial, sans-serif" font-size="43.5" fill="#0A6E0F" font-weight="bold" >W</text>
<text x="165" y="1273.4" font-family="'Liberation Sans', Arial, sans-serif" font-size="46" fill="#000" text-anchor="middle" >20</text>
<text x="361" y="1273.4" font-family="'Liberation Sans', Arial, sans-serif" font-size="46" fill="#000" text-anchor="middle" >30</text>
<text x="557" y="1273.4" font-family="'Liberation Sans', Arial, sans-serif" font-size="46" fill="#000" text-anchor="middle" >40</text>
<text x="753" y="1273.4" font-family="'Liberation Sans', Arial, sans-serif" font-size="46" fill="#000" text-anchor="middle" >50</text>
<text x="949" y="1273.4" font-family="'Liberation Sans', Arial, sans-serif" font-size="46" fill="#000" text-anchor="middle" >60</text>
<text x="1145" y="1273.4" font-family="'Liberation Sans', Arial, sans-serif" font-size="46" fill="#000" text-anchor="middle" >70</text>
<text x="1341" y="1273.4" font-family="'Liberation Sans', Arial, sans-serif" font-size="46" fill="#000" text-anchor="middle" >80</text>
<text x="614" y="1310.8" font-family="'Liberation Sans', Arial, sans-serif" font-size="46" fill="#000" >2</text>
<text x="642" y="1310.8" font-family="'Liberation Serif', 'Times New Roman', serif" font-size="46" fill="#000" font-style="italic" transform="translate(642,1310.8) scale(1.22,0.96) translate(-642,-1310.8)">&#952;</text>
<text x="677.5" y="1310.8" font-family="'Liberation Sans', Arial, sans-serif" font-size="46" fill="#000" >(deg.)</text>
<text transform="translate(37.6,595.3) rotate(-90)" font-family="'Liberation Sans', Arial, sans-serif" font-size="46.8">Intensity (a.u.)</text>
<text transform="translate(1419.6,595.0) rotate(-90)" font-family="'Liberation Sans', Arial, sans-serif" font-size="46.9">Intensity (a.u.)</text>
<text x="1447.5" y="860.5" font-family="'Liberation Sans', Arial, sans-serif" font-size="40.5" fill="#000" text-anchor="middle" >0</text>
<text x="1607.5" y="860.5" font-family="'Liberation Sans', Arial, sans-serif" font-size="40.5" fill="#000" text-anchor="middle" >90</text>
<text x="1767.5" y="860.5" font-family="'Liberation Sans', Arial, sans-serif" font-size="40.5" fill="#000" text-anchor="middle" >180</text>
<text x="1927.5" y="860.5" font-family="'Liberation Sans', Arial, sans-serif" font-size="40.5" fill="#000" text-anchor="middle" >270</text>
<text x="2087.5" y="860.5" font-family="'Liberation Sans', Arial, sans-serif" font-size="40.5" fill="#000" text-anchor="middle" >360</text>
<text x="1705" y="899" font-family="'Liberation Serif', 'Times New Roman', serif" font-size="40" fill="#000" font-style="italic" >&#981;</text>
<text x="1734" y="899" font-family="'Liberation Sans', Arial, sans-serif" font-size="40" fill="#000" >(deg.)</text>
<line x1="1864.9" y1="108.8" x2="1946.7" y2="108.8" stroke="#F00A08" stroke-width="5.4" stroke-linecap="butt"/>
<text x="1952.2" y="124.2" font-family="'Liberation Sans', Arial, sans-serif" font-size="40.5" fill="#F00A08" >Mn</text>
<text x="2008" y="144.8" font-family="'Liberation Sans', Arial, sans-serif" font-size="25" fill="#F00A08" >3</text>
<text x="2022.9" y="124.2" font-family="'Liberation Sans', Arial, sans-serif" font-size="40.5" fill="#F00A08" >Sn</text>
<line x1="1927.9" y1="361.7" x2="2009.3" y2="361.7" stroke="#0A05C3" stroke-width="5.4" stroke-linecap="butt"/>
<text x="2014.5" y="378" font-family="'Liberation Sans', Arial, sans-serif" font-size="40" fill="#0A05C3" >W</text>
<line x1="1888.4" y1="621.5" x2="1970" y2="621.5" stroke="#000" stroke-width="5.4" stroke-linecap="butt"/>
<text x="1976" y="638" font-family="'Liberation Sans', Arial, sans-serif" font-size="40.5" fill="#000" >MgO</text></svg></body></html>
